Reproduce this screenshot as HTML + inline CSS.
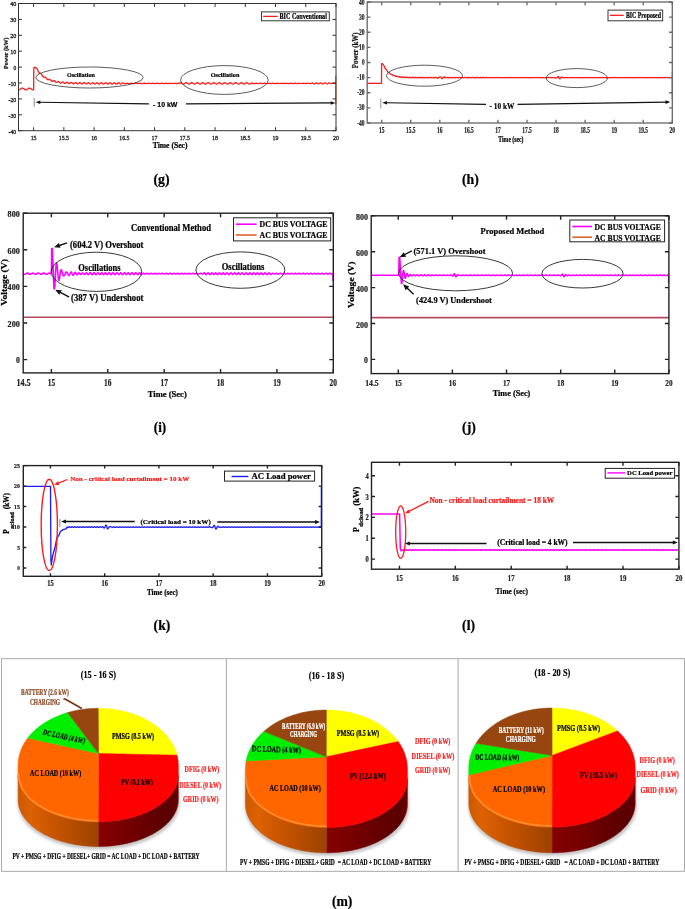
<!DOCTYPE html>
<html><head><meta charset="utf-8"><title>Figure</title>
<style>html,body{margin:0;padding:0;background:#fff;} svg{display:block;}</style>
</head><body>
<svg width="685" height="909" viewBox="0 0 685 909">
<rect width="685" height="909" fill="#fff"/>
<path d="M18.5,89.84 L19,89.9 L19.5,89.78 L20,89.5 L20.5,89.13 L21,88.73 L21.5,88.39 L22,88.16 L22.5,88.1 L23,88.22 L23.5,88.5 L24,88.87 L24.5,89.27 L25,89.61 L25.5,89.84 L26,89.9 L26.5,89.78 L27,89.5 L27.5,89.13 L28,88.73 L28.5,88.39 L29,88.16 L29.5,88.1 L30,88.22 L30.5,88.5 L31,88.87 L31.5,89.27 L32,89.61 L32.5,89.84 L33,89.9 L33.5,89.78 L33.62,89.5 L33.82,67.8 L35.12,67.2 L36.62,68.4 L37.12,68.87 L37.62,69.95 L38.12,71.12 L38.62,72.17 L39.12,72.89 L39.62,73.25 L40.12,73.37 L40.62,73.49 L41.12,73.82 L41.62,74.45 L42.12,75.31 L42.62,76.2 L43.12,76.88 L43.62,77.21 L44.12,77.23 L44.62,77.11 L45.12,77.1 L45.62,77.35 L46.12,77.92 L46.62,78.65 L47.12,79.31 L47.62,79.71 L48.12,79.77 L48.62,79.57 L49.12,79.33 L49.62,79.29 L50.12,79.56 L50.62,80.1 L51.12,80.74 L51.62,81.22 L52.12,81.38 L52.62,81.23 L53.12,80.9 L53.62,80.64 L54.12,80.65 L54.62,80.97 L55.12,81.52 L55.62,82.05 L56.12,82.36 L56.62,82.33 L57.12,82.03 L57.62,81.65 L58.12,81.43 L58.62,81.52 L59.12,81.92 L59.62,82.44 L60.12,82.87 L60.62,83.02 L61.12,82.83 L61.62,82.44 L62.12,82.07 L62.62,81.93 L63.12,82.13 L63.62,82.57 L64.12,83.07 L64.62,83.37 L65.12,83.36 L65.62,83.05 L66.12,82.61 L66.62,82.3 L67.12,82.27 L67.62,82.57 L68.12,83.05 L68.62,83.48 L69.12,83.65 L69.62,83.49 L70.12,83.09 L70.62,82.67 L71.12,82.44 L71.62,82.54 L72.12,82.93 L72.62,83.41 L73.12,83.74 L73.62,83.77 L74.12,83.49 L74.62,83.04 L75.12,82.67 L75.62,82.56 L76.12,82.78 L76.62,83.23 L77.12,83.67 L77.62,83.89 L78.12,83.78 L78.62,83.4 L79.12,82.95 L79.62,82.66 L80.12,82.68 L80.62,83.01 L81.12,83.48 L81.62,83.86 L82.12,83.95 L82.62,83.71 L83.12,83.27 L83.62,82.85 L84.12,82.68 L84.62,82.83 L85.12,83.24 L85.62,83.7 L86.12,83.97 L86.62,83.92 L87.12,83.58 L87.62,83.12 L88.12,82.77 L88.62,82.73 L89.12,83 L89.62,83.45 L90.12,83.86 L90.62,84.01 L91.12,83.83 L91.62,83.41 L92.12,82.97 L92.62,82.73 L93.12,82.82 L93.62,83.19 L94.12,83.65 L94.62,83.97 L95.12,83.99 L95.62,83.7 L96.12,83.24 L96.62,82.85 L97.12,82.74 L97.62,82.95 L98.12,83.38 L98.62,83.82 L99.12,84.03 L99.62,83.92 L100.12,83.53 L100.62,83.07 L101.12,82.77 L101.62,82.79 L102.12,83.11 L102.62,83.58 L103.12,83.95 L103.62,84.03 L104.12,83.79 L104.62,83.34 L105.12,82.92 L105.62,82.74 L106.12,82.89 L106.62,83.3 L107.12,83.75 L107.62,84.02 L108.12,83.97 L108.62,83.63 L109.12,83.16 L109.62,82.82 L110.12,82.77 L110.62,83.04 L111.12,83.49 L111.62,83.9 L112.12,84.05 L112.62,83.86 L113.12,83.44 L113.62,83 L114.12,82.76 L114.62,82.84 L115.12,83.21 L115.62,83.67 L116.12,84 L116.62,84.01 L117.12,83.72 L117.62,83.26 L118.12,82.87 L118.62,82.75 L119.12,82.96 L119.62,83.4 L120.12,83.83 L120.62,84.04 L121.12,83.93 L121.62,83.54 L122.12,83.08 L122.62,82.78 L123.12,82.8 L123.62,83.12 L124.12,83.59 L124.62,83.53 L125.12,83.55 L125.62,83.49 L126.12,83.39 L126.62,83.29 L127.12,83.25 L127.62,83.28 L128.12,83.38 L128.62,83.48 L129.12,83.54 L129.62,83.53 L130.12,83.45 L130.62,83.35 L131.12,83.27 L131.62,83.25 L132.12,83.32 L132.62,83.42 L133.12,83.51 L133.62,83.55 L134.12,83.51 L134.62,83.41 L135.12,83.31 L135.62,83.25 L136.12,83.27 L136.62,83.36 L137.12,83.46 L137.62,83.54 L138.12,83.54 L138.62,83.47 L139.12,83.37 L139.62,83.28 L140.12,83.25 L140.62,83.3 L141.12,83.4 L141.62,83.5 L142.12,83.55 L142.62,83.52 L143.12,83.43 L143.62,83.33 L144.12,83.26 L144.62,83.26 L145.12,83.34 L145.62,83.44 L146.12,83.53 L146.62,83.55 L147.12,83.49 L147.62,83.39 L148.12,83.29 L148.62,83.25 L149.12,83.28 L149.62,83.38 L150.12,83.48 L150.62,83.55 L151.12,83.53 L151.62,83.45 L152.12,83.35 L152.62,83.27 L153.12,83.25 L153.62,83.32 L154.12,83.42 L154.62,83.52 L155.12,83.55 L155.62,83.51 L156.12,83.41 L156.62,83.31 L157.12,83.25 L157.62,83.27 L158.12,83.36 L158.62,83.46 L159.12,83.54 L159.62,83.54 L160.12,83.47 L160.62,83.37 L161.12,83.28 L161.62,83.25 L162.12,83.3 L162.62,83.4 L163.12,83.5 L163.62,83.55 L164.12,83.52 L164.62,83.43 L165.12,83.33 L165.62,83.26 L166.12,83.26 L166.62,83.34 L167.12,83.44 L167.62,83.53 L168.12,83.55 L168.62,83.49 L169.12,83.39 L169.62,83.29 L170.12,83.25 L170.62,83.28 L171.12,83.38 L171.62,83.48 L172.12,83.55 L172.62,83.53 L173.12,83.45 L173.62,83.35 L174.12,83.27 L174.62,83.25 L175.12,83.32 L175.62,83.42 L176.12,83.52 L176.62,83.55 L177.12,83.51 L177.62,83.41 L178.12,83.31 L178.62,83.25 L179.12,83.6 L179.62,83.2 L180.12,82.87 L180.62,82.71 L181.12,82.76 L181.62,83.02 L182.12,83.4 L182.62,83.78 L183.12,84.04 L183.62,84.09 L184.12,83.93 L184.62,83.6 L185.12,83.2 L185.62,82.87 L186.12,82.71 L186.62,82.76 L187.12,83.02 L187.62,83.4 L188.12,83.78 L188.62,84.04 L189.12,84.09 L189.62,83.93 L190.12,83.6 L190.62,83.2 L191.12,82.87 L191.62,82.71 L192.12,82.76 L192.62,83.02 L193.12,83.4 L193.62,83.78 L194.12,84.04 L194.62,84.09 L195.12,83.93 L195.62,83.6 L196.12,83.2 L196.62,82.87 L197.12,82.71 L197.62,82.76 L198.12,83.02 L198.62,83.4 L199.12,83.78 L199.62,84.04 L200.12,84.09 L200.62,83.93 L201.12,83.6 L201.62,83.2 L202.12,82.87 L202.62,82.71 L203.12,82.76 L203.62,83.02 L204.12,83.4 L204.62,83.78 L205.12,84.04 L205.62,84.09 L206.12,83.93 L206.62,83.6 L207.12,83.2 L207.62,82.87 L208.12,82.71 L208.62,82.76 L209.12,83.02 L209.62,83.4 L210.12,83.78 L210.62,84.04 L211.12,84.09 L211.62,83.93 L212.12,83.6 L212.62,83.2 L213.12,82.87 L213.62,82.71 L214.12,82.76 L214.62,83.02 L215.12,83.4 L215.62,83.78 L216.12,84.04 L216.62,84.09 L217.12,83.93 L217.62,83.6 L218.12,83.2 L218.62,82.87 L219.12,82.71 L219.62,82.76 L220.12,83.02 L220.62,83.4 L221.12,83.78 L221.62,84.04 L222.12,84.09 L222.62,83.93 L223.12,83.6 L223.62,83.2 L224.12,82.87 L224.62,82.71 L225.12,82.76 L225.62,83.02 L226.12,83.4 L226.62,83.78 L227.12,84.04 L227.62,84.09 L228.12,83.93 L228.62,83.6 L229.12,83.2 L229.62,82.87 L230.12,82.71 L230.62,82.76 L231.12,83.02 L231.62,83.4 L232.12,83.78 L232.62,84.04 L233.12,84.09 L233.62,83.93 L234.12,83.6 L234.62,83.2 L235.12,82.87 L235.62,82.71 L236.12,82.76 L236.62,83.02 L237.12,83.4 L237.62,83.78 L238.12,84.04 L238.62,84.09 L239.12,83.93 L239.62,83.6 L240.12,83.2 L240.62,82.87 L241.12,82.71 L241.62,82.76 L242.12,83.02 L242.62,83.4 L243.12,83.78 L243.62,84.04 L244.12,84.09 L244.62,83.93 L245.12,83.6 L245.62,83.2 L246.12,82.87 L246.62,82.71 L247.12,82.76 L247.62,83.02 L248.12,83.4 L248.62,83.78 L249.12,84.04 L249.62,84.09 L250.12,83.93 L250.62,83.6 L251.12,83.2 L251.62,83.26 L252.12,83.26 L252.62,83.34 L253.12,83.44 L253.62,83.53 L254.12,83.55 L254.62,83.49 L255.12,83.39 L255.62,83.29 L256.12,83.25 L256.62,83.28 L257.12,83.38 L257.62,83.48 L258.12,83.55 L258.62,83.53 L259.12,83.45 L259.62,83.35 L260.12,83.27 L260.62,83.25 L261.12,83.32 L261.62,83.42 L262.12,83.52 L262.62,83.55 L263.12,83.51 L263.62,83.41 L264.12,83.31 L264.62,83.25 L265.12,83.27 L265.62,83.36 L266.12,83.46 L266.62,83.54 L267.12,83.54 L267.62,83.47 L268.12,83.37 L268.62,83.28 L269.12,83.25 L269.62,83.3 L270.12,83.4 L270.62,83.5 L271.12,83.55 L271.62,83.52 L272.12,83.43 L272.62,83.33 L273.12,83.26 L273.62,83.26 L274.12,83.34 L274.62,83.44 L275.12,83.53 L275.62,83.55 L276.12,83.49 L276.62,83.39 L277.12,83.29 L277.62,83.25 L278.12,83.28 L278.62,83.38 L279.12,83.48 L279.62,83.55 L280.12,83.53 L280.62,83.45 L281.12,83.35 L281.62,83.27 L282.12,83.25 L282.62,83.32 L283.12,83.42 L283.62,83.52 L284.12,83.55 L284.62,83.51 L285.12,83.41 L285.62,83.31 L286.12,83.25 L286.62,83.27 L287.12,83.36 L287.62,83.46 L288.12,83.54 L288.62,83.54 L289.12,83.47 L289.62,83.37 L290.12,83.28 L290.62,83.25 L291.12,83.3 L291.62,83.4 L292.12,83.5 L292.62,83.55 L293.12,83.52 L293.62,83.43 L294.12,83.33 L294.62,83.26 L295.12,83.26 L295.62,83.34 L296.12,83.44 L296.62,83.53 L297.12,83.55 L297.62,83.49 L298.12,83.39 L298.62,83.29 L299.12,83.25 L299.62,83.28 L300.12,83.38 L300.62,83.48 L301.12,83.55 L301.62,83.53 L302.12,83.45 L302.62,83.35 L303.12,83.27 L303.62,83.25 L304.12,83.32 L304.62,83.42 L305.12,83.52 L305.62,83.55 L306.12,83.51 L306.62,83.41 L307.12,83.31 L307.62,83.25 L308.12,83.27 L308.62,83.36 L309.12,83.46 L309.62,83.54 L310.12,83.54 L310.62,83.47 L311.12,83.37 L311.62,83.28 L312.12,82.9 L312.62,83.07 L313.12,83.4 L313.62,83.73 L314.12,83.9 L314.62,83.81 L315.12,83.51 L315.62,83.16 L316.12,82.93 L316.62,82.94 L317.12,83.19 L317.62,83.54 L318.12,83.83 L318.62,83.89 L319.12,83.71 L319.62,83.36 L320.12,83.04 L320.62,82.9 L321.12,83.02 L321.62,83.33 L322.12,83.68 L322.62,83.88 L323.12,83.84 L323.62,83.58 L324.12,83.22 L324.62,82.96 L325.12,82.92 L325.62,83.12 L326.12,83.47 L326.62,83.78 L327.12,83.9 L327.62,83.76 L328.12,83.44 L328.62,83.09 L329.12,82.91 L329.62,82.97 L330.12,83.36 L330.62,83.46 L331.12,83.54 L331.62,83.54 L332.12,83.47 L332.62,83.37 L333.12,83.28 L333.62,83.25 L334.12,83.3 L334.62,83.4 L335.12,83.5 L335.7,83" stroke="#ff1a1a" stroke-width="1.3" fill="none" stroke-linejoin="round" />
<line x1="335.8" y1="76" x2="335.8" y2="104.6" stroke="#ff3030" stroke-width="1" />
<rect x="18.5" y="3.5" width="317.5" height="127.2" stroke="#333" stroke-width="1" fill="none"/>
<path d="M33.62,130.7v-3.5M33.62,3.5v3.5M63.86,130.7v-3.5M63.86,3.5v3.5M94.1,130.7v-3.5M94.1,3.5v3.5M124.33,130.7v-3.5M124.33,3.5v3.5M154.57,130.7v-3.5M154.57,3.5v3.5M184.81,130.7v-3.5M184.81,3.5v3.5M215.05,130.7v-3.5M215.05,3.5v3.5M245.29,130.7v-3.5M245.29,3.5v3.5M275.52,130.7v-3.5M275.52,3.5v3.5M305.76,130.7v-3.5M305.76,3.5v3.5M336,130.7v-3.5M336,3.5v3.5M18.5,3.5h3.5M336,3.5h-3.5M18.5,19.4h3.5M336,19.4h-3.5M18.5,35.3h3.5M336,35.3h-3.5M18.5,51.2h3.5M336,51.2h-3.5M18.5,67.1h3.5M336,67.1h-3.5M18.5,83h3.5M336,83h-3.5M18.5,98.9h3.5M336,98.9h-3.5M18.5,114.8h3.5M336,114.8h-3.5M18.5,130.7h3.5M336,130.7h-3.5" stroke="#333" stroke-width="1" fill="none"/>
<text x="30.67" y="139.58" font-family="'Liberation Serif', 'Times New Roman', serif" font-weight="normal" font-size="6.4" fill="#222" stroke="#222" stroke-width="0.3" textLength="5.9" lengthAdjust="spacingAndGlyphs">15</text>
<text x="58.76" y="139.58" font-family="'Liberation Serif', 'Times New Roman', serif" font-weight="normal" font-size="6.4" fill="#222" stroke="#222" stroke-width="0.3" textLength="10.2" lengthAdjust="spacingAndGlyphs">15.5</text>
<text x="91.15" y="139.58" font-family="'Liberation Serif', 'Times New Roman', serif" font-weight="normal" font-size="6.4" fill="#222" stroke="#222" stroke-width="0.3" textLength="5.9" lengthAdjust="spacingAndGlyphs">16</text>
<text x="119.23" y="139.58" font-family="'Liberation Serif', 'Times New Roman', serif" font-weight="normal" font-size="6.4" fill="#222" stroke="#222" stroke-width="0.3" textLength="10.2" lengthAdjust="spacingAndGlyphs">16.5</text>
<text x="151.62" y="139.58" font-family="'Liberation Serif', 'Times New Roman', serif" font-weight="normal" font-size="6.4" fill="#222" stroke="#222" stroke-width="0.3" textLength="5.9" lengthAdjust="spacingAndGlyphs">17</text>
<text x="179.71" y="139.58" font-family="'Liberation Serif', 'Times New Roman', serif" font-weight="normal" font-size="6.4" fill="#222" stroke="#222" stroke-width="0.3" textLength="10.2" lengthAdjust="spacingAndGlyphs">17.5</text>
<text x="212.1" y="139.58" font-family="'Liberation Serif', 'Times New Roman', serif" font-weight="normal" font-size="6.4" fill="#222" stroke="#222" stroke-width="0.3" textLength="5.9" lengthAdjust="spacingAndGlyphs">18</text>
<text x="240.19" y="139.58" font-family="'Liberation Serif', 'Times New Roman', serif" font-weight="normal" font-size="6.4" fill="#222" stroke="#222" stroke-width="0.3" textLength="10.2" lengthAdjust="spacingAndGlyphs">18.5</text>
<text x="272.57" y="139.58" font-family="'Liberation Serif', 'Times New Roman', serif" font-weight="normal" font-size="6.4" fill="#222" stroke="#222" stroke-width="0.3" textLength="5.9" lengthAdjust="spacingAndGlyphs">19</text>
<text x="300.66" y="139.58" font-family="'Liberation Serif', 'Times New Roman', serif" font-weight="normal" font-size="6.4" fill="#222" stroke="#222" stroke-width="0.3" textLength="10.2" lengthAdjust="spacingAndGlyphs">19.5</text>
<text x="333.05" y="139.58" font-family="'Liberation Serif', 'Times New Roman', serif" font-weight="normal" font-size="6.4" fill="#222" stroke="#222" stroke-width="0.3" textLength="5.9" lengthAdjust="spacingAndGlyphs">20</text>
<text x="10.15" y="6.48" font-family="'Liberation Serif', 'Times New Roman', serif" font-weight="normal" font-size="6.4" fill="#222" stroke="#222" stroke-width="0.3" textLength="6.1" lengthAdjust="spacingAndGlyphs">40</text>
<text x="10.15" y="22.38" font-family="'Liberation Serif', 'Times New Roman', serif" font-weight="normal" font-size="6.4" fill="#222" stroke="#222" stroke-width="0.3" textLength="6.1" lengthAdjust="spacingAndGlyphs">30</text>
<text x="10.15" y="38.28" font-family="'Liberation Serif', 'Times New Roman', serif" font-weight="normal" font-size="6.4" fill="#222" stroke="#222" stroke-width="0.3" textLength="6.1" lengthAdjust="spacingAndGlyphs">20</text>
<text x="10.15" y="54.18" font-family="'Liberation Serif', 'Times New Roman', serif" font-weight="normal" font-size="6.4" fill="#222" stroke="#222" stroke-width="0.3" textLength="6.1" lengthAdjust="spacingAndGlyphs">10</text>
<text x="13.45" y="70.08" font-family="'Liberation Serif', 'Times New Roman', serif" font-weight="normal" font-size="6.4" fill="#222" stroke="#222" stroke-width="0.3" textLength="2.8" lengthAdjust="spacingAndGlyphs">0</text>
<text x="8.55" y="85.98" font-family="'Liberation Serif', 'Times New Roman', serif" font-weight="normal" font-size="6.4" fill="#222" stroke="#222" stroke-width="0.3" textLength="7.7" lengthAdjust="spacingAndGlyphs">-10</text>
<text x="8.55" y="101.88" font-family="'Liberation Serif', 'Times New Roman', serif" font-weight="normal" font-size="6.4" fill="#222" stroke="#222" stroke-width="0.3" textLength="7.7" lengthAdjust="spacingAndGlyphs">-20</text>
<text x="8.55" y="117.78" font-family="'Liberation Serif', 'Times New Roman', serif" font-weight="normal" font-size="6.4" fill="#222" stroke="#222" stroke-width="0.3" textLength="7.7" lengthAdjust="spacingAndGlyphs">-30</text>
<text x="8.55" y="133.68" font-family="'Liberation Serif', 'Times New Roman', serif" font-weight="normal" font-size="6.4" fill="#222" stroke="#222" stroke-width="0.3" textLength="7.7" lengthAdjust="spacingAndGlyphs">-40</text>
<text transform="translate(8.3,69.2) rotate(-90)" x="0.11" y="0" font-family="'Liberation Serif', 'Times New Roman', serif" font-weight="bold" font-size="7" fill="#111" stroke="#111" stroke-width="0.22" textLength="31.68" lengthAdjust="spacingAndGlyphs">Power (kW)</text>
<text x="152.71" y="147.9" font-family="'Liberation Serif', 'Times New Roman', serif" font-weight="bold" font-size="7.7" fill="#000" stroke="#000" stroke-width="0.22" textLength="34.78" lengthAdjust="spacingAndGlyphs">Time (Sec)</text>
<rect x="261.4" y="11.9" width="67.9" height="8.9" stroke="#222" stroke-width="0.9" fill="#fff"/>
<line x1="263.2" y1="16.4" x2="277.7" y2="16.4" stroke="#ff1a1a" stroke-width="1.3" />
<text x="279.51" y="18.56" font-family="'Liberation Serif', 'Times New Roman', serif" font-weight="bold" font-size="7.2" fill="#000" stroke="#000" stroke-width="0.22" textLength="47.38" lengthAdjust="spacingAndGlyphs">BIC Conventional</text>
<ellipse cx="89.5" cy="77.5" rx="53.6" ry="10.5" stroke="#333" stroke-width="0.8" fill="none"/>
<ellipse cx="224.4" cy="80" rx="43.8" ry="14.4" stroke="#333" stroke-width="0.8" fill="none"/>
<text x="67.01" y="76.94" font-family="'Liberation Serif', 'Times New Roman', serif" font-weight="bold" font-size="6.8" fill="#000" stroke="#000" stroke-width="0.22" textLength="27.88" lengthAdjust="spacingAndGlyphs">Oscillation</text>
<text x="210.81" y="77.24" font-family="'Liberation Serif', 'Times New Roman', serif" font-weight="bold" font-size="6.8" fill="#000" stroke="#000" stroke-width="0.22" textLength="28.58" lengthAdjust="spacingAndGlyphs">Oscillation</text>
<line x1="34.2" y1="98.1" x2="34.2" y2="106.5" stroke="#777" stroke-width="0.9" />
<line x1="148.9" y1="103.8" x2="39.34" y2="102.25" stroke="#111" stroke-width="1.2" />
<path d="M35.5,102.2 L40.32,100.57 L40.28,103.97 Z" fill="#111"/>
<line x1="186" y1="103.8" x2="331.66" y2="102.92" stroke="#111" stroke-width="1.2" />
<path d="M335.5,102.9 L330.71,104.63 L330.69,101.23 Z" fill="#111"/>
<text x="153.11" y="106.86" font-family="'Liberation Sans', Arial, sans-serif" font-weight="bold" font-size="7.4" fill="#000" stroke="#000" stroke-width="0.22" textLength="24.28" lengthAdjust="spacingAndGlyphs">- 10 kW</text>
<text x="153.51" y="183.56" font-family="'Liberation Serif', 'Times New Roman', serif" font-weight="bold" font-size="14" fill="#000" stroke="#000" stroke-width="0.22" textLength="16.08" lengthAdjust="spacingAndGlyphs">(g)</text>
<path d="M367.2,83.3 L381.5,83.3 L381.6,63.6 L382.8,63.8 L383.5,65.04 L384,65.76 L384.5,66.82 L385,68.09 L385.5,69.09 L386,69.56 L386.5,69.87 L387,70.49 L387.5,71.43 L388,72.22 L388.5,72.51 L389,72.56 L389.5,72.87 L390,73.56 L390.5,74.23 L391,74.44 L391.5,74.33 L392,74.41 L392.5,74.91 L393,75.5 L393.5,75.7 L394,75.52 L394.5,75.42 L395,75.76 L395.5,76.3 L396,76.52 L396.5,76.31 L397,76.1 L397.5,76.29 L398,76.78 L398.5,77.05 L399,76.86 L399.5,76.56 L400,76.62 L400.5,77.05 L401,77.37 L401.5,77.24 L402,76.89 L402.5,76.84 L403,77.2 L403.5,77.56 L404,77.5 L404.5,77.14 L405,76.98 L405.5,77.27 L406,77.66 L406.5,77.68 L407,77.33 L407.5,77.08 L408,77.28 L408.5,77.69 L409,77.8 L409.5,77.49 L410,77.17 L410.5,77.28 L411,77.68 L411.5,77.88 L412,77.62 L412.5,77.26 L413,77.26 L413.5,77.64 L414,77.91 L414.5,77.73 L415,77.34 L415.5,77.25 L416,77.58 L416.5,77.91 L417,77.82 L417.5,77.43 L418,77.25 L418.5,77.51 L419,77.89 L419.5,77.89 L420,77.52 L420.5,77.26 L421,77.44 L421.5,77.84 L422,77.94 L422.5,77.61 L423,77.28 L423.5,77.38 L424,77.78 L424.5,77.96 L425,77.7 L425.5,77.33 L426,77.33 L426.5,77.7 L427,77.97 L427.5,77.78 L428,77.39 L428.5,77.29 L429,77.62 L429.5,77.95 L430,77.85 L430.5,77.46 L431,77.27 L431.5,77.54 L432,77.91 L432.5,77.91 L433,77.54 L433.5,77.28 L434,77.46 L434.5,77.86 L435,77.95 L435.5,77.62 L436,77.3 L436.5,77.39 L437,77.79 L437.5,78.25 L438,78.19 L438.5,77.75 L439,77.34 L439.5,77.09 L440,76.9 L440.5,76.86 L441,77.38 L441.5,78.22 L442,78.7 L442.5,78.58 L443,77.86 L443.5,77.05 L444,76.79 L444.5,77.26 L445,77.91 L445.5,77.91 L446,77.54 L446.5,77.28 L447,77.46 L447.5,77.86 L448,77.95 L448.5,77.62 L449,77.3 L449.5,77.39 L450,77.79 L450.5,77.97 L451,77.71 L451.5,77.34 L452,77.34 L452.5,77.71 L453,77.97 L453.5,77.79 L454,77.39 L454.5,77.3 L455,77.62 L455.5,77.95 L456,77.86 L456.5,77.46 L457,77.28 L457.5,77.54 L458,77.91 L458.5,77.91 L459,77.54 L459.5,77.28 L460,77.46 L460.5,77.86 L461,77.95 L461.5,77.62 L462,77.3 L462.5,77.39 L463,77.79 L463.5,77.97 L464,77.71 L464.5,77.34 L465,77.34 L465.5,77.71 L466,77.97 L466.5,77.79 L467,77.39 L467.5,77.3 L468,77.62 L468.5,77.95 L469,77.86 L469.5,77.46 L470,77.28 L470.5,77.54 L471,77.91 L471.5,77.91 L472,77.54 L472.5,77.28 L473,77.46 L473.5,77.86 L474,77.95 L474.5,77.62 L475,77.3 L475.5,77.39 L476,77.79 L476.5,77.97 L477,77.71 L477.5,77.34 L478,77.34 L478.5,77.71 L479,77.97 L479.5,77.79 L480,77.39 L480.5,77.3 L481,77.62 L481.5,77.95 L482,77.86 L482.5,77.46 L483,77.28 L483.5,77.54 L484,77.91 L484.5,77.91 L485,77.54 L485.5,77.28 L486,77.46 L486.5,77.7 L487,77.74 L487.5,77.62 L488,77.51 L488.5,77.55 L489,77.68 L489.5,77.74 L490,77.65 L490.5,77.53 L491,77.53 L491.5,77.65 L492,77.74 L492.5,77.68 L493,77.55 L493.5,77.51 L494,77.62 L494.5,77.74 L495,77.7 L495.5,77.57 L496,77.51 L496.5,77.6 L497,77.72 L497.5,77.72 L498,77.6 L498.5,77.51 L499,77.57 L499.5,77.7 L500,77.74 L500.5,77.62 L501,77.51 L501.5,77.55 L502,77.68 L502.5,77.74 L503,77.65 L503.5,77.53 L504,77.53 L504.5,77.65 L505,77.74 L505.5,77.68 L506,77.55 L506.5,77.51 L507,77.62 L507.5,77.74 L508,77.7 L508.5,77.57 L509,77.51 L509.5,77.6 L510,77.72 L510.5,77.72 L511,77.6 L511.5,77.51 L512,77.57 L512.5,77.7 L513,77.74 L513.5,77.62 L514,77.51 L514.5,77.55 L515,77.68 L515.5,77.74 L516,77.65 L516.5,77.53 L517,77.53 L517.5,77.65 L518,77.74 L518.5,77.68 L519,77.55 L519.5,77.51 L520,77.62 L520.5,77.74 L521,77.7 L521.5,77.57 L522,77.51 L522.5,77.6 L523,77.72 L523.5,77.72 L524,77.6 L524.5,77.51 L525,77.57 L525.5,77.7 L526,77.74 L526.5,77.62 L527,77.51 L527.5,77.55 L528,77.68 L528.5,77.74 L529,77.65 L529.5,77.53 L530,77.53 L530.5,77.65 L531,77.74 L531.5,77.68 L532,77.55 L532.5,77.51 L533,77.62 L533.5,77.74 L534,77.7 L534.5,77.57 L535,77.51 L535.5,77.6 L536,77.72 L536.5,77.72 L537,77.6 L537.5,77.51 L538,77.57 L538.5,77.7 L539,77.74 L539.5,77.62 L540,77.51 L540.5,77.55 L541,77.68 L541.5,77.74 L542,77.65 L542.5,77.53 L543,77.53 L543.5,77.65 L544,77.74 L544.5,77.68 L545,77.55 L545.5,77.51 L546,77.62 L546.5,77.74 L547,77.7 L547.5,77.57 L548,77.51 L548.5,77.6 L549,77.72 L549.5,77.72 L550,77.6 L550.5,77.51 L551,77.57 L551.5,77.7 L552,77.74 L552.5,77.62 L553,77.51 L553.5,77.55 L554,77.68 L554.5,77.74 L555,77.67 L555.5,77.82 L556,78.01 L556.5,78.06 L557,77.72 L557.5,77.03 L558,76.46 L558.5,76.61 L559,77.68 L559.5,78.69 L560,78.77 L560.5,78.16 L561,77.48 L561.5,77.17 L562,77.25 L562.5,77.46 L563,77.6 L563.5,77.51 L564,77.57 L564.5,77.7 L565,77.74 L565.5,77.62 L566,77.51 L566.5,77.55 L567,77.68 L567.5,77.74 L568,77.65 L568.5,77.53 L569,77.53 L569.5,77.65 L570,77.74 L570.5,77.68 L571,77.55 L571.5,77.51 L572,77.62 L572.5,77.74 L573,77.7 L573.5,77.57 L574,77.51 L574.5,77.6 L575,77.72 L575.5,77.72 L576,77.6 L576.5,77.51 L577,77.57 L577.5,77.7 L578,77.74 L578.5,77.62 L579,77.51 L579.5,77.55 L580,77.68 L580.5,77.74 L581,77.65 L581.5,77.53 L582,77.53 L582.5,77.65 L583,77.74 L583.5,77.68 L584,77.55 L584.5,77.51 L585,77.62 L585.5,77.74 L586,77.7 L586.5,77.57 L587,77.51 L587.5,77.6 L588,77.72 L588.5,77.72 L589,77.6 L589.5,77.51 L590,77.57 L590.5,77.7 L591,77.74 L591.5,77.63 L592,77.51 L592.5,77.55 L593,77.68 L593.5,77.74 L594,77.65 L594.5,77.53 L595,77.53 L595.5,77.65 L596,77.74 L596.5,77.68 L597,77.55 L597.5,77.51 L598,77.62 L598.5,77.74 L599,77.7 L599.5,77.57 L600,77.51 L600.5,77.6 L601,77.72 L601.5,77.72 L602,77.6 L602.5,77.51 L603,77.57 L603.5,77.7 L604,77.74 L604.5,77.63 L605,77.51 L605.5,77.55 L606,77.68 L606.5,77.74 L607,77.65 L607.5,77.53 L608,77.53 L608.5,77.65 L609,77.74 L609.5,77.68 L610,77.55 L610.5,77.51 L611,77.62 L611.5,77.74 L612,77.7 L612.5,77.57 L613,77.51 L613.5,77.6 L614,77.72 L614.5,77.72 L615,77.6 L615.5,77.51 L616,77.57 L616.5,77.7 L617,77.74 L617.5,77.62 L618,77.51 L618.5,77.55 L619,77.68 L619.5,77.74 L620,77.65 L620.5,77.53 L621,77.53 L621.5,77.65 L622,77.74 L622.5,77.68 L623,77.55 L623.5,77.51 L624,77.62 L624.5,77.74 L625,77.7 L625.5,77.57 L626,77.51 L626.5,77.6 L627,77.72 L627.5,77.72 L628,77.6 L628.5,77.51 L629,77.57 L629.5,77.7 L630,77.74 L630.5,77.63 L631,77.51 L631.5,77.55 L632,77.68 L632.5,77.74 L633,77.65 L633.5,77.53 L634,77.53 L634.5,77.65 L635,77.74 L635.5,77.68 L636,77.55 L636.5,77.51 L637,77.62 L637.5,77.74 L638,77.7 L638.5,77.57 L639,77.51 L639.5,77.6 L640,77.72 L640.5,77.72 L641,77.6 L641.5,77.51 L642,77.57 L642.5,77.7 L643,77.74 L643.5,77.62 L644,77.51 L644.5,77.55 L645,77.68 L645.5,77.74 L646,77.65 L646.5,77.53 L647,77.53 L647.5,77.65 L648,77.74 L648.5,77.68 L649,77.55 L649.5,77.51 L650,77.62 L650.5,77.74 L651,77.7 L651.5,77.57 L652,77.51 L652.5,77.6 L653,77.72 L653.5,77.72 L654,77.6 L654.5,77.51 L655,77.57 L655.5,77.7 L656,77.74 L656.5,77.63 L657,77.51 L657.5,77.55 L658,77.68 L658.5,77.74 L659,77.65 L659.5,77.53 L660,77.53 L660.5,77.65 L661,77.74 L661.5,77.68 L662,77.55 L662.5,77.51 L663,77.62 L663.5,77.74 L664,77.7 L664.5,77.57 L665,77.51 L665.5,77.6 L666,77.72 L666.5,77.72 L667,77.6 L667.5,77.51 L668,77.57 L668.5,77.7 L669,77.74 L669.5,77.62 L670,77.51 L670.5,77.55 L671,77.68 L671.5,77.74 L672,77.62" stroke="#ff1a1a" stroke-width="1.3" fill="none" stroke-linejoin="round" />
<line x1="672.1" y1="72.4" x2="672.1" y2="99.3" stroke="#ff5050" stroke-width="1" />
<rect x="367.2" y="2" width="305.1" height="121" stroke="#666" stroke-width="1.3" fill="none"/>
<path d="M381.73,123v-3.2M381.73,2v3.2M410.79,123v-3.2M410.79,2v3.2M439.84,123v-3.2M439.84,2v3.2M468.9,123v-3.2M468.9,2v3.2M497.96,123v-3.2M497.96,2v3.2M527.01,123v-3.2M527.01,2v3.2M556.07,123v-3.2M556.07,2v3.2M585.13,123v-3.2M585.13,2v3.2M614.19,123v-3.2M614.19,2v3.2M643.24,123v-3.2M643.24,2v3.2M672.3,123v-3.2M672.3,2v3.2M367.2,2h3.2M672.3,2h-3.2M367.2,17.12h3.2M672.3,17.12h-3.2M367.2,32.25h3.2M672.3,32.25h-3.2M367.2,47.38h3.2M672.3,47.38h-3.2M367.2,62.5h3.2M672.3,62.5h-3.2M367.2,77.62h3.2M672.3,77.62h-3.2M367.2,92.75h3.2M672.3,92.75h-3.2M367.2,107.88h3.2M672.3,107.88h-3.2M367.2,123h3.2M672.3,123h-3.2" stroke="#666" stroke-width="1.3" fill="none"/>
<text x="378.99" y="133.15" font-family="'Liberation Serif', 'Times New Roman', serif" font-weight="bold" font-size="7.2" fill="#222" stroke="#222" stroke-width="0.22" textLength="5.48" lengthAdjust="spacingAndGlyphs">15</text>
<text x="406.1" y="133.15" font-family="'Liberation Serif', 'Times New Roman', serif" font-weight="bold" font-size="7.2" fill="#222" stroke="#222" stroke-width="0.22" textLength="9.38" lengthAdjust="spacingAndGlyphs">15.5</text>
<text x="437.1" y="133.15" font-family="'Liberation Serif', 'Times New Roman', serif" font-weight="bold" font-size="7.2" fill="#222" stroke="#222" stroke-width="0.22" textLength="5.48" lengthAdjust="spacingAndGlyphs">16</text>
<text x="464.21" y="133.15" font-family="'Liberation Serif', 'Times New Roman', serif" font-weight="bold" font-size="7.2" fill="#222" stroke="#222" stroke-width="0.22" textLength="9.38" lengthAdjust="spacingAndGlyphs">16.5</text>
<text x="495.22" y="133.15" font-family="'Liberation Serif', 'Times New Roman', serif" font-weight="bold" font-size="7.2" fill="#222" stroke="#222" stroke-width="0.22" textLength="5.48" lengthAdjust="spacingAndGlyphs">17</text>
<text x="522.32" y="133.15" font-family="'Liberation Serif', 'Times New Roman', serif" font-weight="bold" font-size="7.2" fill="#222" stroke="#222" stroke-width="0.22" textLength="9.38" lengthAdjust="spacingAndGlyphs">17.5</text>
<text x="553.33" y="133.15" font-family="'Liberation Serif', 'Times New Roman', serif" font-weight="bold" font-size="7.2" fill="#222" stroke="#222" stroke-width="0.22" textLength="5.48" lengthAdjust="spacingAndGlyphs">18</text>
<text x="580.44" y="133.15" font-family="'Liberation Serif', 'Times New Roman', serif" font-weight="bold" font-size="7.2" fill="#222" stroke="#222" stroke-width="0.22" textLength="9.38" lengthAdjust="spacingAndGlyphs">18.5</text>
<text x="611.45" y="133.15" font-family="'Liberation Serif', 'Times New Roman', serif" font-weight="bold" font-size="7.2" fill="#222" stroke="#222" stroke-width="0.22" textLength="5.48" lengthAdjust="spacingAndGlyphs">19</text>
<text x="638.55" y="133.15" font-family="'Liberation Serif', 'Times New Roman', serif" font-weight="bold" font-size="7.2" fill="#222" stroke="#222" stroke-width="0.22" textLength="9.38" lengthAdjust="spacingAndGlyphs">19.5</text>
<text x="669.56" y="133.15" font-family="'Liberation Serif', 'Times New Roman', serif" font-weight="bold" font-size="7.2" fill="#222" stroke="#222" stroke-width="0.22" textLength="5.48" lengthAdjust="spacingAndGlyphs">20</text>
<text x="359.01" y="4.58" font-family="'Liberation Serif', 'Times New Roman', serif" font-weight="bold" font-size="7.6" fill="#222" stroke="#222" stroke-width="0.22" textLength="5.58" lengthAdjust="spacingAndGlyphs">40</text>
<text x="359.01" y="19.71" font-family="'Liberation Serif', 'Times New Roman', serif" font-weight="bold" font-size="7.6" fill="#222" stroke="#222" stroke-width="0.22" textLength="5.58" lengthAdjust="spacingAndGlyphs">30</text>
<text x="359.01" y="34.83" font-family="'Liberation Serif', 'Times New Roman', serif" font-weight="bold" font-size="7.6" fill="#222" stroke="#222" stroke-width="0.22" textLength="5.58" lengthAdjust="spacingAndGlyphs">20</text>
<text x="359.01" y="49.96" font-family="'Liberation Serif', 'Times New Roman', serif" font-weight="bold" font-size="7.6" fill="#222" stroke="#222" stroke-width="0.22" textLength="5.58" lengthAdjust="spacingAndGlyphs">10</text>
<text x="361.91" y="65.08" font-family="'Liberation Serif', 'Times New Roman', serif" font-weight="bold" font-size="7.6" fill="#222" stroke="#222" stroke-width="0.22" textLength="2.68" lengthAdjust="spacingAndGlyphs">0</text>
<text x="357.21" y="80.21" font-family="'Liberation Serif', 'Times New Roman', serif" font-weight="bold" font-size="7.6" fill="#222" stroke="#222" stroke-width="0.22" textLength="7.38" lengthAdjust="spacingAndGlyphs">-10</text>
<text x="357.21" y="95.33" font-family="'Liberation Serif', 'Times New Roman', serif" font-weight="bold" font-size="7.6" fill="#222" stroke="#222" stroke-width="0.22" textLength="7.38" lengthAdjust="spacingAndGlyphs">-20</text>
<text x="357.21" y="110.46" font-family="'Liberation Serif', 'Times New Roman', serif" font-weight="bold" font-size="7.6" fill="#222" stroke="#222" stroke-width="0.22" textLength="7.38" lengthAdjust="spacingAndGlyphs">-30</text>
<text x="357.21" y="125.58" font-family="'Liberation Serif', 'Times New Roman', serif" font-weight="bold" font-size="7.6" fill="#222" stroke="#222" stroke-width="0.22" textLength="7.38" lengthAdjust="spacingAndGlyphs">-40</text>
<text transform="translate(358.18,68.3) rotate(-90)" x="0.11" y="0" font-family="'Liberation Serif', 'Times New Roman', serif" font-weight="bold" font-size="7.6" fill="#111" stroke="#111" stroke-width="0.22" textLength="35.68" lengthAdjust="spacingAndGlyphs">Power (kW)</text>
<text x="498.31" y="142.42" font-family="'Liberation Serif', 'Times New Roman', serif" font-weight="bold" font-size="8" fill="#000" stroke="#000" stroke-width="0.22" textLength="25.18" lengthAdjust="spacingAndGlyphs">Time (sec)</text>
<rect x="608" y="10.1" width="54.7" height="10.7" stroke="#222" stroke-width="0.9" fill="#fff"/>
<line x1="609.8" y1="15.3" x2="623.7" y2="15.3" stroke="#ff1a1a" stroke-width="1.3" />
<text x="625.91" y="17.52" font-family="'Liberation Serif', 'Times New Roman', serif" font-weight="bold" font-size="7.4" fill="#000" stroke="#000" stroke-width="0.22" textLength="34.98" lengthAdjust="spacingAndGlyphs">BIC Proposed</text>
<ellipse cx="424.5" cy="75.7" rx="38" ry="10.5" stroke="#333" stroke-width="0.8" fill="none"/>
<ellipse cx="576.8" cy="78.1" rx="30.6" ry="9.5" stroke="#333" stroke-width="0.8" fill="none"/>
<line x1="380.8" y1="98.7" x2="380.8" y2="108.5" stroke="#888" stroke-width="0.9" />
<line x1="486" y1="104.3" x2="386.04" y2="102.76" stroke="#111" stroke-width="1.2" />
<path d="M382.2,102.7 L387.03,100.97 L386.97,104.57 Z" fill="#111"/>
<line x1="517.5" y1="104.4" x2="666.46" y2="102.06" stroke="#111" stroke-width="1.2" />
<path d="M670.3,102 L665.53,103.88 L665.47,100.28 Z" fill="#111"/>
<text x="489.51" y="108.87" font-family="'Liberation Serif', 'Times New Roman', serif" font-weight="bold" font-size="9" fill="#000" stroke="#000" stroke-width="0.22" textLength="24.78" lengthAdjust="spacingAndGlyphs">- 10 kW</text>
<text x="461.91" y="183.66" font-family="'Liberation Serif', 'Times New Roman', serif" font-weight="bold" font-size="14" fill="#000" stroke="#000" stroke-width="0.22" textLength="16.88" lengthAdjust="spacingAndGlyphs">(h)</text>
<line x1="23.2" y1="317.2" x2="333.3" y2="317.2" stroke="#b4485c" stroke-width="1.6" />
<path d="M23.2,273.7 L23.6,273.96 L24,274.18 L24.4,274.29 L24.8,274.28 L25.2,274.15 L25.6,273.93 L26,273.67 L26.4,273.4 L26.8,273.2 L27.2,273.11 L27.6,273.13 L28,273.27 L28.4,273.5 L28.8,273.77 L29.2,274.02 L29.6,274.21 L30,274.3 L30.4,274.26 L30.8,274.11 L31.2,273.87 L31.6,273.6 L32,273.35 L32.4,273.17 L32.8,273.1 L33.2,273.15 L33.6,273.32 L34,273.56 L34.4,273.84 L34.8,274.08 L35.2,274.25 L35.6,274.3 L36,274.23 L36.4,274.05 L36.8,273.8 L37.2,273.53 L37.6,273.29 L38,273.14 L38.4,273.1 L38.8,273.19 L39.2,273.38 L39.6,273.63 L40,273.9 L40.4,274.13 L40.8,274.27 L41.2,274.29 L41.6,274.2 L42,274 L42.4,273.73 L42.8,273.47 L43.2,273.25 L43.6,273.12 L44,273.11 L44.4,273.22 L44.8,273.44 L45.2,273.7 L45.6,273.96 L46,274.18 L46.4,274.29 L46.8,274.28 L47.2,274.15 L47.6,273.93 L48,273.67 L48.4,273.4 L48.8,273.2 L49.2,273.11 L49.6,273.13 L50,273.27 L50.4,273.5 L50.8,273.77 L51.39,273.7 L51.69,248.6 L52.29,248.6 L53.99,288.6 L54.39,288.6 L54.79,286.13 L55.14,280.71 L55.49,274.4 L55.84,268.65 L56.19,264.64 L56.54,263.04 L56.89,263.91 L57.24,266.78 L57.59,270.77 L57.94,274.88 L58.29,278.2 L58.64,280.12 L58.99,280.43 L59.34,279.27 L59.69,277.11 L60.04,274.57 L60.39,272.22 L60.74,270.54 L61.09,269.76 L61.44,269.88 L61.79,270.72 L62.14,271.99 L62.49,273.36 L62.84,274.57 L63.19,275.44 L63.54,275.88 L63.89,275.9 L64.24,275.58 L64.59,274.99 L64.94,274.27 L65.29,273.5 L65.64,272.8 L65.99,272.26 L66.34,271.97 L66.69,272 L67.04,272.35 L67.39,272.98 L67.74,273.77 L68.09,274.57 L68.44,275.19 L68.79,275.49 L69.14,275.37 L69.49,274.85 L69.84,274.06 L70.19,273.17 L70.54,272.42 L70.89,272 L71.24,272.03 L71.59,272.48 L71.94,273.25 L72.29,274.11 L72.64,274.83 L72.99,275.22 L73.34,275.18 L73.69,274.73 L74.04,274.02 L74.39,273.27 L74.74,272.67 L75.09,272.41 L75.44,272.54 L75.79,273 L76.14,273.63 L76.49,274.24 L76.84,274.64 L77.19,274.73 L77.54,274.48 L77.89,274.01 L78.24,273.47 L78.59,273.04 L78.94,272.85 L79.29,272.96 L79.64,273.31 L79.99,273.78 L80.34,274.21 L80.69,274.44 L81.04,274.41 L81.39,274.13 L81.74,273.7 L82.09,273.27 L82.44,272.99 L82.79,272.95 L83.14,273.17 L83.49,273.58 L83.84,274.04 L84.19,274.39 L84.54,274.52 L84.89,274.37 L85.24,273.99 L85.59,273.51 L85.94,273.08 L86.29,272.85 L86.64,272.89 L86.99,273.2 L87.34,273.67 L87.69,274.17 L88.04,274.51 L88.39,274.6 L88.74,274.4 L89.09,273.97 L89.44,273.45 L89.79,273.01 L90.14,272.78 L90.49,272.86 L90.84,273.2 L91.19,273.7 L91.54,274.21 L91.89,274.55 L92.24,274.62 L92.59,274.39 L92.94,273.94 L93.29,273.42 L93.64,272.99 L93.99,272.79 L94.34,272.88 L94.69,273.24 L95.04,273.75 L95.39,274.24 L95.74,274.55 L96.09,274.59 L96.44,274.33 L96.79,273.87 L97.14,273.36 L97.49,272.96 L97.84,272.8 L98.19,272.93 L98.54,273.32 L98.89,273.83 L99.24,274.29 L99.59,274.56 L99.94,274.55 L100.29,274.26 L100.64,273.79 L100.99,273.29 L101.34,272.92 L101.69,272.81 L102.04,272.98 L102.39,273.4 L102.74,273.91 L103.09,274.35 L103.44,274.58 L103.79,274.53 L104.14,274.2 L104.49,273.71 L104.84,273.22 L105.19,272.88 L105.54,272.81 L105.89,273.03 L106.24,273.47 L106.59,273.98 L106.94,274.4 L107.29,274.6 L107.64,274.5 L107.99,274.14 L108.34,273.64 L108.69,273.16 L109.04,272.85 L109.39,272.82 L109.74,273.08 L110.09,273.54 L110.44,274.05 L110.79,274.45 L111.14,274.6 L111.49,274.46 L111.84,274.07 L112.19,273.56 L112.54,273.1 L112.89,272.83 L113.24,272.84 L113.59,273.14 L113.94,273.61 L114.29,274.12 L114.64,274.49 L114.99,274.6 L115.34,274.42 L115.69,274.01 L116.04,273.49 L116.39,273.05 L116.74,272.81 L117.09,272.87 L117.44,273.2 L117.79,273.69 L118.14,274.18 L118.49,274.52 L118.84,274.59 L119.19,274.37 L119.54,273.93 L119.89,273.42 L120.24,273 L120.59,272.8 L120.94,272.9 L121.29,273.26 L121.64,273.76 L121.99,274.24 L122.34,274.55 L122.69,274.58 L123.04,274.32 L123.39,273.86 L123.74,273.35 L124.09,272.95 L124.44,272.8 L124.79,272.94 L125.14,273.33 L125.49,273.83 L125.84,274.3 L126.19,274.57 L126.54,274.56 L126.89,274.26 L127.24,273.79 L127.59,273.28 L127.94,272.91 L128.29,272.8 L128.64,272.98 L128.99,273.4 L129.34,273.91 L129.69,274.35 L130.04,274.59 L130.39,274.53 L130.74,274.2 L131.09,273.71 L131.44,273.22 L131.79,272.88 L132.14,272.81 L132.49,273.03 L132.84,273.47 L133.19,273.98 L133.54,274.4 L133.89,274.6 L134.24,274.5 L134.59,274.14 L134.94,273.64 L135.29,273.16 L135.64,272.85 L135.99,272.82 L136.34,273.08 L136.69,273.54 L137.04,274.05 L137.39,274.45 L137.74,274.6 L138.09,274.46 L138.44,274.07 L138.79,273.57 L139.14,273.1 L139.49,272.83 L139.84,272.84 L140.19,273.14 L140.54,273.61 L140.89,274.12 L141.24,274.48 L141.59,274.6 L141.94,273.98 L142.29,273.82 L142.64,273.62 L142.99,273.45 L143.34,273.36 L143.69,273.38 L144.04,273.5 L144.39,273.69 L144.74,273.89 L145.09,274.02 L145.44,274.05 L145.79,273.96 L146.14,273.79 L146.49,273.59 L146.84,273.43 L147.19,273.35 L147.54,273.39 L147.89,273.53 L148.24,273.72 L148.59,273.91 L148.94,274.03 L149.29,274.04 L149.64,273.94 L149.99,273.76 L150.34,273.56 L150.69,273.41 L151.04,273.35 L151.39,273.4 L151.74,273.55 L152.09,273.75 L152.44,273.93 L152.79,274.04 L153.14,274.03 L153.49,273.92 L153.84,273.73 L154.19,273.54 L154.54,273.39 L154.89,273.35 L155.24,273.42 L155.59,273.58 L155.94,273.78 L156.29,273.95 L156.64,274.04 L156.99,274.02 L157.34,273.9 L157.69,273.71 L158.04,273.51 L158.39,273.38 L158.74,273.35 L159.09,273.44 L159.44,273.61 L159.79,273.81 L160.14,273.97 L160.49,274.05 L160.84,274.01 L161.19,273.87 L161.54,273.68 L161.89,273.49 L162.24,273.37 L162.59,273.36 L162.94,273.46 L163.29,273.64 L163.64,273.84 L163.99,273.99 L164.34,274.05 L164.69,274 L165.04,273.85 L165.39,273.65 L165.74,273.47 L166.09,273.36 L166.44,273.37 L166.79,273.48 L167.14,273.67 L167.49,273.86 L167.84,274.01 L168.19,274.05 L168.54,273.98 L168.89,273.82 L169.24,273.62 L169.59,273.45 L169.94,273.36 L170.29,273.38 L170.64,273.5 L170.99,273.69 L171.34,273.89 L171.69,274.02 L172.04,274.05 L172.39,273.96 L172.74,273.79 L173.09,273.59 L173.44,273.43 L173.79,273.35 L174.14,273.39 L174.49,273.53 L174.84,273.72 L175.19,273.91 L175.54,274.03 L175.89,274.04 L176.24,273.94 L176.59,273.76 L176.94,273.56 L177.29,273.41 L177.64,273.35 L177.99,273.4 L178.34,273.55 L178.69,273.75 L179.04,273.93 L179.39,274.04 L179.74,274.03 L180.09,273.92 L180.44,273.73 L180.79,273.54 L181.14,273.39 L181.49,273.35 L181.84,273.42 L182.19,273.58 L182.54,273.78 L182.89,273.95 L183.24,274.04 L183.59,274.02 L183.94,273.9 L184.29,273.71 L184.64,273.51 L184.99,273.38 L185.34,273.35 L185.69,273.44 L186.04,273.61 L186.39,273.81 L186.74,273.97 L187.09,274.05 L187.44,274.01 L187.79,273.87 L188.14,273.68 L188.49,273.49 L188.84,273.37 L189.19,273.36 L189.54,273.46 L189.89,273.64 L190.24,273.84 L190.59,273.99 L190.94,274.05 L191.29,274 L191.64,273.85 L191.99,273.65 L192.34,273.47 L192.69,273.36 L193.04,273.37 L193.39,273.48 L193.74,273.67 L194.09,273.86 L194.44,274.01 L194.79,274.05 L195.14,273.98 L195.49,273.82 L195.84,273.62 L196.19,273.45 L196.54,273.36 L196.89,273.38 L197.24,273.5 L197.59,273.69 L197.94,273.89 L198.29,274.02 L198.64,274.05 L198.99,273.96 L199.34,273.79 L199.69,273.59 L200.04,273.43 L200.39,273.35 L200.74,273.39 L201.09,273.53 L201.44,273.72 L201.79,273.91 L202.14,274.03 L202.49,274.04 L202.84,273.94 L203.19,273.76 L203.54,273.56 L203.89,273.04 L204.24,272.9 L204.59,273.02 L204.94,273.37 L205.29,273.82 L205.64,274.23 L205.99,274.47 L206.34,274.46 L206.69,274.2 L207.04,273.78 L207.39,273.33 L207.74,273 L208.09,272.9 L208.44,273.06 L208.79,273.43 L209.14,273.88 L209.49,274.28 L209.84,274.49 L210.19,274.44 L210.54,274.15 L210.89,273.71 L211.24,273.27 L211.59,272.97 L211.94,272.91 L212.29,273.1 L212.64,273.49 L212.99,273.95 L213.34,274.32 L213.69,274.5 L214.04,274.41 L214.39,274.09 L214.74,273.65 L215.09,273.22 L215.44,272.95 L215.79,272.92 L216.14,273.15 L216.49,273.56 L216.84,274.01 L217.19,274.36 L217.54,274.5 L217.89,274.38 L218.24,274.03 L218.59,273.58 L218.94,273.17 L219.29,272.93 L219.64,272.94 L219.99,273.2 L220.34,273.62 L220.69,274.07 L221.04,274.4 L221.39,274.5 L221.74,274.34 L222.09,273.97 L222.44,273.52 L222.79,273.12 L223.14,272.91 L223.49,272.96 L223.84,273.25 L224.19,273.69 L224.54,274.13 L224.89,274.43 L225.24,274.49 L225.59,274.3 L225.94,273.91 L226.29,273.45 L226.64,273.08 L226.99,272.9 L227.34,272.99 L227.69,273.31 L228.04,273.75 L228.39,274.18 L228.74,274.45 L229.09,274.48 L229.44,274.25 L229.79,273.84 L230.14,273.39 L230.49,273.04 L230.84,272.9 L231.19,273.02 L231.54,273.37 L231.89,273.82 L232.24,274.23 L232.59,274.47 L232.94,274.46 L233.29,274.2 L233.64,273.78 L233.99,273.33 L234.34,273 L234.69,272.9 L235.04,273.06 L235.39,273.43 L235.74,273.88 L236.09,274.28 L236.44,274.49 L236.79,274.44 L237.14,274.15 L237.49,273.71 L237.84,273.27 L238.19,272.97 L238.54,272.91 L238.89,273.1 L239.24,273.49 L239.59,273.95 L239.94,274.32 L240.29,274.5 L240.64,274.41 L240.99,274.09 L241.34,273.65 L241.69,273.22 L242.04,272.95 L242.39,272.92 L242.74,273.15 L243.09,273.56 L243.44,274.01 L243.79,274.36 L244.14,274.5 L244.49,274.38 L244.84,274.03 L245.19,273.58 L245.54,273.17 L245.89,272.93 L246.24,272.94 L246.59,273.2 L246.94,273.62 L247.29,274.07 L247.64,274.4 L247.99,274.5 L248.34,274.34 L248.69,273.97 L249.04,273.52 L249.39,273.12 L249.74,272.91 L250.09,272.96 L250.44,273.25 L250.79,273.69 L251.14,274.13 L251.49,274.43 L251.84,274.49 L252.19,274.3 L252.54,273.91 L252.89,273.45 L253.24,273.08 L253.59,272.9 L253.94,272.99 L254.29,273.31 L254.64,273.75 L254.99,274.18 L255.34,274.45 L255.69,274.48 L256.04,274.25 L256.39,273.84 L256.74,273.39 L257.09,273.04 L257.44,272.9 L257.79,273.02 L258.14,273.37 L258.49,273.82 L258.84,274.23 L259.19,274.47 L259.54,274.46 L259.89,274.2 L260.24,273.78 L260.59,273.33 L260.94,273 L261.29,272.9 L261.64,273.06 L261.99,273.43 L262.34,273.88 L262.69,274.28 L263.04,274.49 L263.39,274.44 L263.74,274.15 L264.09,273.71 L264.44,273.27 L264.79,272.97 L265.14,272.91 L265.49,273.1 L265.84,273.49 L266.19,273.95 L266.54,274.32 L266.89,274.5 L267.24,274.41 L267.59,274.09 L267.94,273.65 L268.29,273.22 L268.64,272.95 L268.99,272.92 L269.34,273.15 L269.69,273.56 L270.04,274.01 L270.39,274.36 L270.74,274.5 L271.09,274.38 L271.44,273.85 L271.79,273.65 L272.14,273.47 L272.49,273.36 L272.84,273.37 L273.19,273.48 L273.54,273.67 L273.89,273.86 L274.24,274.01 L274.59,274.05 L274.94,273.98 L275.29,273.82 L275.64,273.62 L275.99,273.45 L276.34,273.36 L276.69,273.38 L277.04,273.5 L277.39,273.69 L277.74,273.89 L278.09,274.02 L278.44,274.05 L278.79,273.96 L279.14,273.79 L279.49,273.59 L279.84,273.43 L280.19,273.35 L280.54,273.39 L280.89,273.53 L281.24,273.72 L281.59,273.91 L281.94,274.03 L282.29,274.04 L282.64,273.94 L282.99,273.76 L283.34,273.56 L283.69,273.41 L284.04,273.35 L284.39,273.4 L284.74,273.55 L285.09,273.75 L285.44,273.93 L285.79,274.04 L286.14,274.03 L286.49,273.92 L286.84,273.73 L287.19,273.54 L287.54,273.39 L287.89,273.35 L288.24,273.42 L288.59,273.58 L288.94,273.78 L289.29,273.95 L289.64,274.04 L289.99,274.02 L290.34,273.9 L290.69,273.71 L291.04,273.51 L291.39,273.38 L291.74,273.35 L292.09,273.44 L292.44,273.61 L292.79,273.81 L293.14,273.97 L293.49,274.05 L293.84,274.01 L294.19,273.87 L294.54,273.68 L294.89,273.49 L295.24,273.37 L295.59,273.36 L295.94,273.46 L296.29,273.64 L296.64,273.84 L296.99,273.99 L297.34,274.05 L297.69,274 L298.04,273.85 L298.39,273.65 L298.74,273.47 L299.09,273.36 L299.44,273.37 L299.79,273.48 L300.14,273.67 L300.49,273.86 L300.84,274.01 L301.19,274.05 L301.54,273.98 L301.89,273.82 L302.24,273.62 L302.59,273.45 L302.94,273.36 L303.29,273.38 L303.64,273.5 L303.99,273.69 L304.34,273.89 L304.69,274.02 L305.04,274.05 L305.39,273.96 L305.74,273.79 L306.09,273.59 L306.44,273.43 L306.79,273.35 L307.14,273.39 L307.49,273.53 L307.84,273.72 L308.19,273.91 L308.54,274.03 L308.89,274.04 L309.24,273.94 L309.59,273.76 L309.94,273.56 L310.29,273.41 L310.64,273.35 L310.99,273.4 L311.34,273.55 L311.69,273.75 L312.04,273.93 L312.39,274.04 L312.74,274.03 L313.09,273.92 L313.44,273.73 L313.79,273.54 L314.14,273.39 L314.49,273.35 L314.84,273.42 L315.19,273.58 L315.54,273.78 L315.89,273.95 L316.24,274.04 L316.59,274.02 L316.94,273.9 L317.29,273.71 L317.64,273.51 L317.99,273.38 L318.34,273.35 L318.69,273.44 L319.04,273.61 L319.39,273.81 L319.74,273.97 L320.09,274.05 L320.44,274.01 L320.79,273.87 L321.14,273.68 L321.49,273.49 L321.84,273.37 L322.19,273.36 L322.54,273.46 L322.89,273.64 L323.24,273.84 L323.59,273.99 L323.94,274.05 L324.29,274 L324.64,273.85 L324.99,273.65 L325.34,273.47 L325.69,273.36 L326.04,273.37 L326.39,273.48 L326.74,273.67 L327.09,273.86 L327.44,274.01 L327.79,274.05 L328.14,273.98 L328.49,273.82 L328.84,273.62 L329.19,273.45 L329.54,273.36 L329.89,273.38 L330.24,273.5 L330.59,273.69 L330.94,273.89 L331.29,274.02 L331.64,274.05 L331.99,273.96 L332.34,273.79 L332.69,273.59 L332.8,273.7" stroke="#ff00ff" stroke-width="1.6" fill="none" stroke-linejoin="round" />
<line x1="332.9" y1="273.7" x2="332.9" y2="281" stroke="#ff00ff" stroke-width="1.2" />
<rect x="23.2" y="213.2" width="310.1" height="159.7" stroke="#222" stroke-width="1.4" fill="none"/>
<path d="M51.39,372.9v-4M51.39,213.2v4M107.77,372.9v-4M107.77,213.2v4M164.15,372.9v-4M164.15,213.2v4M220.54,372.9v-4M220.54,213.2v4M276.92,372.9v-4M276.92,213.2v4M333.3,372.9v-4M333.3,213.2v4M23.2,359.6h4M333.3,359.6h-4M23.2,323h4M333.3,323h-4M23.2,286.4h4M333.3,286.4h-4M23.2,249.8h4M333.3,249.8h-4M23.2,213.2h4M333.3,213.2h-4" stroke="#222" stroke-width="1.4" fill="none"/>
<text x="16.41" y="386.16" font-family="'Liberation Serif', 'Times New Roman', serif" font-weight="bold" font-size="9.6" fill="#222" stroke="#222" stroke-width="0.22" textLength="14.18" lengthAdjust="spacingAndGlyphs">14.5</text>
<text x="47.7" y="386.16" font-family="'Liberation Serif', 'Times New Roman', serif" font-weight="bold" font-size="9.6" fill="#222" stroke="#222" stroke-width="0.22" textLength="7.38" lengthAdjust="spacingAndGlyphs">15</text>
<text x="104.08" y="386.16" font-family="'Liberation Serif', 'Times New Roman', serif" font-weight="bold" font-size="9.6" fill="#222" stroke="#222" stroke-width="0.22" textLength="7.38" lengthAdjust="spacingAndGlyphs">16</text>
<text x="160.46" y="386.16" font-family="'Liberation Serif', 'Times New Roman', serif" font-weight="bold" font-size="9.6" fill="#222" stroke="#222" stroke-width="0.22" textLength="7.38" lengthAdjust="spacingAndGlyphs">17</text>
<text x="216.85" y="386.16" font-family="'Liberation Serif', 'Times New Roman', serif" font-weight="bold" font-size="9.6" fill="#222" stroke="#222" stroke-width="0.22" textLength="7.38" lengthAdjust="spacingAndGlyphs">18</text>
<text x="273.23" y="386.16" font-family="'Liberation Serif', 'Times New Roman', serif" font-weight="bold" font-size="9.6" fill="#222" stroke="#222" stroke-width="0.22" textLength="7.38" lengthAdjust="spacingAndGlyphs">19</text>
<text x="329.61" y="386.16" font-family="'Liberation Serif', 'Times New Roman', serif" font-weight="bold" font-size="9.6" fill="#222" stroke="#222" stroke-width="0.22" textLength="7.38" lengthAdjust="spacingAndGlyphs">20</text>
<text x="15.91" y="363.36" font-family="'Liberation Serif', 'Times New Roman', serif" font-weight="bold" font-size="8.4" fill="#222" stroke="#222" stroke-width="0.22" textLength="3.88" lengthAdjust="spacingAndGlyphs">0</text>
<text x="7.61" y="326.76" font-family="'Liberation Serif', 'Times New Roman', serif" font-weight="bold" font-size="8.4" fill="#222" stroke="#222" stroke-width="0.22" textLength="12.18" lengthAdjust="spacingAndGlyphs">200</text>
<text x="7.61" y="290.16" font-family="'Liberation Serif', 'Times New Roman', serif" font-weight="bold" font-size="8.4" fill="#222" stroke="#222" stroke-width="0.22" textLength="12.18" lengthAdjust="spacingAndGlyphs">400</text>
<text x="7.61" y="253.56" font-family="'Liberation Serif', 'Times New Roman', serif" font-weight="bold" font-size="8.4" fill="#222" stroke="#222" stroke-width="0.22" textLength="12.18" lengthAdjust="spacingAndGlyphs">600</text>
<text x="7.61" y="216.96" font-family="'Liberation Serif', 'Times New Roman', serif" font-weight="bold" font-size="8.4" fill="#222" stroke="#222" stroke-width="0.22" textLength="12.18" lengthAdjust="spacingAndGlyphs">800</text>
<text transform="translate(6.88,305.8) rotate(-90)" x="0.11" y="0" font-family="'Liberation Serif', 'Times New Roman', serif" font-weight="bold" font-size="9" fill="#000" stroke="#000" stroke-width="0.22" textLength="46.78" lengthAdjust="spacingAndGlyphs">Voltage (V)</text>
<text x="147.71" y="396.8" font-family="'Liberation Serif', 'Times New Roman', serif" font-weight="bold" font-size="8.4" fill="#000" stroke="#000" stroke-width="0.22" textLength="39.08" lengthAdjust="spacingAndGlyphs">Time (Sec)</text>
<text x="131.01" y="231" font-family="'Liberation Serif', 'Times New Roman', serif" font-weight="bold" font-size="10" fill="#000" stroke="#000" stroke-width="0.22" textLength="79.98" lengthAdjust="spacingAndGlyphs">Conventional Method</text>
<rect x="233.5" y="217.8" width="97.2" height="23.1" stroke="#222" stroke-width="1" fill="#fff"/>
<line x1="235.7" y1="224.2" x2="256.6" y2="224.2" stroke="#ff00ff" stroke-width="1.6" />
<line x1="235.7" y1="235" x2="256.6" y2="235" stroke="#e0632a" stroke-width="1.6" />
<text x="259.51" y="227.14" font-family="'Liberation Serif', 'Times New Roman', serif" font-weight="bold" font-size="8.6" fill="#000" stroke="#000" stroke-width="0.22" textLength="67.98" lengthAdjust="spacingAndGlyphs">DC BUS VOLTAGE</text>
<text x="259.51" y="237.94" font-family="'Liberation Serif', 'Times New Roman', serif" font-weight="bold" font-size="8.6" fill="#000" stroke="#000" stroke-width="0.22" textLength="67.98" lengthAdjust="spacingAndGlyphs">AC BUS VOLTAGE</text>
<ellipse cx="96.5" cy="271.8" rx="45.2" ry="19.6" stroke="#222" stroke-width="0.9" fill="none"/>
<ellipse cx="240.4" cy="270.1" rx="44.5" ry="18.2" stroke="#222" stroke-width="0.9" fill="none"/>
<text x="78.31" y="270.79" font-family="'Liberation Serif', 'Times New Roman', serif" font-weight="bold" font-size="9.6" fill="#000" stroke="#000" stroke-width="0.22" textLength="42.18" lengthAdjust="spacingAndGlyphs">Oscillations</text>
<text x="221.71" y="269.99" font-family="'Liberation Serif', 'Times New Roman', serif" font-weight="bold" font-size="9.6" fill="#000" stroke="#000" stroke-width="0.22" textLength="42.68" lengthAdjust="spacingAndGlyphs">Oscillations</text>
<line x1="67.1" y1="242.9" x2="58.55" y2="245.77" stroke="#111" stroke-width="1.4" />
<path d="M54,247.3 L58.86,242.92 L60.52,247.85 Z" fill="#111"/>
<line x1="69.2" y1="297.2" x2="59.43" y2="291.97" stroke="#111" stroke-width="1.4" />
<path d="M55.2,289.7 L61.72,290.24 L59.26,294.83 Z" fill="#111"/>
<text x="70.01" y="248.24" font-family="'Liberation Serif', 'Times New Roman', serif" font-weight="bold" font-size="9.4" fill="#000" stroke="#000" stroke-width="0.22" textLength="73.38" lengthAdjust="spacingAndGlyphs">(604.2 V) Overshoot</text>
<text x="71.11" y="300.54" font-family="'Liberation Serif', 'Times New Roman', serif" font-weight="bold" font-size="9.4" fill="#000" stroke="#000" stroke-width="0.22" textLength="72.28" lengthAdjust="spacingAndGlyphs">(387 V) Undershoot</text>
<text x="153.81" y="432.26" font-family="'Liberation Serif', 'Times New Roman', serif" font-weight="bold" font-size="14" fill="#000" stroke="#000" stroke-width="0.22" textLength="12.38" lengthAdjust="spacingAndGlyphs">(i)</text>
<line x1="371.2" y1="317.6" x2="668.9" y2="317.6" stroke="#b4485c" stroke-width="1.6" />
<path d="M371.2,275.3 L371.6,275.3 L372,275.3 L372.4,275.3 L372.8,275.3 L373.2,275.3 L373.6,275.3 L374,275.3 L374.4,275.3 L374.8,275.3 L375.2,275.3 L375.6,275.3 L376,275.3 L376.4,275.3 L376.8,275.3 L377.2,275.3 L377.6,275.3 L378,275.3 L378.4,275.3 L378.8,275.3 L379.2,275.3 L379.6,275.3 L380,275.3 L380.4,275.3 L380.8,275.3 L381.2,275.3 L381.6,275.3 L382,275.3 L382.4,275.3 L382.8,275.3 L383.2,275.3 L383.6,275.3 L384,275.3 L384.4,275.3 L384.8,275.3 L385.2,275.3 L385.6,275.3 L386,275.3 L386.4,275.3 L386.8,275.3 L387.2,275.3 L387.6,275.3 L388,275.3 L388.4,275.3 L388.8,275.3 L389.2,275.3 L389.6,275.3 L390,275.3 L390.4,275.3 L390.8,275.3 L391.2,275.3 L391.6,275.3 L392,275.3 L392.4,275.3 L392.8,275.3 L393.2,275.3 L393.6,275.3 L394,275.3 L394.4,275.3 L394.8,275.3 L395.2,275.3 L395.6,275.3 L396,275.3 L396.4,275.3 L396.8,275.3 L397.2,275.3 L397.6,275.3 L398,275.3 L398.4,275.3 L398.8,275.3 L399.1,257.2 L399.7,257.2 L401.4,283.4 L401.8,283.4 L402.2,280.54 L402.55,276.86 L402.9,273.27 L403.25,270.99 L403.6,270.57 L403.95,271.85 L404.3,274.09 L404.65,276.36 L405,277.87 L405.35,278.22 L405.7,277.5 L406.05,276.13 L406.4,274.71 L406.75,273.75 L407.1,273.51 L407.45,273.96 L407.8,274.81 L408.15,275.69 L408.5,276.27 L408.85,276.39 L409.2,276.08 L409.55,275.53 L409.9,274.97 L410.25,274.63 L410.6,274.61 L410.95,274.86 L411.3,275.26 L411.65,275.63 L412,275.83 L412.35,275.78 L412.7,275.54 L413.05,275.22 L413.4,274.94 L413.75,274.83 L414.1,274.91 L414.45,275.14 L414.8,275.44 L415.15,275.68 L415.5,275.76 L415.85,275.68 L416.2,275.44 L416.55,275.16 L416.9,274.93 L417.25,274.83 L417.6,274.91 L417.95,275.12 L418.3,275.4 L418.65,275.65 L419,275.77 L419.35,275.72 L419.7,275.53 L420.05,275.26 L420.4,275.01 L420.75,274.85 L421.1,274.85 L421.45,275 L421.8,275.25 L422.15,275.52 L422.5,275.71 L422.85,275.77 L423.2,275.66 L423.55,275.44 L423.9,275.17 L424.25,274.95 L424.6,274.84 L424.95,274.88 L425.3,275.07 L425.65,275.33 L426,275.58 L426.35,275.73 L426.7,275.75 L427.05,275.62 L427.4,275.38 L427.75,275.12 L428.1,274.92 L428.45,274.84 L428.8,274.92 L429.15,275.12 L429.5,275.37 L429.85,275.61 L430.2,275.74 L430.55,275.73 L430.9,275.43 L431.25,275.32 L431.6,275.2 L431.95,275.12 L432.3,275.1 L432.65,275.14 L433,275.23 L433.35,275.35 L433.7,275.45 L434.05,275.5 L434.4,275.48 L434.75,275.41 L435.1,275.3 L435.45,275.19 L435.8,275.11 L436.15,275.1 L436.5,275.15 L436.85,275.25 L437.2,275.37 L437.55,275.46 L437.9,275.5 L438.25,275.48 L438.6,275.39 L438.95,275.28 L439.3,275.18 L439.65,275.11 L440,275.11 L440.35,275.17 L440.7,275.27 L441.05,275.38 L441.4,275.47 L441.75,275.5 L442.1,275.47 L442.45,275.38 L442.8,275.27 L443.15,275.16 L443.5,275.11 L443.85,275.11 L444.2,275.18 L444.55,275.29 L444.9,275.4 L445.25,275.48 L445.6,275.5 L445.95,275.46 L446.3,275.36 L446.65,275.25 L447,275.15 L447.35,275.1 L447.7,275.12 L448.05,275.19 L448.4,275.3 L448.75,275.41 L449.1,275.48 L449.45,275.5 L449.8,275.45 L450.15,275.25 L450.5,275.03 L450.85,274.88 L451.2,274.9 L451.55,275.1 L451.9,275.44 L452.25,275.81 L452.6,276.04 L452.95,275.98 L453.3,275.56 L453.65,274.87 L454,274.15 L454.35,273.74 L454.7,273.96 L455.05,274.94 L455.4,276.12 L455.75,276.69 L456.1,276.63 L456.45,276.16 L456.8,275.57 L457.15,275.08 L457.5,274.81 L457.85,274.78 L458.2,274.9 L458.55,275.09 L458.9,275.27 L459.25,275.4 L459.6,275.46 L459.95,275.48 L460.3,275.45 L460.65,275.5 L461,275.48 L461.35,275.41 L461.7,275.3 L462.05,275.19 L462.4,275.12 L462.75,275.1 L463.1,275.15 L463.45,275.25 L463.8,275.37 L464.15,275.46 L464.5,275.5 L464.85,275.48 L465.2,275.39 L465.55,275.28 L465.9,275.18 L466.25,275.11 L466.6,275.11 L466.95,275.17 L467.3,275.27 L467.65,275.38 L468,275.47 L468.35,275.5 L468.7,275.47 L469.05,275.38 L469.4,275.27 L469.75,275.16 L470.1,275.11 L470.45,275.11 L470.8,275.18 L471.15,275.29 L471.5,275.4 L471.85,275.48 L472.2,275.5 L472.55,275.46 L472.9,275.36 L473.25,275.25 L473.6,275.15 L473.95,275.1 L474.3,275.12 L474.65,275.19 L475,275.3 L475.35,275.41 L475.7,275.48 L476.05,275.5 L476.4,275.45 L476.75,275.35 L477.1,275.23 L477.45,275.14 L477.8,275.1 L478.15,275.12 L478.5,275.21 L478.85,275.32 L479.2,275.42 L479.55,275.49 L479.9,275.49 L480.25,275.43 L480.6,275.33 L480.95,275.22 L481.3,275.13 L481.65,275.1 L482,275.13 L482.35,275.22 L482.7,275.33 L483.05,275.44 L483.4,275.49 L483.75,275.49 L484.1,275.42 L484.45,275.31 L484.8,275.2 L485.15,275.12 L485.5,275.1 L485.85,275.14 L486.2,275.24 L486.55,275.35 L486.9,275.45 L487.25,275.5 L487.6,275.48 L487.95,275.41 L488.3,275.3 L488.65,275.19 L489,275.12 L489.35,275.1 L489.7,275.15 L490.05,275.25 L490.4,275.37 L490.75,275.46 L491.1,275.5 L491.45,275.48 L491.8,275.39 L492.15,275.28 L492.5,275.18 L492.85,275.11 L493.2,275.11 L493.55,275.17 L493.9,275.27 L494.25,275.38 L494.6,275.47 L494.95,275.5 L495.3,275.47 L495.65,275.38 L496,275.27 L496.35,275.16 L496.7,275.11 L497.05,275.11 L497.4,275.18 L497.75,275.29 L498.1,275.4 L498.45,275.48 L498.8,275.5 L499.15,275.46 L499.5,275.36 L499.85,275.25 L500.2,275.15 L500.55,275.1 L500.9,275.12 L501.25,275.19 L501.6,275.3 L501.95,275.41 L502.3,275.48 L502.65,275.5 L503,275.45 L503.35,275.35 L503.7,275.23 L504.05,275.14 L504.4,275.1 L504.75,275.12 L505.1,275.21 L505.45,275.32 L505.8,275.42 L506.15,275.49 L506.5,275.49 L506.85,275.43 L507.2,275.33 L507.55,275.22 L507.9,275.13 L508.25,275.1 L508.6,275.13 L508.95,275.22 L509.3,275.33 L509.65,275.44 L510,275.49 L510.35,275.49 L510.7,275.42 L511.05,275.31 L511.4,275.2 L511.75,275.12 L512.1,275.1 L512.45,275.14 L512.8,275.24 L513.15,275.35 L513.5,275.45 L513.85,275.5 L514.2,275.48 L514.55,275.41 L514.9,275.3 L515.25,275.19 L515.6,275.12 L515.95,275.1 L516.3,275.15 L516.65,275.25 L517,275.37 L517.35,275.46 L517.7,275.5 L518.05,275.48 L518.4,275.39 L518.75,275.28 L519.1,275.18 L519.45,275.11 L519.8,275.11 L520.15,275.17 L520.5,275.27 L520.85,275.38 L521.2,275.47 L521.55,275.5 L521.9,275.47 L522.25,275.38 L522.6,275.27 L522.95,275.16 L523.3,275.11 L523.65,275.11 L524,275.18 L524.35,275.29 L524.7,275.4 L525.05,275.48 L525.4,275.5 L525.75,275.46 L526.1,275.36 L526.45,275.25 L526.8,275.15 L527.15,275.1 L527.5,275.12 L527.85,275.19 L528.2,275.3 L528.55,275.41 L528.9,275.48 L529.25,275.5 L529.6,275.45 L529.95,275.35 L530.3,275.23 L530.65,275.14 L531,275.1 L531.35,275.12 L531.7,275.21 L532.05,275.32 L532.4,275.42 L532.75,275.49 L533.1,275.49 L533.45,275.43 L533.8,275.33 L534.15,275.22 L534.5,275.13 L534.85,275.1 L535.2,275.13 L535.55,275.22 L535.9,275.33 L536.25,275.44 L536.6,275.49 L536.95,275.49 L537.3,275.42 L537.65,275.31 L538,275.2 L538.35,275.12 L538.7,275.1 L539.05,275.14 L539.4,275.24 L539.75,275.35 L540.1,275.45 L540.45,275.5 L540.8,275.48 L541.15,275.41 L541.5,275.3 L541.85,275.19 L542.2,275.12 L542.55,275.1 L542.9,275.15 L543.25,275.25 L543.6,275.37 L543.95,275.46 L544.3,275.5 L544.65,275.48 L545,275.39 L545.35,275.28 L545.7,275.18 L546.05,275.11 L546.4,275.11 L546.75,275.17 L547.1,275.27 L547.45,275.38 L547.8,275.47 L548.15,275.5 L548.5,275.47 L548.85,275.38 L549.2,275.27 L549.55,275.16 L549.9,275.11 L550.25,275.11 L550.6,275.18 L550.95,275.29 L551.3,275.4 L551.65,275.48 L552,275.5 L552.35,275.46 L552.7,275.36 L553.05,275.25 L553.4,275.15 L553.75,275.1 L554.1,275.12 L554.45,275.19 L554.8,275.3 L555.15,275.41 L555.5,275.48 L555.85,275.5 L556.2,275.45 L556.55,275.35 L556.9,275.23 L557.25,275.14 L557.6,275.1 L557.95,275.12 L558.3,275.21 L558.65,275.17 L559,275.22 L559.35,275.3 L559.7,275.42 L560.05,275.56 L560.4,275.68 L560.75,275.71 L561.1,275.59 L561.45,275.28 L561.8,274.84 L562.15,274.39 L562.5,274.16 L562.85,274.34 L563.2,275.06 L563.55,276.07 L563.9,276.57 L564.25,276.46 L564.6,275.95 L564.95,275.33 L565.3,274.86 L565.65,274.67 L566,274.76 L566.35,275.04 L566.7,275.36 L567.05,275.6 L567.4,275.68 L567.75,275.61 L568.1,275.43 L568.45,275.19 L568.8,275.12 L569.15,275.1 L569.5,275.15 L569.85,275.25 L570.2,275.37 L570.55,275.46 L570.9,275.5 L571.25,275.48 L571.6,275.39 L571.95,275.28 L572.3,275.18 L572.65,275.11 L573,275.11 L573.35,275.17 L573.7,275.27 L574.05,275.38 L574.4,275.47 L574.75,275.5 L575.1,275.47 L575.45,275.38 L575.8,275.27 L576.15,275.16 L576.5,275.11 L576.85,275.11 L577.2,275.18 L577.55,275.29 L577.9,275.4 L578.25,275.48 L578.6,275.5 L578.95,275.46 L579.3,275.36 L579.65,275.25 L580,275.15 L580.35,275.1 L580.7,275.12 L581.05,275.19 L581.4,275.3 L581.75,275.41 L582.1,275.48 L582.45,275.5 L582.8,275.45 L583.15,275.35 L583.5,275.23 L583.85,275.14 L584.2,275.1 L584.55,275.12 L584.9,275.21 L585.25,275.32 L585.6,275.42 L585.95,275.49 L586.3,275.49 L586.65,275.43 L587,275.33 L587.35,275.22 L587.7,275.13 L588.05,275.1 L588.4,275.13 L588.75,275.22 L589.1,275.33 L589.45,275.44 L589.8,275.49 L590.15,275.49 L590.5,275.42 L590.85,275.31 L591.2,275.2 L591.55,275.12 L591.9,275.1 L592.25,275.14 L592.6,275.24 L592.95,275.35 L593.3,275.45 L593.65,275.5 L594,275.48 L594.35,275.41 L594.7,275.3 L595.05,275.19 L595.4,275.12 L595.75,275.1 L596.1,275.15 L596.45,275.25 L596.8,275.37 L597.15,275.46 L597.5,275.5 L597.85,275.48 L598.2,275.39 L598.55,275.28 L598.9,275.18 L599.25,275.11 L599.6,275.11 L599.95,275.17 L600.3,275.27 L600.65,275.38 L601,275.47 L601.35,275.5 L601.7,275.47 L602.05,275.38 L602.4,275.27 L602.75,275.16 L603.1,275.11 L603.45,275.11 L603.8,275.18 L604.15,275.29 L604.5,275.4 L604.85,275.48 L605.2,275.5 L605.55,275.46 L605.9,275.36 L606.25,275.25 L606.6,275.15 L606.95,275.1 L607.3,275.12 L607.65,275.19 L608,275.3 L608.35,275.41 L608.7,275.48 L609.05,275.5 L609.4,275.45 L609.75,275.35 L610.1,275.23 L610.45,275.14 L610.8,275.1 L611.15,275.12 L611.5,275.21 L611.85,275.32 L612.2,275.42 L612.55,275.49 L612.9,275.49 L613.25,275.43 L613.6,275.33 L613.95,275.22 L614.3,275.13 L614.65,275.1 L615,275.13 L615.35,275.22 L615.7,275.33 L616.05,275.44 L616.4,275.49 L616.75,275.49 L617.1,275.42 L617.45,275.31 L617.8,275.2 L618.15,275.12 L618.5,275.1 L618.85,275.14 L619.2,275.24 L619.55,275.35 L619.9,275.45 L620.25,275.5 L620.6,275.48 L620.95,275.41 L621.3,275.3 L621.65,275.19 L622,275.12 L622.35,275.1 L622.7,275.15 L623.05,275.25 L623.4,275.37 L623.75,275.46 L624.1,275.5 L624.45,275.48 L624.8,275.39 L625.15,275.28 L625.5,275.18 L625.85,275.11 L626.2,275.11 L626.55,275.17 L626.9,275.27 L627.25,275.38 L627.6,275.47 L627.95,275.5 L628.3,275.47 L628.65,275.38 L629,275.27 L629.35,275.16 L629.7,275.11 L630.05,275.11 L630.4,275.18 L630.75,275.29 L631.1,275.4 L631.45,275.48 L631.8,275.5 L632.15,275.46 L632.5,275.36 L632.85,275.25 L633.2,275.15 L633.55,275.1 L633.9,275.12 L634.25,275.19 L634.6,275.3 L634.95,275.41 L635.3,275.48 L635.65,275.5 L636,275.45 L636.35,275.35 L636.7,275.23 L637.05,275.14 L637.4,275.1 L637.75,275.12 L638.1,275.21 L638.45,275.32 L638.8,275.42 L639.15,275.49 L639.5,275.49 L639.85,275.43 L640.2,275.33 L640.55,275.22 L640.9,275.13 L641.25,275.1 L641.6,275.13 L641.95,275.22 L642.3,275.33 L642.65,275.44 L643,275.49 L643.35,275.49 L643.7,275.42 L644.05,275.31 L644.4,275.2 L644.75,275.12 L645.1,275.1 L645.45,275.14 L645.8,275.24 L646.15,275.35 L646.5,275.45 L646.85,275.5 L647.2,275.48 L647.55,275.41 L647.9,275.3 L648.25,275.19 L648.6,275.12 L648.95,275.1 L649.3,275.15 L649.65,275.25 L650,275.37 L650.35,275.46 L650.7,275.5 L651.05,275.48 L651.4,275.39 L651.75,275.28 L652.1,275.18 L652.45,275.11 L652.8,275.11 L653.15,275.17 L653.5,275.27 L653.85,275.38 L654.2,275.47 L654.55,275.5 L654.9,275.47 L655.25,275.38 L655.6,275.27 L655.95,275.16 L656.3,275.11 L656.65,275.11 L657,275.18 L657.35,275.29 L657.7,275.4 L658.05,275.48 L658.4,275.5 L658.75,275.46 L659.1,275.36 L659.45,275.25 L659.8,275.15 L660.15,275.1 L660.5,275.12 L660.85,275.19 L661.2,275.3 L661.55,275.41 L661.9,275.48 L662.25,275.5 L662.6,275.45 L662.95,275.35 L663.3,275.23 L663.65,275.14 L664,275.1 L664.35,275.12 L664.7,275.21 L665.05,275.32 L665.4,275.42 L665.75,275.49 L666.1,275.49 L666.45,275.43 L666.8,275.33 L667.15,275.22 L667.5,275.13 L667.85,275.1 L668.2,275.13 L668.4,275.3" stroke="#ff00ff" stroke-width="1.6" fill="none" stroke-linejoin="round" />
<line x1="668.5" y1="275.3" x2="668.5" y2="283" stroke="#ff00ff" stroke-width="1.2" />
<rect x="371.2" y="215.8" width="297.7" height="157.8" stroke="#222" stroke-width="1.4" fill="none"/>
<path d="M398.26,373.6v-4M398.26,215.8v4M452.39,373.6v-4M452.39,215.8v4M506.52,373.6v-4M506.52,215.8v4M560.65,373.6v-4M560.65,215.8v4M614.77,373.6v-4M614.77,215.8v4M668.9,373.6v-4M668.9,215.8v4M371.2,359.4h4M668.9,359.4h-4M371.2,323.5h4M668.9,323.5h-4M371.2,287.6h4M668.9,287.6h-4M371.2,251.7h4M668.9,251.7h-4M371.2,215.8h4M668.9,215.8h-4" stroke="#222" stroke-width="1.4" fill="none"/>
<text x="365.21" y="386.39" font-family="'Liberation Serif', 'Times New Roman', serif" font-weight="bold" font-size="8.8" fill="#222" stroke="#222" stroke-width="0.22" textLength="13.48" lengthAdjust="spacingAndGlyphs">14.5</text>
<text x="394.67" y="386.39" font-family="'Liberation Serif', 'Times New Roman', serif" font-weight="bold" font-size="8.8" fill="#222" stroke="#222" stroke-width="0.22" textLength="7.18" lengthAdjust="spacingAndGlyphs">15</text>
<text x="448.8" y="386.39" font-family="'Liberation Serif', 'Times New Roman', serif" font-weight="bold" font-size="8.8" fill="#222" stroke="#222" stroke-width="0.22" textLength="7.18" lengthAdjust="spacingAndGlyphs">16</text>
<text x="502.93" y="386.39" font-family="'Liberation Serif', 'Times New Roman', serif" font-weight="bold" font-size="8.8" fill="#222" stroke="#222" stroke-width="0.22" textLength="7.18" lengthAdjust="spacingAndGlyphs">17</text>
<text x="557.06" y="386.39" font-family="'Liberation Serif', 'Times New Roman', serif" font-weight="bold" font-size="8.8" fill="#222" stroke="#222" stroke-width="0.22" textLength="7.18" lengthAdjust="spacingAndGlyphs">18</text>
<text x="611.18" y="386.39" font-family="'Liberation Serif', 'Times New Roman', serif" font-weight="bold" font-size="8.8" fill="#222" stroke="#222" stroke-width="0.22" textLength="7.18" lengthAdjust="spacingAndGlyphs">19</text>
<text x="665.31" y="386.39" font-family="'Liberation Serif', 'Times New Roman', serif" font-weight="bold" font-size="8.8" fill="#222" stroke="#222" stroke-width="0.22" textLength="7.18" lengthAdjust="spacingAndGlyphs">20</text>
<text x="364.01" y="363.46" font-family="'Liberation Serif', 'Times New Roman', serif" font-weight="bold" font-size="9" fill="#222" stroke="#222" stroke-width="0.22" textLength="3.88" lengthAdjust="spacingAndGlyphs">0</text>
<text x="355.91" y="327.56" font-family="'Liberation Serif', 'Times New Roman', serif" font-weight="bold" font-size="9" fill="#222" stroke="#222" stroke-width="0.22" textLength="11.98" lengthAdjust="spacingAndGlyphs">200</text>
<text x="355.91" y="291.66" font-family="'Liberation Serif', 'Times New Roman', serif" font-weight="bold" font-size="9" fill="#222" stroke="#222" stroke-width="0.22" textLength="11.98" lengthAdjust="spacingAndGlyphs">400</text>
<text x="355.91" y="255.76" font-family="'Liberation Serif', 'Times New Roman', serif" font-weight="bold" font-size="9" fill="#222" stroke="#222" stroke-width="0.22" textLength="11.98" lengthAdjust="spacingAndGlyphs">600</text>
<text x="355.91" y="219.86" font-family="'Liberation Serif', 'Times New Roman', serif" font-weight="bold" font-size="9" fill="#222" stroke="#222" stroke-width="0.22" textLength="11.98" lengthAdjust="spacingAndGlyphs">800</text>
<text transform="translate(354.28,308) rotate(-90)" x="0.11" y="0" font-family="'Liberation Serif', 'Times New Roman', serif" font-weight="bold" font-size="9" fill="#000" stroke="#000" stroke-width="0.22" textLength="46.28" lengthAdjust="spacingAndGlyphs">Voltage (V)</text>
<text x="492.71" y="395.75" font-family="'Liberation Serif', 'Times New Roman', serif" font-weight="bold" font-size="8.2" fill="#000" stroke="#000" stroke-width="0.22" textLength="37.58" lengthAdjust="spacingAndGlyphs">Time (Sec)</text>
<text x="480.51" y="233.68" font-family="'Liberation Serif', 'Times New Roman', serif" font-weight="bold" font-size="9.2" fill="#000" stroke="#000" stroke-width="0.22" textLength="63.78" lengthAdjust="spacingAndGlyphs">Proposed Method</text>
<rect x="569.8" y="220" width="94.8" height="21.8" stroke="#222" stroke-width="1" fill="#fff"/>
<line x1="572.3" y1="226.5" x2="592" y2="226.5" stroke="#ff00ff" stroke-width="1.6" />
<line x1="572.3" y1="237.2" x2="592" y2="237.2" stroke="#e0632a" stroke-width="1.6" />
<text x="594.61" y="230.01" font-family="'Liberation Serif', 'Times New Roman', serif" font-weight="bold" font-size="8.2" fill="#000" stroke="#000" stroke-width="0.22" textLength="66.28" lengthAdjust="spacingAndGlyphs">DC BUS VOLTAGE</text>
<text x="594.61" y="240.61" font-family="'Liberation Serif', 'Times New Roman', serif" font-weight="bold" font-size="8.2" fill="#000" stroke="#000" stroke-width="0.22" textLength="66.28" lengthAdjust="spacingAndGlyphs">AC BUS VOLTAGE</text>
<ellipse cx="455.6" cy="273.3" rx="57" ry="17.5" stroke="#222" stroke-width="0.9" fill="none"/>
<ellipse cx="582.5" cy="273.7" rx="40.6" ry="14.3" stroke="#222" stroke-width="0.9" fill="none"/>
<line x1="411.8" y1="250.9" x2="403.86" y2="255" stroke="#111" stroke-width="1.4" />
<path d="M399.6,257.2 L403.74,252.14 L406.12,256.76 Z" fill="#111"/>
<line x1="413.6" y1="294.3" x2="406.56" y2="287.53" stroke="#111" stroke-width="1.4" />
<path d="M403.1,284.2 L409.23,286.49 L405.62,290.23 Z" fill="#111"/>
<text x="413.51" y="254.39" font-family="'Liberation Serif', 'Times New Roman', serif" font-weight="bold" font-size="9.2" fill="#000" stroke="#000" stroke-width="0.22" textLength="71.98" lengthAdjust="spacingAndGlyphs">(571.1 V) Overshoot</text>
<text x="416.11" y="302.99" font-family="'Liberation Serif', 'Times New Roman', serif" font-weight="bold" font-size="9.2" fill="#000" stroke="#000" stroke-width="0.22" textLength="75.78" lengthAdjust="spacingAndGlyphs">(424.9 V) Undershoot</text>
<text x="462.11" y="432.36" font-family="'Liberation Serif', 'Times New Roman', serif" font-weight="bold" font-size="14" fill="#000" stroke="#000" stroke-width="0.22" textLength="13.78" lengthAdjust="spacingAndGlyphs">(j)</text>
<path d="M23.3,486.3 L50.5,486.3 L50.9,560 L51.3,565 L52.6,556 L55.2,546.5 L57,537.5 L58.7,535.8 L60.4,531.5 L63.1,529.6 L66.6,528.6 L67,526.95 L67.4,527.25 L67.8,527.44 L68.2,527.37 L68.6,527.1 L69,526.83 L69.4,526.76 L69.8,526.95 L70.2,527.25 L70.6,527.44 L71,527.37 L71.4,527.1 L71.8,526.83 L72.2,526.76 L72.6,526.95 L73,527.25 L73.4,527.44 L73.8,527.37 L74.2,527.1 L74.6,526.83 L75,526.76 L75.4,526.95 L75.8,527.25 L76.2,527.44 L76.6,527.37 L77,527.1 L77.4,526.83 L77.8,526.76 L78.2,526.95 L78.6,527.25 L79,527.44 L79.4,527.37 L79.8,527.1 L80.2,526.83 L80.6,526.76 L81,526.95 L81.4,527.25 L81.8,527.44 L82.2,527.37 L82.6,527.1 L83,526.83 L83.4,526.76 L83.8,526.95 L84.2,527.25 L84.6,527.44 L85,527.37 L85.4,527.1 L85.8,526.83 L86.2,526.76 L86.6,526.95 L87,527.25 L87.4,527.44 L87.8,527.37 L88.2,527.1 L88.6,526.83 L89,526.76 L89.4,526.95 L89.8,527.25 L90.2,527.44 L90.6,527.37 L91,527.1 L91.4,526.83 L91.8,526.76 L92.2,526.95 L92.6,527.25 L93,527.44 L93.4,527.37 L93.8,527.1 L94.2,526.83 L94.6,526.76 L95,526.95 L95.4,527.25 L95.8,527.44 L96.2,527.37 L96.6,527.1 L97,526.83 L97.4,526.76 L97.8,526.95 L98.2,527.25 L98.6,527.44 L99,527.37 L99.4,527.1 L99.8,526.83 L100.2,526.76 L100.6,526.95 L101,527.17 L101.4,527.25 L101.8,527.11 L102.2,526.85 L102.6,526.71 L103,526.89 L103.4,527.37 L103.8,527.9 L104.2,528.12 L104.6,527.78 L105,526.93 L105.4,525.91 L105.8,525.18 L106.2,525.14 L106.6,525.94 L107,527.44 L107.4,528.69 L107.8,528.91 L108.2,528.41 L108.6,527.68 L109,527.12 L109.4,526.84 L109.8,526.76 L110.2,526.61 L110.6,526.67 L111,526.8 L111.4,527.01 L111.8,527.26 L112.2,527.45 L112.6,527.49 L113,527.26 L113.4,527.1 L113.8,526.94 L114.2,526.9 L114.6,527.01 L115,527.19 L115.4,527.3 L115.8,527.26 L116.2,527.1 L116.6,526.94 L117,526.9 L117.4,527.01 L117.8,527.19 L118.2,527.3 L118.6,527.26 L119,527.1 L119.4,526.94 L119.8,526.9 L120.2,527.01 L120.6,527.19 L121,527.3 L121.4,527.26 L121.8,527.1 L122.2,526.94 L122.6,526.9 L123,527.01 L123.4,527.19 L123.8,527.3 L124.2,527.26 L124.6,527.1 L125,526.94 L125.4,526.9 L125.8,527.01 L126.2,527.19 L126.6,527.3 L127,527.26 L127.4,527.1 L127.8,526.94 L128.2,526.9 L128.6,527.01 L129,527.19 L129.4,527.3 L129.8,527.26 L130.2,527.1 L130.6,526.94 L131,526.9 L131.4,527.01 L131.8,527.19 L132.2,527.3 L132.6,527.26 L133,527.1 L133.4,526.94 L133.8,526.9 L134.2,527.01 L134.6,527.19 L135,527.3 L135.4,527.26 L135.8,527.1 L136.2,526.94 L136.6,526.9 L137,527.01 L137.4,527.19 L137.8,527.3 L138.2,527.26 L138.6,527.1 L139,526.94 L139.4,526.9 L139.8,527.01 L140.2,527.19 L140.6,527.3 L141,527.26 L141.4,527.1 L141.8,526.94 L142.2,526.9 L142.6,527.01 L143,527.19 L143.4,527.3 L143.8,527.26 L144.2,527.1 L144.6,526.94 L145,526.9 L145.4,527.01 L145.8,527.19 L146.2,527.3 L146.6,527.26 L147,527.1 L147.4,526.94 L147.8,526.9 L148.2,527.01 L148.6,527.19 L149,527.3 L149.4,527.26 L149.8,527.1 L150.2,526.94 L150.6,526.9 L151,527.01 L151.4,527.19 L151.8,527.3 L152.2,527.26 L152.6,527.1 L153,526.94 L153.4,526.9 L153.8,527.01 L154.2,527.19 L154.6,527.3 L155,527.26 L155.4,527.1 L155.8,526.94 L156.2,526.9 L156.6,527.01 L157,527.19 L157.4,527.3 L157.8,527.26 L158.2,527.1 L158.6,526.94 L159,526.9 L159.4,527.01 L159.8,527.19 L160.2,527.3 L160.6,527.26 L161,527.1 L161.4,526.94 L161.8,526.9 L162.2,527.01 L162.6,527.19 L163,527.3 L163.4,527.26 L163.8,527.1 L164.2,526.94 L164.6,526.9 L165,527.01 L165.4,527.19 L165.8,527.3 L166.2,527.26 L166.6,527.1 L167,526.94 L167.4,526.9 L167.8,527.01 L168.2,527.19 L168.6,527.3 L169,527.26 L169.4,527.1 L169.8,526.94 L170.2,526.9 L170.6,527.01 L171,527.19 L171.4,527.3 L171.8,527.26 L172.2,527.1 L172.6,526.94 L173,526.9 L173.4,527.01 L173.8,527.19 L174.2,527.3 L174.6,527.26 L175,527.1 L175.4,526.94 L175.8,526.9 L176.2,527.01 L176.6,527.19 L177,527.3 L177.4,527.26 L177.8,527.1 L178.2,526.94 L178.6,526.9 L179,527.01 L179.4,527.19 L179.8,527.3 L180.2,527.26 L180.6,527.1 L181,526.94 L181.4,526.9 L181.8,527.01 L182.2,527.19 L182.6,527.3 L183,527.26 L183.4,527.1 L183.8,526.94 L184.2,526.9 L184.6,527.01 L185,527.19 L185.4,527.3 L185.8,527.26 L186.2,527.1 L186.6,526.94 L187,526.9 L187.4,527.01 L187.8,527.19 L188.2,527.3 L188.6,527.26 L189,527.1 L189.4,526.94 L189.8,526.9 L190.2,527.01 L190.6,527.19 L191,527.3 L191.4,527.26 L191.8,527.1 L192.2,526.94 L192.6,526.9 L193,527.01 L193.4,527.19 L193.8,527.3 L194.2,527.26 L194.6,527.1 L195,526.94 L195.4,526.9 L195.8,527.01 L196.2,527.19 L196.6,527.3 L197,527.26 L197.4,527.1 L197.8,526.94 L198.2,526.9 L198.6,527.01 L199,527.19 L199.4,527.3 L199.8,527.26 L200.2,527.1 L200.6,526.94 L201,526.9 L201.4,527.01 L201.8,527.19 L202.2,527.3 L202.6,527.26 L203,527.1 L203.4,526.94 L203.8,526.9 L204.2,527.01 L204.6,527.19 L205,527.3 L205.4,527.26 L205.8,527.1 L206.2,526.94 L206.6,526.9 L207,527.01 L207.4,527.19 L207.8,527.3 L208.2,527.26 L208.6,527.1 L209,526.86 L209.4,526.71 L209.8,526.75 L210.2,526.94 L210.6,527.19 L211,527.4 L211.4,527.53 L211.8,527.59 L212.2,527.57 L212.6,527.42 L213,527.02 L213.4,526.38 L213.8,525.68 L214.2,525.29 L214.6,525.62 L215,526.9 L215.4,528.32 L215.8,529 L216.2,528.89 L216.6,528.18 L217,527.27 L217.4,526.53 L217.8,526.22 L218.2,526.36 L218.6,526.76 L219,527.17 L219.4,527.38 L219.8,527.35 L220.2,527.2 L220.6,527.09 L221,527.01 L221.4,527.19 L221.8,527.3 L222.2,527.26 L222.6,527.1 L223,526.94 L223.4,526.9 L223.8,527.01 L224.2,527.19 L224.6,527.3 L225,527.26 L225.4,527.1 L225.8,526.94 L226.2,526.9 L226.6,527.01 L227,527.19 L227.4,527.3 L227.8,527.26 L228.2,527.1 L228.6,526.94 L229,526.9 L229.4,527.01 L229.8,527.19 L230.2,527.3 L230.6,527.26 L231,527.1 L231.4,526.94 L231.8,526.9 L232.2,527.01 L232.6,527.19 L233,527.3 L233.4,527.26 L233.8,527.1 L234.2,526.94 L234.6,526.9 L235,527.01 L235.4,527.19 L235.8,527.3 L236.2,527.26 L236.6,527.1 L237,526.94 L237.4,526.9 L237.8,527.01 L238.2,527.19 L238.6,527.3 L239,527.26 L239.4,527.1 L239.8,526.94 L240.2,526.9 L240.6,527.01 L241,527.19 L241.4,527.3 L241.8,527.26 L242.2,527.1 L242.6,526.94 L243,526.9 L243.4,527.01 L243.8,527.19 L244.2,527.3 L244.6,527.26 L245,527.1 L245.4,526.94 L245.8,526.9 L246.2,527.01 L246.6,527.19 L247,527.3 L247.4,527.26 L247.8,527.1 L248.2,526.94 L248.6,526.9 L249,527.01 L249.4,527.19 L249.8,527.3 L250.2,527.26 L250.6,527.1 L251,526.94 L251.4,526.9 L251.8,527.01 L252.2,527.19 L252.6,527.3 L253,527.26 L253.4,527.1 L253.8,526.94 L254.2,526.9 L254.6,527.01 L255,527.19 L255.4,527.3 L255.8,527.26 L256.2,527.1 L256.6,526.94 L257,526.9 L257.4,527.01 L257.8,527.19 L258.2,527.3 L258.6,527.26 L259,527.1 L259.4,526.94 L259.8,526.9 L260.2,527.01 L260.6,527.19 L261,527.3 L261.4,527.26 L261.8,527.1 L262.2,526.94 L262.6,526.9 L263,527.01 L263.4,527.19 L263.8,527.3 L264.2,527.26 L264.6,527.1 L265,526.94 L265.4,526.9 L265.8,527.01 L266.2,527.19 L266.6,527.3 L267,527.26 L267.4,527.1 L267.8,526.94 L268.2,526.9 L268.6,527.01 L269,527.19 L269.4,527.3 L269.8,527.26 L270.2,527.1 L270.6,526.94 L271,526.9 L271.4,527.01 L271.8,527.19 L272.2,527.3 L272.6,527.26 L273,527.1 L273.4,526.94 L273.8,526.9 L274.2,527.01 L274.6,527.19 L275,527.3 L275.4,527.26 L275.8,527.1 L276.2,526.94 L276.6,526.9 L277,527.01 L277.4,527.19 L277.8,527.3 L278.2,527.26 L278.6,527.1 L279,526.94 L279.4,526.9 L279.8,527.01 L280.2,527.19 L280.6,527.3 L281,527.26 L281.4,527.1 L281.8,526.94 L282.2,526.9 L282.6,527.01 L283,527.19 L283.4,527.3 L283.8,527.26 L284.2,527.1 L284.6,526.94 L285,526.9 L285.4,527.01 L285.8,527.19 L286.2,527.3 L286.6,527.26 L287,527.1 L287.4,526.94 L287.8,526.9 L288.2,527.01 L288.6,527.19 L289,527.3 L289.4,527.26 L289.8,527.1 L290.2,526.94 L290.6,526.9 L291,527.01 L291.4,527.19 L291.8,527.3 L292.2,527.26 L292.6,527.1 L293,526.94 L293.4,526.9 L293.8,527.01 L294.2,527.19 L294.6,527.3 L295,527.26 L295.4,527.1 L295.8,526.94 L296.2,526.9 L296.6,527.01 L297,527.19 L297.4,527.3 L297.8,527.26 L298.2,527.1 L298.6,526.94 L299,526.9 L299.4,527.01 L299.8,527.19 L300.2,527.3 L300.6,527.26 L301,527.1 L301.4,526.94 L301.8,526.9 L302.2,527.01 L302.6,527.19 L303,527.3 L303.4,527.26 L303.8,527.1 L304.2,526.94 L304.6,526.9 L305,527.01 L305.4,527.19 L305.8,527.3 L306.2,527.26 L306.6,527.1 L307,526.94 L307.4,526.9 L307.8,527.01 L308.2,527.19 L308.6,527.3 L309,527.26 L309.4,527.1 L309.8,526.94 L310.2,526.9 L310.6,527.01 L311,527.19 L311.4,527.3 L311.8,527.26 L312.2,527.1 L312.6,526.94 L313,526.9 L313.4,527.01 L313.8,527.19 L314.2,527.3 L314.6,527.26 L315,527.1 L315.4,526.94 L315.8,526.9 L316.2,527.01 L316.6,527.19 L317,527.3 L317.4,527.26 L317.8,527.1 L318.2,526.94 L318.6,526.9 L319,527.01 L319.4,527.19 L319.8,527.3 L320.2,527.26 L320.6,527.1 L321,526.94 L321.3,527.1 L321.4,486.5" stroke="#1a1aff" stroke-width="1.3" fill="none" stroke-linejoin="round" />
<rect x="23.3" y="465.6" width="298.4" height="110.7" stroke="#222" stroke-width="1.4" fill="none"/>
<path d="M50.43,576.3v-3M50.43,465.6v3M104.68,576.3v-3M104.68,465.6v3M158.94,576.3v-3M158.94,465.6v3M213.19,576.3v-3M213.19,465.6v3M267.45,576.3v-3M267.45,465.6v3M321.7,576.3v-3M321.7,465.6v3M23.3,568h3M321.7,568h-3M23.3,547.52h3M321.7,547.52h-3M23.3,527.04h3M321.7,527.04h-3M23.3,506.56h3M321.7,506.56h-3M23.3,486.08h3M321.7,486.08h-3M23.3,465.6h3M321.7,465.6h-3" stroke="#222" stroke-width="1.4" fill="none"/>
<text x="47.19" y="586.28" font-family="'Liberation Serif', 'Times New Roman', serif" font-weight="bold" font-size="7.3" fill="#222" stroke="#222" stroke-width="0.22" textLength="6.48" lengthAdjust="spacingAndGlyphs">15</text>
<text x="101.44" y="586.28" font-family="'Liberation Serif', 'Times New Roman', serif" font-weight="bold" font-size="7.3" fill="#222" stroke="#222" stroke-width="0.22" textLength="6.48" lengthAdjust="spacingAndGlyphs">16</text>
<text x="155.7" y="586.28" font-family="'Liberation Serif', 'Times New Roman', serif" font-weight="bold" font-size="7.3" fill="#222" stroke="#222" stroke-width="0.22" textLength="6.48" lengthAdjust="spacingAndGlyphs">17</text>
<text x="209.95" y="586.28" font-family="'Liberation Serif', 'Times New Roman', serif" font-weight="bold" font-size="7.3" fill="#222" stroke="#222" stroke-width="0.22" textLength="6.48" lengthAdjust="spacingAndGlyphs">18</text>
<text x="264.21" y="586.28" font-family="'Liberation Serif', 'Times New Roman', serif" font-weight="bold" font-size="7.3" fill="#222" stroke="#222" stroke-width="0.22" textLength="6.48" lengthAdjust="spacingAndGlyphs">19</text>
<text x="318.46" y="586.28" font-family="'Liberation Serif', 'Times New Roman', serif" font-weight="bold" font-size="7.3" fill="#222" stroke="#222" stroke-width="0.22" textLength="6.48" lengthAdjust="spacingAndGlyphs">20</text>
<text x="17.21" y="570.31" font-family="'Liberation Serif', 'Times New Roman', serif" font-weight="bold" font-size="6.8" fill="#222" stroke="#222" stroke-width="0.22" textLength="2.68" lengthAdjust="spacingAndGlyphs">0</text>
<text x="17.21" y="549.83" font-family="'Liberation Serif', 'Times New Roman', serif" font-weight="bold" font-size="6.8" fill="#222" stroke="#222" stroke-width="0.22" textLength="2.68" lengthAdjust="spacingAndGlyphs">5</text>
<text x="14.01" y="529.35" font-family="'Liberation Serif', 'Times New Roman', serif" font-weight="bold" font-size="6.8" fill="#222" stroke="#222" stroke-width="0.22" textLength="5.88" lengthAdjust="spacingAndGlyphs">10</text>
<text x="14.01" y="508.87" font-family="'Liberation Serif', 'Times New Roman', serif" font-weight="bold" font-size="6.8" fill="#222" stroke="#222" stroke-width="0.22" textLength="5.88" lengthAdjust="spacingAndGlyphs">15</text>
<text x="14.01" y="488.39" font-family="'Liberation Serif', 'Times New Roman', serif" font-weight="bold" font-size="6.8" fill="#222" stroke="#222" stroke-width="0.22" textLength="5.88" lengthAdjust="spacingAndGlyphs">20</text>
<text x="14.01" y="467.91" font-family="'Liberation Serif', 'Times New Roman', serif" font-weight="bold" font-size="6.8" fill="#222" stroke="#222" stroke-width="0.22" textLength="5.88" lengthAdjust="spacingAndGlyphs">25</text>
<text transform="translate(9.41,533.9) rotate(-90)" x="0.11" y="0" font-family="'Liberation Serif', 'Times New Roman', serif" font-weight="bold" font-size="7.6" fill="#000" stroke="#000" stroke-width="0.22" textLength="4.38" lengthAdjust="spacingAndGlyphs">P</text>
<text transform="translate(13.58,529) rotate(-90)" x="0.11" y="0" font-family="'Liberation Serif', 'Times New Roman', serif" font-weight="bold" font-size="6" fill="#000" stroke="#000" stroke-width="0.22" textLength="16.68" lengthAdjust="spacingAndGlyphs">acload</text>
<text transform="translate(9.28,509.3) rotate(-90)" x="0.11" y="0" font-family="'Liberation Serif', 'Times New Roman', serif" font-weight="bold" font-size="7.6" fill="#000" stroke="#000" stroke-width="0.22" textLength="16.18" lengthAdjust="spacingAndGlyphs">(kW)</text>
<text x="147.01" y="594.7" font-family="'Liberation Serif', 'Times New Roman', serif" font-weight="bold" font-size="7.2" fill="#000" stroke="#000" stroke-width="0.22" textLength="30.88" lengthAdjust="spacingAndGlyphs">Time (sec)</text>
<rect x="224.5" y="471.1" width="90.1" height="10" stroke="#222" stroke-width="1" fill="#fff"/>
<line x1="231.6" y1="476.5" x2="248.4" y2="476.5" stroke="#1a1aff" stroke-width="1.4" />
<text x="251.41" y="478.71" font-family="'Liberation Serif', 'Times New Roman', serif" font-weight="bold" font-size="8.6" fill="#000" stroke="#000" stroke-width="0.22" textLength="59.48" lengthAdjust="spacingAndGlyphs">AC Load power</text>
<ellipse cx="49.3" cy="524.9" rx="8.1" ry="45.7" stroke="#ff1a1a" stroke-width="1.4" fill="none"/>
<line x1="67.4" y1="479.5" x2="57.64" y2="483.45" stroke="#ff1a1a" stroke-width="1.3" />
<path d="M54.3,484.8 L57.72,481.26 L59.22,484.97 Z" fill="#ff1a1a"/>
<text x="70.21" y="481.4" font-family="'Liberation Serif', 'Times New Roman', serif" font-weight="bold" font-size="7" fill="#ff1a1a" stroke="#ff1a1a" stroke-width="0.22" textLength="119.08" lengthAdjust="spacingAndGlyphs">Non - critical load curtailment = 10 kW</text>
<line x1="59.9" y1="519" x2="59.9" y2="526.8" stroke="#777" stroke-width="0.9" />
<line x1="134.7" y1="521.5" x2="65" y2="521.5" stroke="#111" stroke-width="1.3" />
<path d="M61,521.5 L66,519.6 L66,523.4 Z" fill="#111"/>
<line x1="217.3" y1="522" x2="316" y2="522" stroke="#111" stroke-width="1.3" />
<path d="M320,522 L315,523.9 L315,520.1 Z" fill="#111"/>
<text x="140.51" y="523.95" font-family="'Liberation Serif', 'Times New Roman', serif" font-weight="bold" font-size="7.1" fill="#000" stroke="#000" stroke-width="0.22" textLength="70.28" lengthAdjust="spacingAndGlyphs">(Critical load = 10 kW)</text>
<text x="153.61" y="629.76" font-family="'Liberation Serif', 'Times New Roman', serif" font-weight="bold" font-size="14" fill="#000" stroke="#000" stroke-width="0.22" textLength="16.68" lengthAdjust="spacingAndGlyphs">(k)</text>
<path d="M371.5,514 L399.6,514 L400.3,548 L401,550.8 L402.5,550 L403,550 L403.5,550.23 L404,550.17 L404.5,549.88 L405,549.75 L405.5,549.94 L406,550.21 L406.5,550.21 L407,549.94 L407.5,549.75 L408,549.88 L408.5,550.17 L409,550.23 L409.5,550 L410,549.77 L410.5,549.83 L411,550.12 L411.5,550.25 L412,550.06 L412.5,549.79 L413,549.79 L413.5,550.06 L414,550.25 L414.5,550.12 L415,549.83 L415.5,549.77 L416,550 L416.5,550.23 L417,550.17 L417.5,549.88 L418,549.75 L418.5,549.94 L419,550.21 L419.5,550.21 L420,549.94 L420.5,549.75 L421,549.88 L421.5,550.17 L422,550.23 L422.5,550 L423,549.77 L423.5,549.83 L424,550.12 L424.5,550.25 L425,550.06 L425.5,549.79 L426,549.79 L426.5,550.06 L427,550.25 L427.5,550.12 L428,549.83 L428.5,549.77 L429,550 L429.5,550.23 L430,550.17 L430.5,549.88 L431,549.75 L431.5,549.94 L432,550.21 L432.5,550.21 L433,549.94 L433.5,549.75 L434,549.88 L434.5,550.17 L435,550.23 L435.5,550 L436,549.77 L436.5,549.83 L437,550.12 L437.5,550.25 L438,550.06 L438.5,549.79 L439,549.79 L439.5,550.06 L440,550.25 L440.5,550.12 L441,549.83 L441.5,549.77 L442,550 L442.5,550.23 L443,550.17 L443.5,549.88 L444,549.75 L444.5,549.94 L445,550.21 L445.5,550.21 L446,549.94 L446.5,549.75 L447,549.88 L447.5,550.17 L448,550.23 L448.5,550 L449,549.77 L449.5,549.83 L450,550.12 L450.5,550.25 L451,550.06 L451.5,549.79 L452,549.79 L452.5,550.06 L453,550.25 L453.5,550.12 L454,549.83 L454.5,549.77 L455,550 L455.5,550.23 L456,550.17 L456.5,549.88 L457,549.75 L457.5,549.94 L458,550.21 L458.5,550.21 L459,549.94 L459.5,549.75 L460,549.88 L460.5,550.17 L461,550.23 L461.5,550 L462,549.77 L462.5,549.83 L463,550.12 L463.5,550.25 L464,550.06 L464.5,549.79 L465,549.79 L465.5,550.06 L466,550.25 L466.5,550.12 L467,549.83 L467.5,549.77 L468,550 L468.5,550.23 L469,550.17 L469.5,549.88 L470,549.75 L470.5,549.94 L471,550.21 L471.5,550.21 L472,549.94 L472.5,549.75 L473,549.88 L473.5,550.17 L474,550.23 L474.5,550 L475,549.77 L475.5,549.83 L476,550.12 L476.5,550.25 L477,550.06 L477.5,549.79 L478,549.79 L478.5,550.06 L479,550.25 L479.5,550.12 L480,549.83 L480.5,549.77 L481,550 L481.5,550.23 L482,550.17 L482.5,549.88 L483,549.75 L483.5,549.94 L484,550.21 L484.5,550.21 L485,549.94 L485.5,549.75 L486,549.88 L486.5,550.17 L487,550.23 L487.5,550 L488,549.77 L488.5,549.83 L489,550.12 L489.5,550.25 L490,550.06 L490.5,549.79 L491,549.79 L491.5,550.06 L492,550.25 L492.5,550.12 L493,549.83 L493.5,549.77 L494,550 L494.5,550.23 L495,550.17 L495.5,549.88 L496,549.75 L496.5,549.94 L497,550.21 L497.5,550.21 L498,549.94 L498.5,549.75 L499,549.88 L499.5,550.17 L500,550.23 L500.5,550 L501,549.77 L501.5,549.83 L502,550.12 L502.5,550.25 L503,550.06 L503.5,549.79 L504,549.79 L504.5,550.06 L505,550.25 L505.5,550.12 L506,549.83 L506.5,549.77 L507,550 L507.5,550.23 L508,550.17 L508.5,549.88 L509,549.75 L509.5,549.94 L510,550.21 L510.5,550.21 L511,549.94 L511.5,549.75 L512,549.88 L512.5,550.17 L513,550.23 L513.5,550 L514,549.77 L514.5,549.83 L515,550.12 L515.5,550.25 L516,550.06 L516.5,549.79 L517,549.79 L517.5,550.06 L518,550.25 L518.5,550.12 L519,549.83 L519.5,549.77 L520,550 L520.5,550.23 L521,550.17 L521.5,549.88 L522,549.75 L522.5,549.94 L523,550.21 L523.5,550.21 L524,549.94 L524.5,549.75 L525,549.88 L525.5,550.17 L526,550.23 L526.5,550 L527,549.77 L527.5,549.83 L528,550.12 L528.5,550.25 L529,550.06 L529.5,549.79 L530,549.79 L530.5,550.06 L531,550.25 L531.5,550.12 L532,549.83 L532.5,549.77 L533,550 L533.5,550.23 L534,550.17 L534.5,549.88 L535,549.75 L535.5,549.94 L536,550.21 L536.5,550.21 L537,549.94 L537.5,549.75 L538,549.88 L538.5,550.17 L539,550.23 L539.5,550 L540,549.77 L540.5,549.83 L541,550.12 L541.5,550.25 L542,550.06 L542.5,549.79 L543,549.79 L543.5,550.06 L544,550.25 L544.5,550.12 L545,549.83 L545.5,549.77 L546,550 L546.5,550.23 L547,550.17 L547.5,549.88 L548,549.75 L548.5,549.94 L549,550.21 L549.5,550.21 L550,549.94 L550.5,549.75 L551,549.88 L551.5,550.17 L552,550.23 L552.5,550 L553,549.77 L553.5,549.83 L554,550.12 L554.5,550.25 L555,550.06 L555.5,549.79 L556,549.79 L556.5,550.06 L557,550.25 L557.5,550.12 L558,549.83 L558.5,549.77 L559,550 L559.5,550.23 L560,550.17 L560.5,549.88 L561,549.75 L561.5,549.94 L562,550.21 L562.5,550.21 L563,549.94 L563.5,549.75 L564,549.88 L564.5,550.17 L565,550.23 L565.5,550 L566,549.77 L566.5,549.83 L567,550.12 L567.5,550.25 L568,550.06 L568.5,549.79 L569,549.79 L569.5,550.06 L570,550.25 L570.5,550.12 L571,549.83 L571.5,549.77 L572,550 L572.5,550.23 L573,550.17 L573.5,549.88 L574,549.75 L574.5,549.94 L575,550.21 L575.5,550.21 L576,549.94 L576.5,549.75 L577,549.88 L577.5,550.17 L578,550.23 L578.5,550 L579,549.77 L579.5,549.83 L580,550.12 L580.5,550.25 L581,550.06 L581.5,549.79 L582,549.79 L582.5,550.06 L583,550.25 L583.5,550.12 L584,549.83 L584.5,549.77 L585,550 L585.5,550.23 L586,550.17 L586.5,549.88 L587,549.75 L587.5,549.94 L588,550.21 L588.5,550.21 L589,549.94 L589.5,549.75 L590,549.88 L590.5,550.17 L591,550.23 L591.5,550 L592,549.77 L592.5,549.83 L593,550.12 L593.5,550.25 L594,550.06 L594.5,549.79 L595,549.79 L595.5,550.06 L596,550.25 L596.5,550.12 L597,549.83 L597.5,549.77 L598,550 L598.5,550.23 L599,550.17 L599.5,549.88 L600,549.75 L600.5,549.94 L601,550.21 L601.5,550.21 L602,549.94 L602.5,549.75 L603,549.88 L603.5,550.17 L604,550.23 L604.5,550 L605,549.77 L605.5,549.83 L606,550.12 L606.5,550.25 L607,550.06 L607.5,549.79 L608,549.79 L608.5,550.06 L609,550.25 L609.5,550.12 L610,549.83 L610.5,549.77 L611,550 L611.5,550.23 L612,550.17 L612.5,549.88 L613,549.75 L613.5,549.94 L614,550.21 L614.5,550.21 L615,549.94 L615.5,549.75 L616,549.88 L616.5,550.17 L617,550.23 L617.5,550 L618,549.77 L618.5,549.83 L619,550.12 L619.5,550.25 L620,550.06 L620.5,549.79 L621,549.79 L621.5,550.06 L622,550.25 L622.5,550.12 L623,549.83 L623.5,549.77 L624,550 L624.5,550.23 L625,550.17 L625.5,549.88 L626,549.75 L626.5,549.94 L627,550.21 L627.5,550.21 L628,549.94 L628.5,549.75 L629,549.88 L629.5,550.17 L630,550.23 L630.5,550 L631,549.77 L631.5,549.83 L632,550.12 L632.5,550.25 L633,550.06 L633.5,549.79 L634,549.79 L634.5,550.06 L635,550.25 L635.5,550.12 L636,549.83 L636.5,549.77 L637,550 L637.5,550.23 L638,550.17 L638.5,549.88 L639,549.75 L639.5,549.94 L640,550.21 L640.5,550.21 L641,549.94 L641.5,549.75 L642,549.88 L642.5,550.17 L643,550.23 L643.5,550 L644,549.77 L644.5,549.83 L645,550.12 L645.5,550.25 L646,550.06 L646.5,549.79 L647,549.79 L647.5,550.06 L648,550.25 L648.5,550.12 L649,549.83 L649.5,549.77 L650,550 L650.5,550.23 L651,550.17 L651.5,549.88 L652,549.75 L652.5,549.94 L653,550.21 L653.5,550.21 L654,549.94 L654.5,549.75 L655,549.88 L655.5,550.17 L656,550.23 L656.5,550 L657,549.77 L657.5,549.83 L658,550.12 L658.5,550.25 L659,550.06 L659.5,549.79 L660,549.79 L660.5,550.06 L661,550.25 L661.5,550.12 L662,549.83 L662.5,549.77 L663,550 L663.5,550.23 L664,550.17 L664.5,549.88 L665,549.75 L665.5,549.94 L666,550.21 L666.5,550.21 L667,549.94 L667.5,549.75 L668,549.88 L668.5,550.17 L669,550.23 L669.5,550 L670,549.77 L670.5,549.83 L671,550.12 L671.5,550.25 L672,550.06 L672.5,549.79 L673,549.79 L673.5,550.06 L674,550.25 L674.5,550.12 L675,549.83 L675.5,549.77 L676,550 L676.5,550.23 L677,550.17 L677.5,549.88 L678,549.75" stroke="#ff00ff" stroke-width="1.5" fill="none" stroke-linejoin="round" />
<rect x="371.5" y="462.3" width="307.4" height="106.9" stroke="#222" stroke-width="1.4" fill="none"/>
<path d="M399.45,569.2v-3.5M399.45,462.3v3.5M455.34,569.2v-3.5M455.34,462.3v3.5M511.23,569.2v-3.5M511.23,462.3v3.5M567.12,569.2v-3.5M567.12,462.3v3.5M623.01,569.2v-3.5M623.01,462.3v3.5M678.9,569.2v-3.5M678.9,462.3v3.5M371.5,559.1h3.5M678.9,559.1h-3.5M371.5,538.25h3.5M678.9,538.25h-3.5M371.5,517.4h3.5M678.9,517.4h-3.5M371.5,496.55h3.5M678.9,496.55h-3.5M371.5,475.7h3.5M678.9,475.7h-3.5" stroke="#222" stroke-width="1.4" fill="none"/>
<text x="396.06" y="580.92" font-family="'Liberation Serif', 'Times New Roman', serif" font-weight="bold" font-size="8" fill="#222" stroke="#222" stroke-width="0.22" textLength="6.78" lengthAdjust="spacingAndGlyphs">15</text>
<text x="451.95" y="580.92" font-family="'Liberation Serif', 'Times New Roman', serif" font-weight="bold" font-size="8" fill="#222" stroke="#222" stroke-width="0.22" textLength="6.78" lengthAdjust="spacingAndGlyphs">16</text>
<text x="507.84" y="580.92" font-family="'Liberation Serif', 'Times New Roman', serif" font-weight="bold" font-size="8" fill="#222" stroke="#222" stroke-width="0.22" textLength="6.78" lengthAdjust="spacingAndGlyphs">17</text>
<text x="563.73" y="580.92" font-family="'Liberation Serif', 'Times New Roman', serif" font-weight="bold" font-size="8" fill="#222" stroke="#222" stroke-width="0.22" textLength="6.78" lengthAdjust="spacingAndGlyphs">18</text>
<text x="619.62" y="580.92" font-family="'Liberation Serif', 'Times New Roman', serif" font-weight="bold" font-size="8" fill="#222" stroke="#222" stroke-width="0.22" textLength="6.78" lengthAdjust="spacingAndGlyphs">19</text>
<text x="675.51" y="580.92" font-family="'Liberation Serif', 'Times New Roman', serif" font-weight="bold" font-size="8" fill="#222" stroke="#222" stroke-width="0.22" textLength="6.78" lengthAdjust="spacingAndGlyphs">20</text>
<text x="365.51" y="562.05" font-family="'Liberation Serif', 'Times New Roman', serif" font-weight="bold" font-size="7.8" fill="#222" stroke="#222" stroke-width="0.22" textLength="3.28" lengthAdjust="spacingAndGlyphs">0</text>
<text x="365.51" y="541.2" font-family="'Liberation Serif', 'Times New Roman', serif" font-weight="bold" font-size="7.8" fill="#222" stroke="#222" stroke-width="0.22" textLength="3.28" lengthAdjust="spacingAndGlyphs">1</text>
<text x="365.51" y="520.35" font-family="'Liberation Serif', 'Times New Roman', serif" font-weight="bold" font-size="7.8" fill="#222" stroke="#222" stroke-width="0.22" textLength="3.28" lengthAdjust="spacingAndGlyphs">2</text>
<text x="365.51" y="499.5" font-family="'Liberation Serif', 'Times New Roman', serif" font-weight="bold" font-size="7.8" fill="#222" stroke="#222" stroke-width="0.22" textLength="3.28" lengthAdjust="spacingAndGlyphs">3</text>
<text x="365.51" y="478.65" font-family="'Liberation Serif', 'Times New Roman', serif" font-weight="bold" font-size="7.8" fill="#222" stroke="#222" stroke-width="0.22" textLength="3.28" lengthAdjust="spacingAndGlyphs">4</text>
<text transform="translate(359.04,532) rotate(-90)" x="0.11" y="0" font-family="'Liberation Serif', 'Times New Roman', serif" font-weight="bold" font-size="8" fill="#000" stroke="#000" stroke-width="0.22" textLength="4.78" lengthAdjust="spacingAndGlyphs">P</text>
<text transform="translate(363.31,526.8) rotate(-90)" x="0.11" y="0" font-family="'Liberation Serif', 'Times New Roman', serif" font-weight="bold" font-size="6.4" fill="#000" stroke="#000" stroke-width="0.22" textLength="18.98" lengthAdjust="spacingAndGlyphs">dcload</text>
<text transform="translate(359,505.8) rotate(-90)" x="0.11" y="0" font-family="'Liberation Serif', 'Times New Roman', serif" font-weight="bold" font-size="8" fill="#000" stroke="#000" stroke-width="0.22" textLength="19.08" lengthAdjust="spacingAndGlyphs">(kW)</text>
<text x="495.61" y="593.7" font-family="'Liberation Serif', 'Times New Roman', serif" font-weight="bold" font-size="8.5" fill="#000" stroke="#000" stroke-width="0.22" textLength="32.28" lengthAdjust="spacingAndGlyphs">Time (sec)</text>
<rect x="605.2" y="468.4" width="69.4" height="9.8" stroke="#222" stroke-width="1" fill="#fff"/>
<line x1="607.4" y1="472.9" x2="625.3" y2="472.9" stroke="#ff00ff" stroke-width="1.4" />
<text x="627.11" y="474.99" font-family="'Liberation Serif', 'Times New Roman', serif" font-weight="bold" font-size="6.4" fill="#000" stroke="#000" stroke-width="0.22" textLength="45.28" lengthAdjust="spacingAndGlyphs">DC Load power</text>
<ellipse cx="400.7" cy="532.1" rx="5" ry="26.3" stroke="#ff1a1a" stroke-width="1.3" fill="none"/>
<line x1="428.5" y1="501.4" x2="408.41" y2="511.66" stroke="#ff1a1a" stroke-width="1.3" />
<path d="M405.2,513.3 L408.3,509.47 L410.12,513.03 Z" fill="#ff1a1a"/>
<text x="429.41" y="503.06" font-family="'Liberation Serif', 'Times New Roman', serif" font-weight="bold" font-size="7.2" fill="#ff1a1a" stroke="#ff1a1a" stroke-width="0.22" textLength="124.88" lengthAdjust="spacingAndGlyphs">Non - critical load curtailment = 18 kW</text>
<line x1="486.5" y1="543.5" x2="408.8" y2="543.5" stroke="#111" stroke-width="1.3" />
<path d="M404.8,543.5 L409.8,541.6 L409.8,545.4 Z" fill="#111"/>
<line x1="573" y1="542.5" x2="673.8" y2="542.5" stroke="#111" stroke-width="1.3" />
<path d="M677.8,542.5 L672.8,544.4 L672.8,540.6 Z" fill="#111"/>
<text x="497.31" y="544.52" font-family="'Liberation Serif', 'Times New Roman', serif" font-weight="bold" font-size="7.4" fill="#000" stroke="#000" stroke-width="0.22" textLength="70.28" lengthAdjust="spacingAndGlyphs">(Critical load = 4 kW)</text>
<text x="462.11" y="629.76" font-family="'Liberation Serif', 'Times New Roman', serif" font-weight="bold" font-size="14" fill="#000" stroke="#000" stroke-width="0.22" textLength="12.88" lengthAdjust="spacingAndGlyphs">(l)</text>
<rect x="1.5" y="658.7" width="683" height="212.6" stroke="#a0a0a0" stroke-width="0.9" fill="none"/>
<line x1="226.4" y1="658.7" x2="226.4" y2="871.3" stroke="#a0a0a0" stroke-width="0.9" />
<line x1="458.1" y1="658.7" x2="458.1" y2="871.3" stroke="#a0a0a0" stroke-width="0.9" />
<defs>
<linearGradient id="gOr" x1="0" x2="1" y1="0" y2="0">
 <stop offset="0" stop-color="#cc5800"/><stop offset="0.15" stop-color="#dc6204"/><stop offset="0.45" stop-color="#c85400"/><stop offset="0.75" stop-color="#b04a00"/><stop offset="1" stop-color="#9c4200"/>
</linearGradient>
<linearGradient id="gRd" x1="0" x2="1" y1="0" y2="0">
 <stop offset="0" stop-color="#860000"/><stop offset="0.3" stop-color="#780000"/><stop offset="0.7" stop-color="#620000"/><stop offset="0.9" stop-color="#5a0000"/><stop offset="1" stop-color="#6a0000"/>
</linearGradient>
<filter id="blur1" x="-20%" y="-20%" width="140%" height="140%"><feGaussianBlur stdDeviation="1.6"/></filter>
</defs>
<path d="M18.1,765 L178.3,765 L179.8,800.7 L179.8,801.7 L179.8,802.7 L179.79,803.52 L179.75,804.33 L179.69,805.15 L179.6,805.96 L179.5,806.78 L179.36,807.59 L179.2,808.4 L179.02,809.21 L178.81,810.02 L178.58,810.83 L178.33,811.63 L178.05,812.43 L177.75,813.23 L177.42,814.02 L177.07,814.81 L176.7,815.6 L176.3,816.38 L175.88,817.16 L175.44,817.94 L174.97,818.71 L174.48,819.47 L173.97,820.23 L173.43,820.99 L172.87,821.74 L172.3,822.48 L171.69,823.22 L171.07,823.95 L170.42,824.67 L169.76,825.39 L169.07,826.1 L168.36,826.8 L167.63,827.5 L166.88,828.19 L166.11,828.87 L165.31,829.54 L164.5,830.21 L163.67,830.86 L162.82,831.51 L161.95,832.15 L161.06,832.78 L160.15,833.4 L159.23,834.02 L158.28,834.62 L157.32,835.21 L156.34,835.79 L155.34,836.37 L154.33,836.93 L153.3,837.48 L152.25,838.02 L151.19,838.55 L150.11,839.07 L149.01,839.58 L147.91,840.08 L146.78,840.56 L145.64,841.04 L144.49,841.5 L143.33,841.95 L142.15,842.39 L140.95,842.82 L139.75,843.23 L138.53,843.63 L137.3,844.02 L136.06,844.4 L134.81,844.76 L133.55,845.12 L132.28,845.45 L131,845.78 L129.71,846.09 L128.41,846.39 L127.1,846.68 L125.78,846.95 L124.45,847.21 L123.12,847.46 L121.78,847.69 L120.43,847.91 L119.08,848.11 L117.72,848.3 L116.35,848.48 L114.98,848.64 L113.61,848.79 L112.23,848.92 L110.85,849.04 L109.46,849.15 L108.07,849.24 L106.68,849.32 L105.29,849.39 L103.89,849.44 L102.5,849.47 L101.1,849.49 L97.7,849.5 L96.3,849.49 L94.9,849.47 L93.51,849.44 L92.11,849.39 L90.72,849.32 L89.33,849.24 L87.94,849.15 L86.55,849.04 L85.17,848.92 L83.79,848.79 L82.42,848.64 L81.05,848.48 L79.68,848.3 L78.32,848.11 L76.97,847.91 L75.62,847.69 L74.28,847.46 L72.95,847.21 L71.62,846.95 L70.3,846.68 L68.99,846.39 L67.69,846.09 L66.4,845.78 L65.12,845.45 L63.85,845.12 L62.59,844.76 L61.34,844.4 L60.1,844.02 L58.87,843.63 L57.65,843.23 L56.45,842.82 L55.25,842.39 L54.07,841.95 L52.91,841.5 L51.76,841.04 L50.62,840.56 L49.49,840.08 L48.39,839.58 L47.29,839.07 L46.21,838.55 L45.15,838.02 L44.1,837.48 L43.07,836.93 L42.06,836.37 L41.06,835.79 L40.08,835.21 L39.12,834.62 L38.17,834.02 L37.25,833.4 L36.34,832.78 L35.45,832.15 L34.58,831.51 L33.73,830.86 L32.9,830.21 L32.09,829.54 L31.29,828.87 L30.52,828.19 L29.77,827.5 L29.04,826.8 L28.33,826.1 L27.64,825.39 L26.98,824.67 L26.33,823.95 L25.71,823.22 L25.1,822.48 L24.53,821.74 L23.97,820.99 L23.43,820.23 L22.92,819.47 L22.43,818.71 L21.96,817.94 L21.52,817.16 L21.1,816.38 L20.7,815.6 L20.33,814.81 L19.98,814.02 L19.65,813.23 L19.35,812.43 L19.07,811.63 L18.82,810.83 L18.59,810.02 L18.38,809.21 L18.2,808.4 L18.04,807.59 L17.9,806.78 L17.8,805.96 L17.71,805.15 L17.65,804.33 L17.61,803.52 L17.6,802.7 L17.6,801.7 L17.6,800.7 Z" fill="#c4c4c4" filter="url(#blur1)"/>
<path d="M178.3,775 L178.29,775.82 L178.25,776.63 L178.19,777.45 L178.1,778.26 L178,779.08 L177.86,779.89 L177.7,780.7 L177.52,781.51 L177.31,782.32 L177.08,783.13 L176.83,783.93 L176.55,784.73 L176.25,785.53 L175.92,786.32 L175.57,787.11 L175.2,787.9 L174.8,788.68 L174.38,789.46 L173.94,790.24 L173.47,791.01 L172.98,791.77 L172.47,792.53 L171.93,793.29 L171.37,794.04 L170.8,794.78 L170.19,795.52 L169.57,796.25 L168.92,796.97 L168.26,797.69 L167.57,798.4 L166.86,799.1 L166.13,799.8 L165.38,800.49 L164.61,801.17 L163.81,801.84 L163,802.51 L162.17,803.16 L161.32,803.81 L160.45,804.45 L159.56,805.08 L158.65,805.7 L157.73,806.32 L156.78,806.92 L155.82,807.51 L154.84,808.09 L153.84,808.67 L152.83,809.23 L151.8,809.78 L150.75,810.32 L149.69,810.85 L148.61,811.37 L147.51,811.88 L146.41,812.38 L145.28,812.86 L144.14,813.34 L142.99,813.8 L141.83,814.25 L140.65,814.69 L139.45,815.12 L138.25,815.53 L137.03,815.93 L135.8,816.32 L134.56,816.7 L133.31,817.06 L132.05,817.42 L130.78,817.75 L129.5,818.08 L128.21,818.39 L126.91,818.69 L125.6,818.98 L124.28,819.25 L122.95,819.51 L121.62,819.76 L120.28,819.99 L118.93,820.21 L117.58,820.41 L116.22,820.6 L114.85,820.78 L113.48,820.94 L112.11,821.09 L110.73,821.22 L109.35,821.34 L107.96,821.45 L106.57,821.54 L105.18,821.62 L103.79,821.69 L102.39,821.74 L101,821.77 L99.6,821.79 L98.2,821.8 L98.2,846.5 L99.6,846.49 L101,846.47 L102.39,846.44 L103.79,846.39 L105.18,846.32 L106.57,846.24 L107.96,846.15 L109.35,846.04 L110.73,845.92 L112.11,845.79 L113.48,845.64 L114.85,845.48 L116.22,845.3 L117.58,845.11 L118.93,844.91 L120.28,844.69 L121.62,844.46 L122.95,844.21 L124.28,843.95 L125.6,843.68 L126.91,843.39 L128.21,843.09 L129.5,842.78 L130.78,842.45 L132.05,842.12 L133.31,841.76 L134.56,841.4 L135.8,841.02 L137.03,840.63 L138.25,840.23 L139.45,839.82 L140.65,839.39 L141.83,838.95 L142.99,838.5 L144.14,838.04 L145.28,837.56 L146.41,837.08 L147.51,836.58 L148.61,836.07 L149.69,835.55 L150.75,835.02 L151.8,834.48 L152.83,833.93 L153.84,833.37 L154.84,832.79 L155.82,832.21 L156.78,831.62 L157.73,831.02 L158.65,830.4 L159.56,829.78 L160.45,829.15 L161.32,828.51 L162.17,827.86 L163,827.21 L163.81,826.54 L164.61,825.87 L165.38,825.19 L166.13,824.5 L166.86,823.8 L167.57,823.1 L168.26,822.39 L168.92,821.67 L169.57,820.95 L170.19,820.22 L170.8,819.48 L171.37,818.74 L171.93,817.99 L172.47,817.23 L172.98,816.47 L173.47,815.71 L173.94,814.94 L174.38,814.16 L174.8,813.38 L175.2,812.6 L175.57,811.81 L175.92,811.02 L176.25,810.23 L176.55,809.43 L176.83,808.63 L177.08,807.83 L177.31,807.02 L177.52,806.21 L177.7,805.4 L177.86,804.59 L178,803.78 L178.1,802.96 L178.19,802.15 L178.25,801.33 L178.29,800.52 L178.3,799.7 Z" fill="url(#gRd)" stroke="url(#gRd)" stroke-width="0.5"/>
<path d="M98.2,821.8 L96.8,821.79 L95.4,821.77 L94.01,821.74 L92.61,821.69 L91.22,821.62 L89.83,821.54 L88.44,821.45 L87.05,821.34 L85.67,821.22 L84.29,821.09 L82.92,820.94 L81.55,820.78 L80.18,820.6 L78.82,820.41 L77.47,820.21 L76.12,819.99 L74.78,819.76 L73.45,819.51 L72.12,819.25 L70.8,818.98 L69.49,818.69 L68.19,818.39 L66.9,818.08 L65.62,817.75 L64.35,817.42 L63.09,817.06 L61.84,816.7 L60.6,816.32 L59.37,815.93 L58.15,815.53 L56.95,815.12 L55.75,814.69 L54.57,814.25 L53.41,813.8 L52.26,813.34 L51.12,812.86 L49.99,812.38 L48.89,811.88 L47.79,811.37 L46.71,810.85 L45.65,810.32 L44.6,809.78 L43.57,809.23 L42.56,808.67 L41.56,808.09 L40.58,807.51 L39.62,806.92 L38.67,806.32 L37.75,805.7 L36.84,805.08 L35.95,804.45 L35.08,803.81 L34.23,803.16 L33.4,802.51 L32.59,801.84 L31.79,801.17 L31.02,800.49 L30.27,799.8 L29.54,799.1 L28.83,798.4 L28.14,797.69 L27.48,796.97 L26.83,796.25 L26.21,795.52 L25.6,794.78 L25.03,794.04 L24.47,793.29 L23.93,792.53 L23.42,791.77 L22.93,791.01 L22.46,790.24 L22.02,789.46 L21.6,788.68 L21.2,787.9 L20.83,787.11 L20.48,786.32 L20.15,785.53 L19.85,784.73 L19.57,783.93 L19.32,783.13 L19.09,782.32 L18.88,781.51 L18.7,780.7 L18.54,779.89 L18.4,779.08 L18.3,778.26 L18.21,777.45 L18.15,776.63 L18.11,775.82 L18.1,775 L18.1,799.7 L18.11,800.52 L18.15,801.33 L18.21,802.15 L18.3,802.96 L18.4,803.78 L18.54,804.59 L18.7,805.4 L18.88,806.21 L19.09,807.02 L19.32,807.83 L19.57,808.63 L19.85,809.43 L20.15,810.23 L20.48,811.02 L20.83,811.81 L21.2,812.6 L21.6,813.38 L22.02,814.16 L22.46,814.94 L22.93,815.71 L23.42,816.47 L23.93,817.23 L24.47,817.99 L25.03,818.74 L25.6,819.48 L26.21,820.22 L26.83,820.95 L27.48,821.67 L28.14,822.39 L28.83,823.1 L29.54,823.8 L30.27,824.5 L31.02,825.19 L31.79,825.87 L32.59,826.54 L33.4,827.21 L34.23,827.86 L35.08,828.51 L35.95,829.15 L36.84,829.78 L37.75,830.4 L38.67,831.02 L39.62,831.62 L40.58,832.21 L41.56,832.79 L42.56,833.37 L43.57,833.93 L44.6,834.48 L45.65,835.02 L46.71,835.55 L47.79,836.07 L48.89,836.58 L49.99,837.08 L51.12,837.56 L52.26,838.04 L53.41,838.5 L54.57,838.95 L55.75,839.39 L56.95,839.82 L58.15,840.23 L59.37,840.63 L60.6,841.02 L61.84,841.4 L63.09,841.76 L64.35,842.12 L65.62,842.45 L66.9,842.78 L68.19,843.09 L69.49,843.39 L70.8,843.68 L72.12,843.95 L73.45,844.21 L74.78,844.46 L76.12,844.69 L77.47,844.91 L78.82,845.11 L80.18,845.3 L81.55,845.48 L82.92,845.64 L84.29,845.79 L85.67,845.92 L87.05,846.04 L88.44,846.15 L89.83,846.24 L91.22,846.32 L92.61,846.39 L94.01,846.44 L95.4,846.47 L96.8,846.49 L98.2,846.5 Z" fill="url(#gOr)" stroke="url(#gOr)" stroke-width="0.5"/>
<path d="M98.6,753.5 L98.2,708.3 L99.6,708.31 L101,708.33 L102.39,708.38 L103.79,708.44 L105.18,708.52 L106.57,708.61 L107.96,708.72 L109.35,708.85 L110.73,709 L112.11,709.16 L113.48,709.34 L114.85,709.54 L116.22,709.75 L117.58,709.98 L118.93,710.23 L120.28,710.5 L121.62,710.78 L122.95,711.08 L124.28,711.39 L125.6,711.72 L126.91,712.07 L128.21,712.43 L129.5,712.81 L130.78,713.2 L132.05,713.61 L133.31,714.04 L134.56,714.48 L135.8,714.94 L137.03,715.41 L138.25,715.9 L139.45,716.4 L140.65,716.92 L141.83,717.45 L142.99,717.99 L144.14,718.55 L145.28,719.13 L146.41,719.72 L147.51,720.32 L148.61,720.94 L149.69,721.57 L150.75,722.21 L151.8,722.86 L152.83,723.53 L153.84,724.21 L154.84,724.91 L155.82,725.61 L156.78,726.33 L157.73,727.06 L158.65,727.8 L159.56,728.55 L160.45,729.32 L161.32,730.09 L162.17,730.88 L163,731.67 L163.81,732.48 L164.61,733.29 L165.38,734.12 L166.13,734.95 L166.86,735.8 L167.57,736.65 L168.26,737.51 L168.92,738.38 L169.57,739.26 L170.19,740.14 L170.8,741.04 L171.37,741.94 L171.93,742.85 L172.47,743.76 L172.98,744.68 L173.47,745.61 L173.94,746.54 L174.38,747.48 L174.8,748.42 L175.2,749.37 L175.57,750.32 L175.92,751.28 L176.25,752.25 L176.55,753.21 L176.83,754.18 L177.08,755.15 Z" fill="#ffff00" stroke="#ffff00" stroke-width="0.5" stroke-linejoin="round"/>
<path d="M98.6,753.5 L177.08,755.15 L177.31,756.13 L177.52,757.11 L177.7,758.09 L177.86,759.07 L178,760.06 L178.1,761.04 L178.19,762.03 L178.25,763.02 L178.29,764.01 L178.3,765 L178.3,766 L178.3,767 L178.3,768 L178.3,769 L178.3,770 L178.3,771 L178.3,772 L178.3,773 L178.3,774 L178.3,775 L178.29,775.82 L178.25,776.63 L178.19,777.45 L178.1,778.26 L178,779.08 L177.86,779.89 L177.7,780.7 L177.52,781.51 L177.31,782.32 L177.08,783.13 L176.83,783.93 L176.55,784.73 L176.25,785.53 L175.92,786.32 L175.57,787.11 L175.2,787.9 L174.8,788.68 L174.38,789.46 L173.94,790.24 L173.47,791.01 L172.98,791.77 L172.47,792.53 L171.93,793.29 L171.37,794.04 L170.8,794.78 L170.19,795.52 L169.57,796.25 L168.92,796.97 L168.26,797.69 L167.57,798.4 L166.86,799.1 L166.13,799.8 L165.38,800.49 L164.61,801.17 L163.81,801.84 L163,802.51 L162.17,803.16 L161.32,803.81 L160.45,804.45 L159.56,805.08 L158.65,805.7 L157.73,806.32 L156.78,806.92 L155.82,807.51 L154.84,808.09 L153.84,808.67 L152.83,809.23 L151.8,809.78 L150.75,810.32 L149.69,810.85 L148.61,811.37 L147.51,811.88 L146.41,812.38 L145.28,812.86 L144.14,813.34 L142.99,813.8 L141.83,814.25 L140.65,814.69 L139.45,815.12 L138.25,815.53 L137.03,815.93 L135.8,816.32 L134.56,816.7 L133.31,817.06 L132.05,817.42 L130.78,817.75 L129.5,818.08 L128.21,818.39 L126.91,818.69 L125.6,818.98 L124.28,819.25 L122.95,819.51 L121.62,819.76 L120.28,819.99 L118.93,820.21 L117.58,820.41 L116.22,820.6 L114.85,820.78 L113.48,820.94 L112.11,821.09 L110.73,821.22 L109.35,821.34 L107.96,821.45 L106.57,821.54 L105.18,821.62 L103.79,821.69 L102.39,821.74 L101,821.77 L99.6,821.79 L98.2,821.8 Z" fill="#ff0000" stroke="#ff0000" stroke-width="0.5" stroke-linejoin="round"/>
<path d="M98.6,753.5 L98.2,821.8 L96.8,821.79 L95.4,821.77 L94.01,821.74 L92.61,821.69 L91.22,821.62 L89.83,821.54 L88.44,821.45 L87.05,821.34 L85.67,821.22 L84.29,821.09 L82.92,820.94 L81.55,820.78 L80.18,820.6 L78.82,820.41 L77.47,820.21 L76.12,819.99 L74.78,819.76 L73.45,819.51 L72.12,819.25 L70.8,818.98 L69.49,818.69 L68.19,818.39 L66.9,818.08 L65.62,817.75 L64.35,817.42 L63.09,817.06 L61.84,816.7 L60.6,816.32 L59.37,815.93 L58.15,815.53 L56.95,815.12 L55.75,814.69 L54.57,814.25 L53.41,813.8 L52.26,813.34 L51.12,812.86 L49.99,812.38 L48.89,811.88 L47.79,811.37 L46.71,810.85 L45.65,810.32 L44.6,809.78 L43.57,809.23 L42.56,808.67 L41.56,808.09 L40.58,807.51 L39.62,806.92 L38.67,806.32 L37.75,805.7 L36.84,805.08 L35.95,804.45 L35.08,803.81 L34.23,803.16 L33.4,802.51 L32.59,801.84 L31.79,801.17 L31.02,800.49 L30.27,799.8 L29.54,799.1 L28.83,798.4 L28.14,797.69 L27.48,796.97 L26.83,796.25 L26.21,795.52 L25.6,794.78 L25.03,794.04 L24.47,793.29 L23.93,792.53 L23.42,791.77 L22.93,791.01 L22.46,790.24 L22.02,789.46 L21.6,788.68 L21.2,787.9 L20.83,787.11 L20.48,786.32 L20.15,785.53 L19.85,784.73 L19.57,783.93 L19.32,783.13 L19.09,782.32 L18.88,781.51 L18.7,780.7 L18.54,779.89 L18.4,779.08 L18.3,778.26 L18.21,777.45 L18.15,776.63 L18.11,775.82 L18.1,775 L18.1,774 L18.1,773 L18.1,772 L18.1,771 L18.1,770 L18.1,769 L18.1,768 L18.1,767 L18.1,766 L18.1,765 L18.11,764.01 L18.15,763.02 L18.21,762.03 L18.3,761.04 L18.4,760.06 L18.54,759.07 L18.7,758.09 L18.88,757.11 L19.09,756.13 L19.32,755.15 L19.57,754.18 L19.85,753.21 L20.15,752.25 L20.48,751.28 L20.83,750.32 L21.2,749.37 L21.6,748.42 L22.02,747.48 L22.46,746.54 L22.93,745.61 L23.42,744.68 L23.93,743.76 L24.47,742.85 L25.03,741.94 L25.6,741.04 L26.21,740.14 L26.83,739.26 L27.48,738.38 L27.81,737.95 Z" fill="#ff6600" stroke="#ff6600" stroke-width="0.5" stroke-linejoin="round"/>
<path d="M98.6,753.5 L27.81,737.95 L28.14,737.51 L28.83,736.65 L29.54,735.8 L30.27,734.95 L31.02,734.12 L31.79,733.29 L32.59,732.48 L33.4,731.67 L34.23,730.88 L35.08,730.09 L35.95,729.32 L36.84,728.55 L37.75,727.8 L38.67,727.06 L39.62,726.33 L40.58,725.61 L41.56,724.91 L42.56,724.21 L43.57,723.53 L44.6,722.86 L45.65,722.21 L46.71,721.57 L47.79,720.94 L48.89,720.32 L49.99,719.72 L51.12,719.13 L52.26,718.55 L53.41,717.99 L54.57,717.45 L55.75,716.92 L56.95,716.4 L58.15,715.9 L59.37,715.41 L60.6,714.94 L61.84,714.48 L63.09,714.04 L64.35,713.61 L65.62,713.2 L66.9,712.81 L67.55,712.62 Z" fill="#00ee00" stroke="#00ee00" stroke-width="0.5" stroke-linejoin="round"/>
<path d="M98.6,753.5 L67.55,712.62 L68.19,712.43 L69.49,712.07 L70.8,711.72 L72.12,711.39 L73.45,711.08 L74.78,710.78 L76.12,710.5 L77.47,710.23 L78.82,709.98 L80.18,709.75 L81.55,709.54 L82.92,709.34 L84.29,709.16 L85.67,709 L87.05,708.85 L88.44,708.72 L89.83,708.61 L91.22,708.52 L92.61,708.44 L94.01,708.38 L95.4,708.33 L96.8,708.31 L98.2,708.3 Z" fill="#97460f" stroke="#97460f" stroke-width="0.5" stroke-linejoin="round"/>
<path d="M98.2,820.6 L96.8,820.59 L95.4,820.57 L94.01,820.54 L92.61,820.49 L91.22,820.42 L89.83,820.34 L88.44,820.25 L87.05,820.14 L85.67,820.02 L84.29,819.89 L82.92,819.74 L81.55,819.58 L80.18,819.4 L78.82,819.21 L77.47,819.01 L76.12,818.79 L74.78,818.56 L73.45,818.31 L72.12,818.05 L70.8,817.78 L69.49,817.49 L68.19,817.19 L66.9,816.88 L65.62,816.55 L64.35,816.22 L63.09,815.86 L61.84,815.5 L60.6,815.12 L59.37,814.73 L58.15,814.33 L56.95,813.92 L55.75,813.49 L54.57,813.05 L53.41,812.6 L52.26,812.14 L51.12,811.66 L49.99,811.18 L48.89,810.68 L47.79,810.17 L46.71,809.65 L45.65,809.12 L44.6,808.58 L43.57,808.03 L42.56,807.47 L41.56,806.89 L40.58,806.31 L39.62,805.72 L38.67,805.12 L37.75,804.5 L36.84,803.88 L35.95,803.25 L35.08,802.61 L34.23,801.96 L33.4,801.31 L32.59,800.64 L31.79,799.97 L31.02,799.29 L30.27,798.6 L29.54,797.9 L28.83,797.2 L28.14,796.49 L27.48,795.77 L26.83,795.05 L26.21,794.32 L25.6,793.58 L25.03,792.84 L24.47,792.09 L23.93,791.33 L23.42,790.57 L22.93,789.81 L22.46,789.04 L22.02,788.26 L21.6,787.48 L21.2,786.7 L21.43,785.91 L21.08,785.12 L20.75,784.33 L20.45,783.53 L20.17,782.73 L19.92,781.93 L19.69,781.12 L19.48,780.31 L19.3,779.5 L19.14,778.69 L19,777.88 L18.9,777.06 L18.81,776.25 L18.75,775.43 L18.71,774.62 L18.7,773.8" stroke="#ff8c2e" stroke-width="1.6" fill="none"/>
<path d="M245.4,768.7 L407.4,768.7 L408.9,805.1 L408.9,806.1 L408.9,807.1 L408.89,807.95 L408.85,808.8 L408.79,809.65 L408.7,810.5 L408.59,811.34 L408.46,812.19 L408.3,813.04 L408.11,813.88 L407.9,814.72 L407.67,815.56 L407.41,816.39 L407.13,817.23 L406.82,818.06 L406.49,818.88 L406.14,819.7 L405.76,820.52 L405.36,821.34 L404.94,822.15 L404.49,822.96 L404.02,823.76 L403.52,824.55 L403,825.34 L402.46,826.13 L401.9,826.91 L401.31,827.68 L400.7,828.45 L400.07,829.21 L399.42,829.96 L398.74,830.71 L398.05,831.45 L397.33,832.18 L396.59,832.91 L395.83,833.62 L395.05,834.33 L394.25,835.03 L393.43,835.73 L392.59,836.41 L391.73,837.08 L390.85,837.75 L389.95,838.4 L389.03,839.05 L388.09,839.69 L387.14,840.31 L386.17,840.93 L385.18,841.54 L384.17,842.13 L383.14,842.72 L382.1,843.29 L381.04,843.85 L379.97,844.41 L378.87,844.95 L377.77,845.48 L376.65,845.99 L375.51,846.5 L374.36,846.99 L373.19,847.47 L372.02,847.94 L370.82,848.4 L369.62,848.84 L368.4,849.28 L367.17,849.69 L365.93,850.1 L364.67,850.49 L363.41,850.87 L362.13,851.24 L360.85,851.59 L359.55,851.93 L358.24,852.25 L356.93,852.57 L355.6,852.86 L354.27,853.15 L352.93,853.42 L351.58,853.67 L350.23,853.91 L348.86,854.14 L347.5,854.35 L346.12,854.55 L344.74,854.74 L343.36,854.91 L341.97,855.06 L340.57,855.2 L339.17,855.33 L337.77,855.44 L336.37,855.53 L334.96,855.61 L333.55,855.68 L332.14,855.73 L330.73,855.77 L329.31,855.79 L325.9,855.8 L324.49,855.79 L323.07,855.77 L321.66,855.73 L320.25,855.68 L318.84,855.61 L317.43,855.53 L316.03,855.44 L314.63,855.33 L313.23,855.2 L311.83,855.06 L310.44,854.91 L309.06,854.74 L307.68,854.55 L306.3,854.35 L304.94,854.14 L303.57,853.91 L302.22,853.67 L300.87,853.42 L299.53,853.15 L298.2,852.86 L296.87,852.57 L295.56,852.25 L294.25,851.93 L292.95,851.59 L291.67,851.24 L290.39,850.87 L289.13,850.49 L287.87,850.1 L286.63,849.69 L285.4,849.28 L284.18,848.84 L282.98,848.4 L281.78,847.94 L280.61,847.47 L279.44,846.99 L278.29,846.5 L277.15,845.99 L276.03,845.48 L274.93,844.95 L273.83,844.41 L272.76,843.85 L271.7,843.29 L270.66,842.72 L269.63,842.13 L268.62,841.54 L267.63,840.93 L266.66,840.31 L265.71,839.69 L264.77,839.05 L263.85,838.4 L262.95,837.75 L262.07,837.08 L261.21,836.41 L260.37,835.73 L259.55,835.03 L258.75,834.33 L257.97,833.62 L257.21,832.91 L256.47,832.18 L255.75,831.45 L255.06,830.71 L254.38,829.96 L253.73,829.21 L253.1,828.45 L252.49,827.68 L251.9,826.91 L251.34,826.13 L250.8,825.34 L250.28,824.55 L249.78,823.76 L249.31,822.96 L248.86,822.15 L248.44,821.34 L248.04,820.52 L247.66,819.7 L247.31,818.88 L246.98,818.06 L246.67,817.23 L246.39,816.39 L246.13,815.56 L245.9,814.72 L245.69,813.88 L245.5,813.04 L245.34,812.19 L245.21,811.34 L245.1,810.5 L245.01,809.65 L244.95,808.8 L244.91,807.95 L244.9,807.1 L244.9,806.1 L244.9,805.1 Z" fill="#c4c4c4" filter="url(#blur1)"/>
<path d="M407.4,778.7 L407.39,779.55 L407.35,780.4 L407.29,781.25 L407.2,782.1 L407.09,782.94 L406.96,783.79 L406.8,784.64 L406.61,785.48 L406.4,786.32 L406.17,787.16 L405.91,787.99 L405.63,788.83 L405.32,789.66 L404.99,790.48 L404.64,791.3 L404.26,792.12 L403.86,792.94 L403.44,793.75 L402.99,794.56 L402.52,795.36 L402.02,796.15 L401.5,796.94 L400.96,797.73 L400.4,798.51 L399.81,799.28 L399.2,800.05 L398.57,800.81 L397.92,801.56 L397.24,802.31 L396.55,803.05 L395.83,803.78 L395.09,804.51 L394.33,805.22 L393.55,805.93 L392.75,806.63 L391.93,807.33 L391.09,808.01 L390.23,808.68 L389.35,809.35 L388.45,810 L387.53,810.65 L386.59,811.29 L385.64,811.91 L384.67,812.53 L383.68,813.14 L382.67,813.73 L381.64,814.32 L380.6,814.89 L379.54,815.45 L378.47,816.01 L377.37,816.55 L376.27,817.08 L375.15,817.59 L374.01,818.1 L372.86,818.59 L371.69,819.07 L370.52,819.54 L369.32,820 L368.12,820.44 L366.9,820.88 L365.67,821.29 L364.43,821.7 L363.17,822.09 L361.91,822.47 L360.63,822.84 L359.35,823.19 L358.05,823.53 L356.74,823.85 L355.43,824.17 L354.1,824.46 L352.77,824.75 L351.43,825.02 L350.08,825.27 L348.73,825.51 L347.36,825.74 L346,825.95 L344.62,826.15 L343.24,826.34 L341.86,826.51 L340.47,826.66 L339.07,826.8 L337.67,826.93 L336.27,827.04 L334.87,827.13 L333.46,827.21 L332.05,827.28 L330.64,827.33 L329.23,827.37 L327.81,827.39 L326.4,827.4 L326.4,852.8 L327.81,852.79 L329.23,852.77 L330.64,852.73 L332.05,852.68 L333.46,852.61 L334.87,852.53 L336.27,852.44 L337.67,852.33 L339.07,852.2 L340.47,852.06 L341.86,851.91 L343.24,851.74 L344.62,851.55 L346,851.35 L347.36,851.14 L348.73,850.91 L350.08,850.67 L351.43,850.42 L352.77,850.15 L354.1,849.86 L355.43,849.57 L356.74,849.25 L358.05,848.93 L359.35,848.59 L360.63,848.24 L361.91,847.87 L363.17,847.49 L364.43,847.1 L365.67,846.69 L366.9,846.28 L368.12,845.84 L369.32,845.4 L370.52,844.94 L371.69,844.47 L372.86,843.99 L374.01,843.5 L375.15,842.99 L376.27,842.48 L377.37,841.95 L378.47,841.41 L379.54,840.85 L380.6,840.29 L381.64,839.72 L382.67,839.13 L383.68,838.54 L384.67,837.93 L385.64,837.31 L386.59,836.69 L387.53,836.05 L388.45,835.4 L389.35,834.75 L390.23,834.08 L391.09,833.41 L391.93,832.73 L392.75,832.03 L393.55,831.33 L394.33,830.62 L395.09,829.91 L395.83,829.18 L396.55,828.45 L397.24,827.71 L397.92,826.96 L398.57,826.21 L399.2,825.45 L399.81,824.68 L400.4,823.91 L400.96,823.13 L401.5,822.34 L402.02,821.55 L402.52,820.76 L402.99,819.96 L403.44,819.15 L403.86,818.34 L404.26,817.52 L404.64,816.7 L404.99,815.88 L405.32,815.06 L405.63,814.23 L405.91,813.39 L406.17,812.56 L406.4,811.72 L406.61,810.88 L406.8,810.04 L406.96,809.19 L407.09,808.34 L407.2,807.5 L407.29,806.65 L407.35,805.8 L407.39,804.95 L407.4,804.1 Z" fill="url(#gRd)" stroke="url(#gRd)" stroke-width="0.5"/>
<path d="M326.4,827.4 L324.99,827.39 L323.57,827.37 L322.16,827.33 L320.75,827.28 L319.34,827.21 L317.93,827.13 L316.53,827.04 L315.13,826.93 L313.73,826.8 L312.33,826.66 L310.94,826.51 L309.56,826.34 L308.18,826.15 L306.8,825.95 L305.44,825.74 L304.07,825.51 L302.72,825.27 L301.37,825.02 L300.03,824.75 L298.7,824.46 L297.37,824.17 L296.06,823.85 L294.75,823.53 L293.45,823.19 L292.17,822.84 L290.89,822.47 L289.63,822.09 L288.37,821.7 L287.13,821.29 L285.9,820.88 L284.68,820.44 L283.48,820 L282.28,819.54 L281.11,819.07 L279.94,818.59 L278.79,818.1 L277.65,817.59 L276.53,817.08 L275.43,816.55 L274.33,816.01 L273.26,815.45 L272.2,814.89 L271.16,814.32 L270.13,813.73 L269.12,813.14 L268.13,812.53 L267.16,811.91 L266.21,811.29 L265.27,810.65 L264.35,810 L263.45,809.35 L262.57,808.68 L261.71,808.01 L260.87,807.33 L260.05,806.63 L259.25,805.93 L258.47,805.22 L257.71,804.51 L256.97,803.78 L256.25,803.05 L255.56,802.31 L254.88,801.56 L254.23,800.81 L253.6,800.05 L252.99,799.28 L252.4,798.51 L251.84,797.73 L251.3,796.94 L250.78,796.15 L250.28,795.36 L249.81,794.56 L249.36,793.75 L248.94,792.94 L248.54,792.12 L248.16,791.3 L247.81,790.48 L247.48,789.66 L247.17,788.83 L246.89,787.99 L246.63,787.16 L246.4,786.32 L246.19,785.48 L246,784.64 L245.84,783.79 L245.71,782.94 L245.6,782.1 L245.51,781.25 L245.45,780.4 L245.41,779.55 L245.4,778.7 L245.4,804.1 L245.41,804.95 L245.45,805.8 L245.51,806.65 L245.6,807.5 L245.71,808.34 L245.84,809.19 L246,810.04 L246.19,810.88 L246.4,811.72 L246.63,812.56 L246.89,813.39 L247.17,814.23 L247.48,815.06 L247.81,815.88 L248.16,816.7 L248.54,817.52 L248.94,818.34 L249.36,819.15 L249.81,819.96 L250.28,820.76 L250.78,821.55 L251.3,822.34 L251.84,823.13 L252.4,823.91 L252.99,824.68 L253.6,825.45 L254.23,826.21 L254.88,826.96 L255.56,827.71 L256.25,828.45 L256.97,829.18 L257.71,829.91 L258.47,830.62 L259.25,831.33 L260.05,832.03 L260.87,832.73 L261.71,833.41 L262.57,834.08 L263.45,834.75 L264.35,835.4 L265.27,836.05 L266.21,836.69 L267.16,837.31 L268.13,837.93 L269.12,838.54 L270.13,839.13 L271.16,839.72 L272.2,840.29 L273.26,840.85 L274.33,841.41 L275.43,841.95 L276.53,842.48 L277.65,842.99 L278.79,843.5 L279.94,843.99 L281.11,844.47 L282.28,844.94 L283.48,845.4 L284.68,845.84 L285.9,846.28 L287.13,846.69 L288.37,847.1 L289.63,847.49 L290.89,847.87 L292.17,848.24 L293.45,848.59 L294.75,848.93 L296.06,849.25 L297.37,849.57 L298.7,849.86 L300.03,850.15 L301.37,850.42 L302.72,850.67 L304.07,850.91 L305.44,851.14 L306.8,851.35 L308.18,851.55 L309.56,851.74 L310.94,851.91 L312.33,852.06 L313.73,852.2 L315.13,852.33 L316.53,852.44 L317.93,852.53 L319.34,852.61 L320.75,852.68 L322.16,852.73 L323.57,852.77 L324.99,852.79 L326.4,852.8 Z" fill="url(#gOr)" stroke="url(#gOr)" stroke-width="0.5"/>
<path d="M326.3,756.8 L326.4,710 L327.81,710.01 L329.23,710.04 L330.64,710.08 L332.05,710.14 L333.46,710.22 L334.87,710.32 L336.27,710.44 L337.67,710.57 L339.07,710.72 L340.47,710.89 L341.86,711.08 L343.24,711.28 L344.62,711.5 L346,711.74 L347.36,712 L348.73,712.27 L350.08,712.56 L351.43,712.87 L352.77,713.2 L354.1,713.54 L355.43,713.9 L356.74,714.27 L358.05,714.67 L359.35,715.07 L360.63,715.5 L361.91,715.94 L363.17,716.4 L364.43,716.87 L365.67,717.36 L366.9,717.86 L368.12,718.38 L369.32,718.92 L370.52,719.47 L371.69,720.04 L372.86,720.62 L374.01,721.21 L375.15,721.82 L376.27,722.44 L377.37,723.08 L378.47,723.73 L379.54,724.4 L380.6,725.08 L381.64,725.77 L382.67,726.47 L383.68,727.19 L384.67,727.92 L385.64,728.67 L386.59,729.42 L387.53,730.19 L388.45,730.97 L389.35,731.76 L390.23,732.56 L391.09,733.37 L391.93,734.2 L392.75,735.03 L393.55,735.88 L394.33,736.73 L395.09,737.59 L395.83,738.47 L396.55,739.35 L397.24,740.24 L397.92,741.14 L398.25,741.6 Z" fill="#ffff00" stroke="#ffff00" stroke-width="0.5" stroke-linejoin="round"/>
<path d="M326.3,756.8 L398.25,741.6 L398.57,742.05 L399.2,742.97 L399.81,743.89 L400.4,744.82 L400.96,745.76 L401.5,746.71 L402.02,747.66 L402.52,748.62 L402.99,749.59 L403.44,750.56 L403.86,751.54 L404.26,752.52 L404.64,753.51 L404.99,754.5 L405.32,755.5 L405.63,756.5 L405.91,757.5 L406.17,758.51 L406.4,759.52 L406.61,760.53 L406.8,761.55 L406.96,762.56 L407.09,763.58 L407.2,764.61 L407.29,765.63 L407.35,766.65 L407.39,767.68 L407.4,768.7 L407.4,769.7 L407.4,770.7 L407.4,771.7 L407.4,772.7 L407.4,773.7 L407.4,774.7 L407.4,775.7 L407.4,776.7 L407.4,777.7 L407.4,778.7 L407.39,779.55 L407.35,780.4 L407.29,781.25 L407.2,782.1 L407.09,782.94 L406.96,783.79 L406.8,784.64 L406.61,785.48 L406.4,786.32 L406.17,787.16 L405.91,787.99 L405.63,788.83 L405.32,789.66 L404.99,790.48 L404.64,791.3 L404.26,792.12 L403.86,792.94 L403.44,793.75 L402.99,794.56 L402.52,795.36 L402.02,796.15 L401.5,796.94 L400.96,797.73 L400.4,798.51 L399.81,799.28 L399.2,800.05 L398.57,800.81 L397.92,801.56 L397.24,802.31 L396.55,803.05 L395.83,803.78 L395.09,804.51 L394.33,805.22 L393.55,805.93 L392.75,806.63 L391.93,807.33 L391.09,808.01 L390.23,808.68 L389.35,809.35 L388.45,810 L387.53,810.65 L386.59,811.29 L385.64,811.91 L384.67,812.53 L383.68,813.14 L382.67,813.73 L381.64,814.32 L380.6,814.89 L379.54,815.45 L378.47,816.01 L377.37,816.55 L376.27,817.08 L375.15,817.59 L374.01,818.1 L372.86,818.59 L371.69,819.07 L370.52,819.54 L369.32,820 L368.12,820.44 L366.9,820.88 L365.67,821.29 L364.43,821.7 L363.17,822.09 L361.91,822.47 L360.63,822.84 L359.35,823.19 L358.05,823.53 L356.74,823.85 L355.43,824.17 L354.1,824.46 L352.77,824.75 L351.43,825.02 L350.08,825.27 L348.73,825.51 L347.36,825.74 L346,825.95 L344.62,826.15 L343.24,826.34 L341.86,826.51 L340.47,826.66 L339.07,826.8 L337.67,826.93 L336.27,827.04 L334.87,827.13 L333.46,827.21 L332.05,827.28 L330.64,827.33 L329.23,827.37 L327.81,827.39 L326.4,827.4 Z" fill="#ff0000" stroke="#ff0000" stroke-width="0.5" stroke-linejoin="round"/>
<path d="M326.3,756.8 L326.4,827.4 L324.99,827.39 L323.57,827.37 L322.16,827.33 L320.75,827.28 L319.34,827.21 L317.93,827.13 L316.53,827.04 L315.13,826.93 L313.73,826.8 L312.33,826.66 L310.94,826.51 L309.56,826.34 L308.18,826.15 L306.8,825.95 L305.44,825.74 L304.07,825.51 L302.72,825.27 L301.37,825.02 L300.03,824.75 L298.7,824.46 L297.37,824.17 L296.06,823.85 L294.75,823.53 L293.45,823.19 L292.17,822.84 L290.89,822.47 L289.63,822.09 L288.37,821.7 L287.13,821.29 L285.9,820.88 L284.68,820.44 L283.48,820 L282.28,819.54 L281.11,819.07 L279.94,818.59 L278.79,818.1 L277.65,817.59 L276.53,817.08 L275.43,816.55 L274.33,816.01 L273.26,815.45 L272.2,814.89 L271.16,814.32 L270.13,813.73 L269.12,813.14 L268.13,812.53 L267.16,811.91 L266.21,811.29 L265.27,810.65 L264.35,810 L263.45,809.35 L262.57,808.68 L261.71,808.01 L260.87,807.33 L260.05,806.63 L259.25,805.93 L258.47,805.22 L257.71,804.51 L256.97,803.78 L256.25,803.05 L255.56,802.31 L254.88,801.56 L254.23,800.81 L253.6,800.05 L252.99,799.28 L252.4,798.51 L251.84,797.73 L251.3,796.94 L250.78,796.15 L250.28,795.36 L249.81,794.56 L249.36,793.75 L248.94,792.94 L248.54,792.12 L248.16,791.3 L247.81,790.48 L247.48,789.66 L247.17,788.83 L246.89,787.99 L246.63,787.16 L246.4,786.32 L246.19,785.48 L246,784.64 L245.84,783.79 L245.71,782.94 L245.6,782.1 L245.51,781.25 L245.45,780.4 L245.41,779.55 L245.4,778.7 L245.4,777.7 L245.4,776.7 L245.4,775.7 L245.4,774.7 L245.4,773.7 L245.4,772.7 L245.4,771.7 L245.4,770.7 L245.4,769.7 L245.4,768.7 L245.41,767.68 L245.45,766.65 L245.51,765.63 L245.6,764.61 L245.71,763.58 L245.84,762.56 L246,761.55 L246.09,761.04 Z" fill="#ff6600" stroke="#ff6600" stroke-width="0.5" stroke-linejoin="round"/>
<path d="M326.3,756.8 L246.09,761.04 L246.19,760.53 L246.4,759.52 L246.63,758.51 L246.89,757.5 L247.17,756.5 L247.48,755.5 L247.81,754.5 L248.16,753.51 L248.54,752.52 L248.94,751.54 L249.36,750.56 L249.81,749.59 L250.28,748.62 L250.78,747.66 L251.3,746.71 L251.84,745.76 L252.4,744.82 L252.99,743.89 L253.6,742.97 L254.23,742.05 L254.88,741.14 L255.56,740.24 L256.25,739.35 L256.97,738.47 L257.71,737.59 L258.47,736.73 L259.25,735.88 L260.05,735.03 L260.87,734.2 L261.71,733.37 L262.57,732.56 L263.45,731.76 L263.9,731.36 Z" fill="#00ee00" stroke="#00ee00" stroke-width="0.5" stroke-linejoin="round"/>
<path d="M326.3,756.8 L263.9,731.36 L264.35,730.97 L265.27,730.19 L266.21,729.42 L267.16,728.67 L268.13,727.92 L269.12,727.19 L270.13,726.47 L271.16,725.77 L272.2,725.08 L273.26,724.4 L274.33,723.73 L275.43,723.08 L276.53,722.44 L277.65,721.82 L278.79,721.21 L279.94,720.62 L281.11,720.04 L282.28,719.47 L283.48,718.92 L284.68,718.38 L285.9,717.86 L287.13,717.36 L288.37,716.87 L289.63,716.4 L290.89,715.94 L292.17,715.5 L293.45,715.07 L294.75,714.67 L296.06,714.27 L297.37,713.9 L298.7,713.54 L300.03,713.2 L301.37,712.87 L302.72,712.56 L304.07,712.27 L305.44,712 L306.8,711.74 L308.18,711.5 L309.56,711.28 L310.94,711.08 L312.33,710.89 L313.73,710.72 L315.13,710.57 L316.53,710.44 L317.93,710.32 L319.34,710.22 L320.75,710.14 L322.16,710.08 L323.57,710.04 L324.99,710.01 L326.4,710 Z" fill="#97460f" stroke="#97460f" stroke-width="0.5" stroke-linejoin="round"/>
<path d="M326.4,826.2 L324.99,826.19 L323.57,826.17 L322.16,826.13 L320.75,826.08 L319.34,826.01 L317.93,825.93 L316.53,825.84 L315.13,825.73 L313.73,825.6 L312.33,825.46 L310.94,825.31 L309.56,825.14 L308.18,824.95 L306.8,824.75 L305.44,824.54 L304.07,824.31 L302.72,824.07 L301.37,823.82 L300.03,823.55 L298.7,823.26 L297.37,822.97 L296.06,822.65 L294.75,822.33 L293.45,821.99 L292.17,821.64 L290.89,821.27 L289.63,820.89 L288.37,820.5 L287.13,820.09 L285.9,819.68 L284.68,819.24 L283.48,818.8 L282.28,818.34 L281.11,817.87 L279.94,817.39 L278.79,816.9 L277.65,816.39 L276.53,815.88 L275.43,815.35 L274.33,814.81 L273.26,814.25 L272.2,813.69 L271.16,813.12 L270.13,812.53 L269.12,811.94 L268.13,811.33 L267.16,810.71 L266.21,810.09 L265.27,809.45 L264.35,808.8 L263.45,808.15 L262.57,807.48 L261.71,806.81 L260.87,806.13 L260.05,805.43 L259.25,804.73 L258.47,804.02 L257.71,803.31 L256.97,802.58 L256.25,801.85 L255.56,801.11 L254.88,800.36 L254.23,799.61 L253.6,798.85 L252.99,798.08 L252.4,797.31 L251.84,796.53 L251.3,795.74 L250.78,794.95 L250.28,794.16 L249.81,793.36 L249.36,792.55 L248.94,791.74 L248.54,790.92 L248.76,790.1 L248.41,789.28 L248.08,788.46 L247.77,787.63 L247.49,786.79 L247.23,785.96 L247,785.12 L246.79,784.28 L246.6,783.44 L246.44,782.59 L246.31,781.74 L246.2,780.9 L246.11,780.05 L246.05,779.2 L246.01,778.35 L246,777.5" stroke="#ff8c2e" stroke-width="1.6" fill="none"/>
<path d="M468.8,767.55 L635.2,767.55 L636.7,804.25 L636.7,805.25 L636.7,806.25 L636.69,807.11 L636.65,807.98 L636.59,808.84 L636.5,809.71 L636.38,810.57 L636.24,811.43 L636.08,812.29 L635.89,813.15 L635.68,814 L635.44,814.85 L635.17,815.7 L634.88,816.55 L634.57,817.4 L634.23,818.24 L633.87,819.07 L633.48,819.91 L633.06,820.74 L632.63,821.56 L632.17,822.38 L631.68,823.2 L631.17,824.01 L630.64,824.81 L630.09,825.61 L629.51,826.4 L628.9,827.19 L628.28,827.97 L627.63,828.75 L626.96,829.51 L626.27,830.27 L625.55,831.02 L624.82,831.77 L624.06,832.51 L623.28,833.24 L622.48,833.96 L621.65,834.67 L620.81,835.37 L619.95,836.07 L619.06,836.76 L618.16,837.43 L617.23,838.1 L616.29,838.76 L615.33,839.41 L614.35,840.04 L613.35,840.67 L612.33,841.29 L611.3,841.89 L610.24,842.49 L609.17,843.07 L608.08,843.65 L606.98,844.21 L605.86,844.76 L604.72,845.3 L603.57,845.82 L602.4,846.34 L601.22,846.84 L600.02,847.33 L598.81,847.81 L597.59,848.27 L596.35,848.72 L595.1,849.16 L593.84,849.59 L592.56,850 L591.27,850.4 L589.97,850.79 L588.66,851.16 L587.34,851.52 L586.01,851.86 L584.67,852.19 L583.32,852.51 L581.96,852.81 L580.59,853.1 L579.21,853.37 L577.83,853.63 L576.43,853.88 L575.03,854.11 L573.63,854.33 L572.22,854.53 L570.8,854.72 L569.38,854.89 L567.95,855.05 L566.52,855.19 L565.08,855.32 L563.64,855.43 L562.2,855.53 L560.75,855.61 L559.3,855.68 L557.85,855.73 L556.4,855.77 L554.95,855.79 L551.5,855.8 L550.05,855.79 L548.6,855.77 L547.15,855.73 L545.7,855.68 L544.25,855.61 L542.8,855.53 L541.36,855.43 L539.92,855.32 L538.48,855.19 L537.05,855.05 L535.62,854.89 L534.2,854.72 L532.78,854.53 L531.37,854.33 L529.97,854.11 L528.57,853.88 L527.17,853.63 L525.79,853.37 L524.41,853.1 L523.04,852.81 L521.68,852.51 L520.33,852.19 L518.99,851.86 L517.66,851.52 L516.34,851.16 L515.03,850.79 L513.73,850.4 L512.44,850 L511.16,849.59 L509.9,849.16 L508.65,848.72 L507.41,848.27 L506.19,847.81 L504.98,847.33 L503.78,846.84 L502.6,846.34 L501.43,845.82 L500.28,845.3 L499.14,844.76 L498.02,844.21 L496.92,843.65 L495.83,843.07 L494.76,842.49 L493.7,841.89 L492.67,841.29 L491.65,840.67 L490.65,840.04 L489.67,839.41 L488.71,838.76 L487.77,838.1 L486.84,837.43 L485.94,836.76 L485.05,836.07 L484.19,835.37 L483.35,834.67 L482.52,833.96 L481.72,833.24 L480.94,832.51 L480.18,831.77 L479.45,831.02 L478.73,830.27 L478.04,829.51 L477.37,828.75 L476.72,827.97 L476.1,827.19 L475.49,826.4 L474.91,825.61 L474.36,824.81 L473.83,824.01 L473.32,823.2 L472.83,822.38 L472.37,821.56 L471.94,820.74 L471.52,819.91 L471.13,819.07 L470.77,818.24 L470.43,817.4 L470.12,816.55 L469.83,815.7 L469.56,814.85 L469.32,814 L469.11,813.15 L468.92,812.29 L468.76,811.43 L468.62,810.57 L468.5,809.71 L468.41,808.84 L468.35,807.98 L468.31,807.11 L468.3,806.25 L468.3,805.25 L468.3,804.25 Z" fill="#c4c4c4" filter="url(#blur1)"/>
<path d="M635.2,777.55 L635.19,778.41 L635.15,779.28 L635.09,780.14 L635,781.01 L634.88,781.87 L634.74,782.73 L634.58,783.59 L634.39,784.45 L634.18,785.3 L633.94,786.15 L633.67,787 L633.38,787.85 L633.07,788.7 L632.73,789.54 L632.37,790.37 L631.98,791.21 L631.56,792.04 L631.13,792.86 L630.67,793.68 L630.18,794.5 L629.67,795.31 L629.14,796.11 L628.59,796.91 L628.01,797.7 L627.4,798.49 L626.78,799.27 L626.13,800.05 L625.46,800.81 L624.77,801.57 L624.05,802.32 L623.32,803.07 L622.56,803.81 L621.78,804.54 L620.98,805.26 L620.15,805.97 L619.31,806.67 L618.45,807.37 L617.56,808.06 L616.66,808.73 L615.73,809.4 L614.79,810.06 L613.83,810.71 L612.85,811.34 L611.85,811.97 L610.83,812.59 L609.8,813.19 L608.74,813.79 L607.67,814.37 L606.58,814.95 L605.48,815.51 L604.36,816.06 L603.22,816.6 L602.07,817.12 L600.9,817.64 L599.72,818.14 L598.52,818.63 L597.31,819.11 L596.09,819.57 L594.85,820.02 L593.6,820.46 L592.34,820.89 L591.06,821.3 L589.77,821.7 L588.47,822.09 L587.16,822.46 L585.84,822.82 L584.51,823.16 L583.17,823.49 L581.82,823.81 L580.46,824.11 L579.09,824.4 L577.71,824.67 L576.33,824.93 L574.93,825.18 L573.53,825.41 L572.13,825.63 L570.72,825.83 L569.3,826.02 L567.88,826.19 L566.45,826.35 L565.02,826.49 L563.58,826.62 L562.14,826.73 L560.7,826.83 L559.25,826.91 L557.8,826.98 L556.35,827.03 L554.9,827.07 L553.45,827.09 L552,827.1 L552,852.8 L553.45,852.79 L554.9,852.77 L556.35,852.73 L557.8,852.68 L559.25,852.61 L560.7,852.53 L562.14,852.43 L563.58,852.32 L565.02,852.19 L566.45,852.05 L567.88,851.89 L569.3,851.72 L570.72,851.53 L572.13,851.33 L573.53,851.11 L574.93,850.88 L576.33,850.63 L577.71,850.37 L579.09,850.1 L580.46,849.81 L581.82,849.51 L583.17,849.19 L584.51,848.86 L585.84,848.52 L587.16,848.16 L588.47,847.79 L589.77,847.4 L591.06,847 L592.34,846.59 L593.6,846.16 L594.85,845.72 L596.09,845.27 L597.31,844.81 L598.52,844.33 L599.72,843.84 L600.9,843.34 L602.07,842.82 L603.22,842.3 L604.36,841.76 L605.48,841.21 L606.58,840.65 L607.67,840.07 L608.74,839.49 L609.8,838.89 L610.83,838.29 L611.85,837.67 L612.85,837.04 L613.83,836.41 L614.79,835.76 L615.73,835.1 L616.66,834.43 L617.56,833.76 L618.45,833.07 L619.31,832.37 L620.15,831.67 L620.98,830.96 L621.78,830.24 L622.56,829.51 L623.32,828.77 L624.05,828.02 L624.77,827.27 L625.46,826.51 L626.13,825.75 L626.78,824.97 L627.4,824.19 L628.01,823.4 L628.59,822.61 L629.14,821.81 L629.67,821.01 L630.18,820.2 L630.67,819.38 L631.13,818.56 L631.56,817.74 L631.98,816.91 L632.37,816.07 L632.73,815.24 L633.07,814.4 L633.38,813.55 L633.67,812.7 L633.94,811.85 L634.18,811 L634.39,810.15 L634.58,809.29 L634.74,808.43 L634.88,807.57 L635,806.71 L635.09,805.84 L635.15,804.98 L635.19,804.11 L635.2,803.25 Z" fill="url(#gRd)" stroke="url(#gRd)" stroke-width="0.5"/>
<path d="M552,827.1 L550.55,827.09 L549.1,827.07 L547.65,827.03 L546.2,826.98 L544.75,826.91 L543.3,826.83 L541.86,826.73 L540.42,826.62 L538.98,826.49 L537.55,826.35 L536.12,826.19 L534.7,826.02 L533.28,825.83 L531.87,825.63 L530.47,825.41 L529.07,825.18 L527.67,824.93 L526.29,824.67 L524.91,824.4 L523.54,824.11 L522.18,823.81 L520.83,823.49 L519.49,823.16 L518.16,822.82 L516.84,822.46 L515.53,822.09 L514.23,821.7 L512.94,821.3 L511.66,820.89 L510.4,820.46 L509.15,820.02 L507.91,819.57 L506.69,819.11 L505.48,818.63 L504.28,818.14 L503.1,817.64 L501.93,817.12 L500.78,816.6 L499.64,816.06 L498.52,815.51 L497.42,814.95 L496.33,814.37 L495.26,813.79 L494.2,813.19 L493.17,812.59 L492.15,811.97 L491.15,811.34 L490.17,810.71 L489.21,810.06 L488.27,809.4 L487.34,808.73 L486.44,808.06 L485.55,807.37 L484.69,806.67 L483.85,805.97 L483.02,805.26 L482.22,804.54 L481.44,803.81 L480.68,803.07 L479.95,802.32 L479.23,801.57 L478.54,800.81 L477.87,800.05 L477.22,799.27 L476.6,798.49 L475.99,797.7 L475.41,796.91 L474.86,796.11 L474.33,795.31 L473.82,794.5 L473.33,793.68 L472.87,792.86 L472.44,792.04 L472.02,791.21 L471.63,790.37 L471.27,789.54 L470.93,788.7 L470.62,787.85 L470.33,787 L470.06,786.15 L469.82,785.3 L469.61,784.45 L469.42,783.59 L469.26,782.73 L469.12,781.87 L469,781.01 L468.91,780.14 L468.85,779.28 L468.81,778.41 L468.8,777.55 L468.8,803.25 L468.81,804.11 L468.85,804.98 L468.91,805.84 L469,806.71 L469.12,807.57 L469.26,808.43 L469.42,809.29 L469.61,810.15 L469.82,811 L470.06,811.85 L470.33,812.7 L470.62,813.55 L470.93,814.4 L471.27,815.24 L471.63,816.07 L472.02,816.91 L472.44,817.74 L472.87,818.56 L473.33,819.38 L473.82,820.2 L474.33,821.01 L474.86,821.81 L475.41,822.61 L475.99,823.4 L476.6,824.19 L477.22,824.97 L477.87,825.75 L478.54,826.51 L479.23,827.27 L479.95,828.02 L480.68,828.77 L481.44,829.51 L482.22,830.24 L483.02,830.96 L483.85,831.67 L484.69,832.37 L485.55,833.07 L486.44,833.76 L487.34,834.43 L488.27,835.1 L489.21,835.76 L490.17,836.41 L491.15,837.04 L492.15,837.67 L493.17,838.29 L494.2,838.89 L495.26,839.49 L496.33,840.07 L497.42,840.65 L498.52,841.21 L499.64,841.76 L500.78,842.3 L501.93,842.82 L503.1,843.34 L504.28,843.84 L505.48,844.33 L506.69,844.81 L507.91,845.27 L509.15,845.72 L510.4,846.16 L511.66,846.59 L512.94,847 L514.23,847.4 L515.53,847.79 L516.84,848.16 L518.16,848.52 L519.49,848.86 L520.83,849.19 L522.18,849.51 L523.54,849.81 L524.91,850.1 L526.29,850.37 L527.67,850.63 L529.07,850.88 L530.47,851.11 L531.87,851.33 L533.28,851.53 L534.7,851.72 L536.12,851.89 L537.55,852.05 L538.98,852.19 L540.42,852.32 L541.86,852.43 L543.3,852.53 L544.75,852.61 L546.2,852.68 L547.65,852.73 L549.1,852.77 L550.55,852.79 L552,852.8 Z" fill="url(#gOr)" stroke="url(#gOr)" stroke-width="0.5"/>
<path d="M552.1,755.4 L552,708 L553.45,708.01 L554.9,708.04 L556.35,708.08 L557.8,708.15 L559.25,708.23 L560.7,708.33 L562.14,708.44 L563.58,708.58 L565.02,708.73 L566.45,708.9 L567.88,709.09 L569.3,709.3 L570.72,709.53 L572.13,709.77 L573.53,710.03 L574.93,710.31 L576.33,710.6 L577.71,710.91 L579.09,711.24 L580.46,711.59 L581.82,711.96 L583.17,712.34 L584.51,712.73 L585.84,713.15 L587.16,713.58 L588.47,714.03 L589.77,714.49 L591.06,714.97 L592.34,715.47 L593.6,715.98 L594.85,716.51 L596.09,717.05 L597.31,717.61 L598.52,718.18 L599.72,718.77 L600.9,719.37 L602.07,719.99 L603.22,720.62 L604.36,721.27 L605.48,721.93 L606.58,722.61 L607.67,723.3 L608.74,724 L609.8,724.71 L610.83,725.44 L611.85,726.18 L612.85,726.94 L613.83,727.7 L614.79,728.48 L615.73,729.27 L616.66,730.07 L617.56,730.89 Z" fill="#ffff00" stroke="#ffff00" stroke-width="0.5" stroke-linejoin="round"/>
<path d="M552.1,755.4 L617.56,730.89 L618.45,731.71 L619.31,732.55 L620.15,733.39 L620.98,734.25 L621.78,735.12 L622.56,735.99 L623.32,736.88 L624.05,737.77 L624.77,738.68 L625.46,739.59 L626.13,740.51 L626.78,741.44 L627.4,742.38 L628.01,743.33 L628.59,744.28 L629.14,745.24 L629.67,746.21 L630.18,747.18 L630.67,748.16 L631.13,749.15 L631.56,750.14 L631.98,751.14 L632.37,752.14 L632.73,753.14 L633.07,754.15 L633.38,755.17 L633.67,756.19 L633.94,757.21 L634.18,758.23 L634.39,759.26 L634.58,760.29 L634.74,761.33 L634.88,762.36 L635,763.4 L635.09,764.43 L635.15,765.47 L635.19,766.51 L635.2,767.55 L635.2,768.55 L635.2,769.55 L635.2,770.55 L635.2,771.55 L635.2,772.55 L635.2,773.55 L635.2,774.55 L635.2,775.55 L635.2,776.55 L635.2,777.55 L635.19,778.41 L635.15,779.28 L635.09,780.14 L635,781.01 L634.88,781.87 L634.74,782.73 L634.58,783.59 L634.39,784.45 L634.18,785.3 L633.94,786.15 L633.67,787 L633.38,787.85 L633.07,788.7 L632.73,789.54 L632.37,790.37 L631.98,791.21 L631.56,792.04 L631.13,792.86 L630.67,793.68 L630.18,794.5 L629.67,795.31 L629.14,796.11 L628.59,796.91 L628.01,797.7 L627.4,798.49 L626.78,799.27 L626.13,800.05 L625.46,800.81 L624.77,801.57 L624.05,802.32 L623.32,803.07 L622.56,803.81 L621.78,804.54 L620.98,805.26 L620.15,805.97 L619.31,806.67 L618.45,807.37 L617.56,808.06 L616.66,808.73 L615.73,809.4 L614.79,810.06 L613.83,810.71 L612.85,811.34 L611.85,811.97 L610.83,812.59 L609.8,813.19 L608.74,813.79 L607.67,814.37 L606.58,814.95 L605.48,815.51 L604.36,816.06 L603.22,816.6 L602.07,817.12 L600.9,817.64 L599.72,818.14 L598.52,818.63 L597.31,819.11 L596.09,819.57 L594.85,820.02 L593.6,820.46 L592.34,820.89 L591.06,821.3 L589.77,821.7 L588.47,822.09 L587.16,822.46 L585.84,822.82 L584.51,823.16 L583.17,823.49 L581.82,823.81 L580.46,824.11 L579.09,824.4 L577.71,824.67 L576.33,824.93 L574.93,825.18 L573.53,825.41 L572.13,825.63 L570.72,825.83 L569.3,826.02 L567.88,826.19 L566.45,826.35 L565.02,826.49 L563.58,826.62 L562.14,826.73 L560.7,826.83 L559.25,826.91 L557.8,826.98 L556.35,827.03 L554.9,827.07 L553.45,827.09 L552,827.1 Z" fill="#ff0000" stroke="#ff0000" stroke-width="0.5" stroke-linejoin="round"/>
<path d="M552.1,755.4 L552,827.1 L550.55,827.09 L549.1,827.07 L547.65,827.03 L546.2,826.98 L544.75,826.91 L543.3,826.83 L541.86,826.73 L540.42,826.62 L538.98,826.49 L537.55,826.35 L536.12,826.19 L534.7,826.02 L533.28,825.83 L531.87,825.63 L530.47,825.41 L529.07,825.18 L527.67,824.93 L526.29,824.67 L524.91,824.4 L523.54,824.11 L522.18,823.81 L520.83,823.49 L519.49,823.16 L518.16,822.82 L516.84,822.46 L515.53,822.09 L514.23,821.7 L512.94,821.3 L511.66,820.89 L510.4,820.46 L509.15,820.02 L507.91,819.57 L506.69,819.11 L505.48,818.63 L504.28,818.14 L503.1,817.64 L501.93,817.12 L500.78,816.6 L499.64,816.06 L498.52,815.51 L497.42,814.95 L496.33,814.37 L495.26,813.79 L494.2,813.19 L493.17,812.59 L492.15,811.97 L491.15,811.34 L490.17,810.71 L489.21,810.06 L488.27,809.4 L487.34,808.73 L486.44,808.06 L485.55,807.37 L484.69,806.67 L483.85,805.97 L483.02,805.26 L482.22,804.54 L481.44,803.81 L480.68,803.07 L479.95,802.32 L479.23,801.57 L478.54,800.81 L477.87,800.05 L477.22,799.27 L476.6,798.49 L475.99,797.7 L475.41,796.91 L474.86,796.11 L474.33,795.31 L473.82,794.5 L473.33,793.68 L472.87,792.86 L472.44,792.04 L472.02,791.21 L471.63,790.37 L471.27,789.54 L470.93,788.7 L470.62,787.85 L470.33,787 L470.06,786.15 L469.82,785.3 L469.61,784.45 L469.42,783.59 L469.26,782.73 L469.12,781.87 L469,781.01 L468.91,780.14 L468.85,779.28 L468.81,778.41 L468.8,777.55 L468.8,776.55 L468.8,775.55 L468.8,774.9 Z" fill="#ff6600" stroke="#ff6600" stroke-width="0.5" stroke-linejoin="round"/>
<path d="M552.1,755.4 L468.8,774.9 L468.8,774.55 L468.8,773.55 L468.8,772.55 L468.8,771.55 L468.8,770.55 L468.8,769.55 L468.8,768.55 L468.8,767.55 L468.81,766.51 L468.85,765.47 L468.91,764.43 L469,763.4 L469.12,762.36 L469.26,761.33 L469.42,760.29 L469.61,759.26 L469.82,758.23 L470.06,757.21 L470.33,756.19 L470.62,755.17 L470.93,754.15 L471.27,753.14 L471.63,752.14 L472.02,751.14 L472.44,750.14 L472.87,749.15 L473.33,748.16 L473.82,747.18 L474.33,746.21 L474.86,745.24 L475.41,744.28 L475.99,743.33 Z" fill="#00ee00" stroke="#00ee00" stroke-width="0.5" stroke-linejoin="round"/>
<path d="M552.1,755.4 L475.99,743.33 L476.6,742.38 L477.22,741.44 L477.87,740.51 L478.54,739.59 L479.23,738.68 L479.95,737.77 L480.68,736.88 L481.44,735.99 L482.22,735.12 L483.02,734.25 L483.85,733.39 L484.69,732.55 L485.55,731.71 L486.44,730.89 L487.34,730.07 L488.27,729.27 L489.21,728.48 L490.17,727.7 L491.15,726.94 L492.15,726.18 L493.17,725.44 L494.2,724.71 L495.26,724 L496.33,723.3 L497.42,722.61 L498.52,721.93 L499.64,721.27 L500.78,720.62 L501.93,719.99 L503.1,719.37 L504.28,718.77 L505.48,718.18 L506.69,717.61 L507.91,717.05 L509.15,716.51 L510.4,715.98 L511.66,715.47 L512.94,714.97 L514.23,714.49 L515.53,714.03 L516.84,713.58 L518.16,713.15 L519.49,712.73 L520.83,712.34 L522.18,711.96 L523.54,711.59 L524.91,711.24 L526.29,710.91 L527.67,710.6 L529.07,710.31 L530.47,710.03 L531.87,709.77 L533.28,709.53 L534.7,709.3 L536.12,709.09 L537.55,708.9 L538.98,708.73 L540.42,708.58 L541.86,708.44 L543.3,708.33 L544.75,708.23 L546.2,708.15 L547.65,708.08 L549.1,708.04 L550.55,708.01 L552,708 Z" fill="#97460f" stroke="#97460f" stroke-width="0.5" stroke-linejoin="round"/>
<path d="M552,825.9 L550.55,825.89 L549.1,825.87 L547.65,825.83 L546.2,825.78 L544.75,825.71 L543.3,825.63 L541.86,825.53 L540.42,825.42 L538.98,825.29 L537.55,825.15 L536.12,824.99 L534.7,824.82 L533.28,824.63 L531.87,824.43 L530.47,824.21 L529.07,823.98 L527.67,823.73 L526.29,823.47 L524.91,823.2 L523.54,822.91 L522.18,822.61 L520.83,822.29 L519.49,821.96 L518.16,821.62 L516.84,821.26 L515.53,820.89 L514.23,820.5 L512.94,820.1 L511.66,819.69 L510.4,819.26 L509.15,818.82 L507.91,818.37 L506.69,817.91 L505.48,817.43 L504.28,816.94 L503.1,816.44 L501.93,815.92 L500.78,815.4 L499.64,814.86 L498.52,814.31 L497.42,813.75 L496.33,813.17 L495.26,812.59 L494.2,811.99 L493.17,811.39 L492.15,810.77 L491.15,810.14 L490.17,809.51 L489.21,808.86 L488.27,808.2 L487.34,807.53 L486.44,806.86 L485.55,806.17 L484.69,805.47 L483.85,804.77 L483.02,804.06 L482.22,803.34 L481.44,802.61 L480.68,801.87 L479.95,801.12 L479.23,800.37 L478.54,799.61 L477.87,798.85 L477.22,798.07 L476.6,797.29 L475.99,796.5 L475.41,795.71 L474.86,794.91 L474.33,794.11 L473.82,793.3 L473.33,792.48 L472.87,791.66 L472.44,790.84 L472.02,790.01 L472.23,789.17 L471.87,788.34 L471.53,787.5 L471.22,786.65 L470.93,785.8 L470.66,784.95 L470.42,784.1 L470.21,783.25 L470.02,782.39 L469.86,781.53 L469.72,780.67 L469.6,779.81 L469.51,778.94 L469.45,778.08 L469.41,777.21 L469.4,776.35" stroke="#ff8c2e" stroke-width="1.6" fill="none"/>
<text x="80.81" y="678.37" font-family="'Liberation Serif', 'Times New Roman', serif" font-weight="bold" font-size="11" fill="#000" stroke="#000" stroke-width="0.22" textLength="35.08" lengthAdjust="spacingAndGlyphs">(15 - 16 S)</text>
<text x="308.71" y="678.67" font-family="'Liberation Serif', 'Times New Roman', serif" font-weight="bold" font-size="11" fill="#000" stroke="#000" stroke-width="0.22" textLength="35.58" lengthAdjust="spacingAndGlyphs">(16 - 18 S)</text>
<text x="534.41" y="676.47" font-family="'Liberation Serif', 'Times New Roman', serif" font-weight="bold" font-size="11" fill="#000" stroke="#000" stroke-width="0.22" textLength="35.88" lengthAdjust="spacingAndGlyphs">(18 - 20 S)</text>
<text x="111.91" y="738.77" font-family="'Liberation Serif', 'Times New Roman', serif" font-weight="bold" font-size="8.4" fill="#000" stroke="#000" stroke-width="0.22" textLength="42.18" lengthAdjust="spacingAndGlyphs">PMSG (8.5 kW)</text>
<text x="121.11" y="784.97" font-family="'Liberation Serif', 'Times New Roman', serif" font-weight="bold" font-size="8.4" fill="#000" stroke="#000" stroke-width="0.22" textLength="31.58" lengthAdjust="spacingAndGlyphs">PV (8.1 kW)</text>
<text x="30.11" y="775.77" font-family="'Liberation Serif', 'Times New Roman', serif" font-weight="bold" font-size="8.4" fill="#000" stroke="#000" stroke-width="0.22" textLength="51.08" lengthAdjust="spacingAndGlyphs">AC LOAD (10 kW)</text>
<g transform="translate(64,737) rotate(12) skewX(-8)">
<text x="-21.39" y="2.16" font-family="'Liberation Serif', 'Times New Roman', serif" font-weight="bold" font-size="8" fill="#000" stroke="#000" stroke-width="0.22" textLength="42.78" lengthAdjust="spacingAndGlyphs">DC LOAD (4 kW)</text>
</g>
<text x="21.11" y="695.1" font-family="'Liberation Serif', 'Times New Roman', serif" font-weight="bold" font-size="7.4" fill="#8b4a25" stroke="#8b4a25" stroke-width="0.22" textLength="47.68" lengthAdjust="spacingAndGlyphs">BATTERY (2.6 kW)</text>
<text x="30.01" y="705.22" font-family="'Liberation Serif', 'Times New Roman', serif" font-weight="bold" font-size="7.4" fill="#8b4a25" stroke="#8b4a25" stroke-width="0.22" textLength="29.98" lengthAdjust="spacingAndGlyphs">CHARGING</text>
<path d="M63.4,699 L65.5,699.2 L81.8,708.6" stroke="#7a3510" stroke-width="1.7" fill="none" stroke-linejoin="round" />
<text x="184.51" y="772.03" font-family="'Liberation Serif', 'Times New Roman', serif" font-weight="bold" font-size="9" fill="#ff2020" stroke="#ff2020" stroke-width="0.22" textLength="34.88" lengthAdjust="spacingAndGlyphs">DFIG (0 kW)</text>
<text x="179.31" y="787.63" font-family="'Liberation Serif', 'Times New Roman', serif" font-weight="bold" font-size="9" fill="#ff2020" stroke="#ff2020" stroke-width="0.22" textLength="41.78" lengthAdjust="spacingAndGlyphs">DIESEL (0 kW)</text>
<text x="183.11" y="802.13" font-family="'Liberation Serif', 'Times New Roman', serif" font-weight="bold" font-size="9" fill="#ff2020" stroke="#ff2020" stroke-width="0.22" textLength="35.38" lengthAdjust="spacingAndGlyphs">GRID (0 kW)</text>
<text x="12.41" y="859.41" font-family="'Liberation Serif', 'Times New Roman', serif" font-weight="bold" font-size="8.2" fill="#000" stroke="#000" stroke-width="0.22" textLength="187.18" lengthAdjust="spacingAndGlyphs">PV + PMSG + DFIG + DIESEL+ GRID = AC LOAD + DC LOAD + BATTERY</text>
<text x="282.11" y="728.74" font-family="'Liberation Serif', 'Times New Roman', serif" font-weight="bold" font-size="7.2" fill="#fff" stroke="#fff" stroke-width="0.22" textLength="43.18" lengthAdjust="spacingAndGlyphs">BATTERY (6.9 kW)</text>
<text x="290.01" y="737.06" font-family="'Liberation Serif', 'Times New Roman', serif" font-weight="bold" font-size="7.2" fill="#fff" stroke="#fff" stroke-width="0.22" textLength="26.88" lengthAdjust="spacingAndGlyphs">CHARGING</text>
<text x="336.81" y="736.47" font-family="'Liberation Serif', 'Times New Roman', serif" font-weight="bold" font-size="8.4" fill="#000" stroke="#000" stroke-width="0.22" textLength="42.38" lengthAdjust="spacingAndGlyphs">PMSG (8.5 kW)</text>
<g transform="translate(276.4,749.9) rotate(2)">
<text x="-24.49" y="2.27" font-family="'Liberation Serif', 'Times New Roman', serif" font-weight="bold" font-size="8.4" fill="#000" stroke="#000" stroke-width="0.22" textLength="48.98" lengthAdjust="spacingAndGlyphs">DC LOAD (4 kW)</text>
</g>
<text x="349.91" y="779.27" font-family="'Liberation Serif', 'Times New Roman', serif" font-weight="bold" font-size="8.4" fill="#000" stroke="#000" stroke-width="0.22" textLength="35.78" lengthAdjust="spacingAndGlyphs">PV (12.4 kW)</text>
<text x="269.51" y="790.77" font-family="'Liberation Serif', 'Times New Roman', serif" font-weight="bold" font-size="8.4" fill="#000" stroke="#000" stroke-width="0.22" textLength="51.28" lengthAdjust="spacingAndGlyphs">AC LOAD (10 kW)</text>
<text x="415.11" y="744.03" font-family="'Liberation Serif', 'Times New Roman', serif" font-weight="bold" font-size="9" fill="#ff2020" stroke="#ff2020" stroke-width="0.22" textLength="35.28" lengthAdjust="spacingAndGlyphs">DFIG (0 kW)</text>
<text x="411.61" y="759.13" font-family="'Liberation Serif', 'Times New Roman', serif" font-weight="bold" font-size="9" fill="#ff2020" stroke="#ff2020" stroke-width="0.22" textLength="42.78" lengthAdjust="spacingAndGlyphs">DIESEL (0 kW)</text>
<text x="415.11" y="772.73" font-family="'Liberation Serif', 'Times New Roman', serif" font-weight="bold" font-size="9" fill="#ff2020" stroke="#ff2020" stroke-width="0.22" textLength="35.28" lengthAdjust="spacingAndGlyphs">GRID (0 kW)</text>
<text x="240.11" y="865.21" font-family="'Liberation Serif', 'Times New Roman', serif" font-weight="bold" font-size="8.2" fill="#000" stroke="#000" stroke-width="0.22" textLength="191.08" lengthAdjust="spacingAndGlyphs">PV + PMSG + DFIG + DIESEL+ GRID&#160; = AC LOAD + DC LOAD + BATTERY</text>
<text x="498.71" y="732.7" font-family="'Liberation Serif', 'Times New Roman', serif" font-weight="bold" font-size="7.4" fill="#fff" stroke="#fff" stroke-width="0.22" textLength="44.98" lengthAdjust="spacingAndGlyphs">BATTERY (11 kW)</text>
<text x="505.81" y="741.62" font-family="'Liberation Serif', 'Times New Roman', serif" font-weight="bold" font-size="7.4" fill="#fff" stroke="#fff" stroke-width="0.22" textLength="29.98" lengthAdjust="spacingAndGlyphs">CHARGING</text>
<text x="557.11" y="731.17" font-family="'Liberation Serif', 'Times New Roman', serif" font-weight="bold" font-size="8.4" fill="#000" stroke="#000" stroke-width="0.22" textLength="43.08" lengthAdjust="spacingAndGlyphs">PMSG (8.5 kW)</text>
<g transform="translate(497.2,757.8) rotate(1)">
<text x="-22.09" y="2.21" font-family="'Liberation Serif', 'Times New Roman', serif" font-weight="bold" font-size="8.2" fill="#000" stroke="#000" stroke-width="0.22" textLength="44.18" lengthAdjust="spacingAndGlyphs">DC LOAD (4 kW)</text>
</g>
<text x="580.21" y="777.97" font-family="'Liberation Serif', 'Times New Roman', serif" font-weight="bold" font-size="8.4" fill="#000" stroke="#000" stroke-width="0.22" textLength="36.58" lengthAdjust="spacingAndGlyphs">PV (16.5 kW)</text>
<text x="492.71" y="792.37" font-family="'Liberation Serif', 'Times New Roman', serif" font-weight="bold" font-size="8.4" fill="#000" stroke="#000" stroke-width="0.22" textLength="52.28" lengthAdjust="spacingAndGlyphs">AC LOAD (10 kW)</text>
<text x="639.61" y="763.33" font-family="'Liberation Serif', 'Times New Roman', serif" font-weight="bold" font-size="9" fill="#ff2020" stroke="#ff2020" stroke-width="0.22" textLength="35.28" lengthAdjust="spacingAndGlyphs">DFIG (0 kW)</text>
<text x="636.61" y="777.33" font-family="'Liberation Serif', 'Times New Roman', serif" font-weight="bold" font-size="9" fill="#ff2020" stroke="#ff2020" stroke-width="0.22" textLength="42.28" lengthAdjust="spacingAndGlyphs">DIESEL (0 kW)</text>
<text x="640.61" y="793.13" font-family="'Liberation Serif', 'Times New Roman', serif" font-weight="bold" font-size="9" fill="#ff2020" stroke="#ff2020" stroke-width="0.22" textLength="36.28" lengthAdjust="spacingAndGlyphs">GRID (0 kW)</text>
<text x="464.41" y="865.21" font-family="'Liberation Serif', 'Times New Roman', serif" font-weight="bold" font-size="8.2" fill="#000" stroke="#000" stroke-width="0.22" textLength="194.88" lengthAdjust="spacingAndGlyphs">PV + PMSG + DFIG + DIESEL+ GRID&#160;&#160; = AC LOAD + DC LOAD + BATTERY</text>
<text x="331.91" y="905.66" font-family="'Liberation Serif', 'Times New Roman', serif" font-weight="bold" font-size="14" fill="#000" stroke="#000" stroke-width="0.22" textLength="20.48" lengthAdjust="spacingAndGlyphs">(m)</text>
</svg>
</body></html>
